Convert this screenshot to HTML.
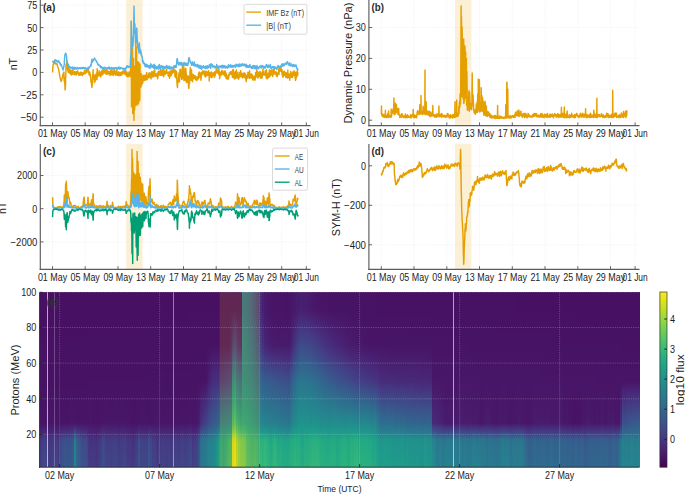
<!DOCTYPE html>
<html><head><meta charset="utf-8"><title>Space weather May 2024</title>
<style>
html,body{margin:0;padding:0;background:#fff;}
body{width:685px;height:494px;position:relative;overflow:hidden;font-family:"Liberation Sans",sans-serif;}
#hm{position:absolute;left:39.6px;top:292.3px;width:600.0px;height:174.9px;overflow:hidden;background:#440c5c;}
#hm i{position:absolute;top:0;height:100%;width:2.60px;display:block;}
</style></head><body>
<div id="hm"><i style="left:0.00px;background:linear-gradient(#471063 0%,#471063 25%,#471164 30%,#471164 51%,#471365 56%,#471365 66%,#481467 71%,#481467 75%,#481d6f 78%,#482878 81%,#453581 84%,#443983 87%,#443b84 93%,#423f85 100%)"></i><i style="left:2.00px;background:linear-gradient(#471063 0%,#471063 25%,#471164 30%,#471164 51%,#471365 56%,#471365 71%,#481467 75%,#481f70 78%,#472c7a 81%,#443b84 84%,#423f85 87%,#414287 93%,#404688 100%)"></i><i style="left:4.00px;background:linear-gradient(#471063 0%,#471063 25%,#471164 30%,#471164 51%,#471365 56%,#471365 66%,#481467 71%,#481467 75%,#482071 78%,#472d7b 81%,#433e85 84%,#424186 87%,#404588 93%,#3f4889 100%)"></i><i style="left:6.00px;background:linear-gradient(#471063 0%,#471063 25%,#471164 30%,#471164 51%,#471365 56%,#481467 61%,#481668 66%,#481668 71%,#481769 75%,#482071 78%,#472a7a 81%,#453882 84%,#443a83 87%,#433e85 93%,#424186 100%)"></i><i style="left:8.00px;background:linear-gradient(#471063 0%,#471063 25%,#471164 30%,#471164 51%,#471365 56%,#471365 61%,#481467 66%,#481467 71%,#481668 75%,#481f70 78%,#482979 81%,#453581 84%,#443983 87%,#443b84 93%,#423f85 100%)"></i><i style="left:10.00px;background:linear-gradient(#471063 0%,#471063 25%,#471164 30%,#471164 51%,#471365 56%,#471365 61%,#481467 66%,#481668 71%,#481668 75%,#481f70 78%,#482878 81%,#463480 84%,#453781 87%,#443a83 93%,#433e85 100%)"></i><i style="left:12.00px;background:linear-gradient(#471063 0%,#471063 25%,#471164 30%,#471164 51%,#471365 56%,#471365 61%,#481467 66%,#481467 71%,#481668 75%,#481f70 78%,#472a7a 81%,#453882 84%,#443b84 87%,#423f85 93%,#414287 100%)"></i><i style="left:14.00px;background:linear-gradient(#471063 0%,#471063 25%,#471164 30%,#471164 51%,#471365 56%,#471365 61%,#481467 66%,#481467 71%,#481668 75%,#481f70 78%,#482979 81%,#453882 84%,#443a83 87%,#433e85 93%,#424186 100%)"></i><i style="left:16.00px;background:linear-gradient(#471063 0%,#471063 25%,#471164 30%,#471164 51%,#471365 56%,#471365 71%,#481467 75%,#481f70 78%,#472a7a 81%,#443a83 84%,#433e85 87%,#424186 93%,#404588 100%)"></i><i style="left:18.00px;background:linear-gradient(#471063 0%,#471063 25%,#471164 30%,#471164 51%,#471365 56%,#471365 75%,#481c6e 78%,#482576 81%,#46307e 84%,#463480 87%,#453781 93%,#443a83 100%)"></i><i style="left:20.00px;background:linear-gradient(#471063 0%,#471063 25%,#471164 30%,#471164 51%,#471365 56%,#471365 71%,#481467 75%,#482173 78%,#46307e 81%,#414487 84%,#3f4889 87%,#3e4a89 93%,#3d4e8a 100%)"></i><i style="left:22.00px;background:linear-gradient(#471063 0%,#471063 25%,#471164 30%,#471164 51%,#471365 56%,#471365 66%,#481467 71%,#481467 75%,#482475 78%,#463480 81%,#3e4a89 84%,#3c4f8a 87%,#3b518b 93%,#3a548c 100%)"></i><i style="left:24.00px;background:linear-gradient(#471063 0%,#471063 25%,#471164 30%,#471164 51%,#471365 56%,#471365 61%,#481467 66%,#481467 71%,#481668 75%,#482576 78%,#453781 81%,#3d4e8a 84%,#3b528b 87%,#39558c 93%,#38598c 100%)"></i><i style="left:26.00px;background:linear-gradient(#471063 0%,#471063 25%,#471164 30%,#471164 51%,#471365 56%,#471365 61%,#481467 66%,#481467 75%,#482576 78%,#453581 81%,#3d4d8a 84%,#3b518b 87%,#3a548c 93%,#38588c 100%)"></i><i style="left:28.00px;background:linear-gradient(#471063 0%,#471063 25%,#471164 30%,#471164 51%,#471365 56%,#471365 61%,#481467 66%,#481467 75%,#482576 78%,#453581 81%,#3e4c8a 84%,#3c508b 87%,#3a538b 93%,#39568c 100%)"></i><i style="left:30.00px;background:linear-gradient(#471063 0%,#471063 25%,#471164 30%,#471164 51%,#471365 56%,#481467 61%,#481668 66%,#481668 71%,#481769 75%,#482878 78%,#443983 81%,#3c4f8a 84%,#3a548c 87%,#39568c 93%,#375a8c 100%)"></i><i style="left:32.00px;background:linear-gradient(#471063 0%,#471063 25%,#471164 30%,#471164 51%,#471365 56%,#481467 61%,#481467 66%,#481668 71%,#481668 75%,#482878 78%,#443a83 81%,#3a538b 84%,#38598c 87%,#375b8d 93%,#355e8d 100%)"></i><i style="left:34.00px;background:linear-gradient(#471063 0%,#471063 25%,#471164 30%,#471164 51%,#471365 56%,#471365 61%,#481467 66%,#481467 71%,#481668 75%,#463480 78%,#3b528b 81%,#29798e 84%,#26818e 87%,#26828e 93%,#25858e 100%)"></i><i style="left:36.00px;background:linear-gradient(#471063 0%,#471063 25%,#471164 30%,#471164 51%,#471365 56%,#471365 61%,#481467 66%,#481467 71%,#481668 75%,#472a7a 78%,#424086 81%,#365d8d 84%,#33638d 87%,#32658e 93%,#31688e 100%)"></i><i style="left:38.00px;background:linear-gradient(#471063 0%,#471063 25%,#471164 30%,#471164 51%,#471365 56%,#471365 61%,#481467 66%,#481467 75%,#482878 78%,#443b84 81%,#3a548c 84%,#375a8c 87%,#365d8d 93%,#34608d 100%)"></i><i style="left:40.00px;background:linear-gradient(#471063 0%,#471063 25%,#471164 30%,#471164 51%,#471365 56%,#471365 61%,#481467 66%,#481467 71%,#481668 75%,#482677 78%,#453781 81%,#3d4e8a 84%,#3b528b 87%,#39558c 93%,#38598c 100%)"></i><i style="left:42.00px;background:linear-gradient(#471063 0%,#471063 25%,#471164 30%,#471164 51%,#471365 56%,#471365 61%,#481467 66%,#481467 71%,#481668 75%,#482475 78%,#46337f 81%,#3f4788 84%,#3e4a89 87%,#3d4e8a 93%,#3b518b 100%)"></i><i style="left:44.00px;background:linear-gradient(#471063 0%,#471063 25%,#471164 30%,#471164 51%,#471365 56%,#471365 61%,#481467 66%,#481467 75%,#482475 78%,#463480 81%,#3e4a89 84%,#3c4f8a 87%,#3b518b 93%,#3a548c 100%)"></i><i style="left:46.00px;background:linear-gradient(#471063 0%,#471063 25%,#471164 30%,#471164 46%,#471365 51%,#471365 61%,#481467 66%,#481467 71%,#481668 75%,#482374 78%,#46307e 81%,#414287 84%,#3f4788 87%,#3e4989 93%,#3d4d8a 100%)"></i><i style="left:48.00px;background:linear-gradient(#471063 0%,#471063 20%,#471164 25%,#471164 46%,#471365 51%,#471365 56%,#481467 61%,#481668 66%,#481668 71%,#481769 75%,#481f70 78%,#482878 81%,#46337f 84%,#453781 87%,#443983 93%,#433d84 100%)"></i><i style="left:50.00px;background:linear-gradient(#471063 0%,#471063 20%,#471164 25%,#471164 46%,#471365 51%,#471365 56%,#481467 61%,#481668 66%,#481769 71%,#481769 75%,#481f70 78%,#482677 81%,#46307e 84%,#46337f 87%,#453781 93%,#443a83 100%)"></i><i style="left:52.00px;background:linear-gradient(#471063 0%,#471063 20%,#471164 25%,#471164 46%,#471365 51%,#471365 61%,#481467 66%,#481467 75%,#481d6f 78%,#482677 81%,#46337f 84%,#453581 87%,#443983 93%,#433d84 100%)"></i><i style="left:54.00px;background:linear-gradient(#471063 0%,#471063 20%,#471164 25%,#471164 46%,#471365 51%,#471365 61%,#481467 66%,#481467 75%,#481d6f 78%,#482576 81%,#46307e 84%,#463480 87%,#453781 93%,#443a83 100%)"></i><i style="left:56.00px;background:linear-gradient(#471063 0%,#471063 20%,#471164 25%,#471164 46%,#471365 51%,#471365 66%,#481467 71%,#481467 75%,#481c6e 78%,#482475 81%,#472e7c 84%,#46327e 87%,#463480 93%,#453882 100%)"></i><i style="left:58.00px;background:linear-gradient(#471063 0%,#471063 20%,#471164 25%,#471164 46%,#471365 51%,#471365 61%,#481467 66%,#481467 75%,#481d6f 78%,#482878 81%,#463480 84%,#453882 87%,#443a83 93%,#433e85 100%)"></i><i style="left:60.00px;background:linear-gradient(#471063 0%,#471063 20%,#471164 25%,#471164 46%,#471365 51%,#471365 61%,#481467 66%,#481467 75%,#482071 78%,#472c7a 81%,#443a83 84%,#433e85 87%,#424186 93%,#404588 100%)"></i><i style="left:62.00px;background:linear-gradient(#471063 0%,#471063 20%,#471164 25%,#471164 46%,#471365 51%,#471365 56%,#481467 61%,#481467 66%,#481668 71%,#481668 75%,#482475 78%,#46327e 81%,#414487 84%,#3f4889 87%,#3e4c8a 93%,#3c4f8a 100%)"></i><i style="left:64.00px;background:linear-gradient(#471063 0%,#471063 20%,#471164 25%,#471164 46%,#471365 51%,#471365 56%,#481467 61%,#481668 66%,#481668 71%,#481769 75%,#482374 78%,#472f7d 81%,#424186 84%,#404588 87%,#3f4889 93%,#3e4c8a 100%)"></i><i style="left:66.00px;background:linear-gradient(#471063 0%,#471063 20%,#471164 25%,#471164 46%,#471365 51%,#471365 56%,#481467 61%,#481668 66%,#481668 71%,#481769 75%,#482173 78%,#472c7a 81%,#443983 84%,#433d84 87%,#423f85 93%,#414287 100%)"></i><i style="left:68.00px;background:linear-gradient(#471063 0%,#471063 20%,#471164 25%,#471164 46%,#471365 51%,#471365 56%,#481467 61%,#481668 66%,#481668 71%,#481769 75%,#482173 78%,#472d7b 81%,#443b84 84%,#423f85 87%,#414287 93%,#404688 100%)"></i><i style="left:70.00px;background:linear-gradient(#471063 0%,#471063 20%,#471164 25%,#471164 46%,#471365 51%,#471365 56%,#481467 61%,#481467 66%,#481668 71%,#481769 75%,#482071 78%,#472a7a 81%,#443983 84%,#433d84 87%,#423f85 93%,#414287 100%)"></i><i style="left:72.00px;background:linear-gradient(#471063 0%,#471063 20%,#471164 25%,#471164 46%,#471365 51%,#471365 56%,#481467 61%,#481467 66%,#481668 71%,#481769 75%,#482173 78%,#472d7b 81%,#443b84 84%,#423f85 87%,#424186 93%,#404588 100%)"></i><i style="left:74.00px;background:linear-gradient(#471063 0%,#471063 20%,#471164 25%,#471164 46%,#471365 51%,#471365 56%,#481467 61%,#481668 66%,#481668 71%,#481769 75%,#482374 78%,#472e7c 81%,#433e85 84%,#414287 87%,#404588 93%,#3f4889 100%)"></i><i style="left:76.00px;background:linear-gradient(#471063 0%,#471063 20%,#471164 25%,#471164 46%,#471365 51%,#471365 56%,#481467 61%,#481668 66%,#481668 71%,#481769 75%,#482173 78%,#472c7a 81%,#443a83 84%,#433e85 87%,#424186 93%,#404588 100%)"></i><i style="left:78.00px;background:linear-gradient(#471063 0%,#471063 20%,#471164 25%,#471164 46%,#471365 51%,#471365 56%,#481467 61%,#481467 66%,#481668 71%,#481769 75%,#482071 78%,#482979 81%,#453581 84%,#443983 87%,#433d84 93%,#424086 100%)"></i><i style="left:80.00px;background:linear-gradient(#471063 0%,#471063 20%,#471164 25%,#471164 46%,#471365 51%,#471365 56%,#481467 61%,#481668 66%,#481668 71%,#481769 75%,#482173 78%,#472c7a 81%,#443983 84%,#433d84 87%,#423f85 93%,#414287 100%)"></i><i style="left:82.00px;background:linear-gradient(#471063 0%,#471063 20%,#471164 25%,#471164 46%,#471365 51%,#471365 56%,#481467 61%,#481668 66%,#481668 71%,#481769 75%,#482173 78%,#472c7a 81%,#443a83 84%,#433e85 87%,#424086 93%,#414487 100%)"></i><i style="left:84.00px;background:linear-gradient(#471063 0%,#471063 20%,#471164 25%,#471164 46%,#471365 51%,#471365 56%,#481467 61%,#481467 66%,#481668 71%,#481769 75%,#482173 78%,#472e7c 81%,#433e85 84%,#424186 87%,#404588 93%,#3f4889 100%)"></i><i style="left:86.00px;background:linear-gradient(#471063 0%,#471063 20%,#471164 25%,#471164 46%,#471365 51%,#471365 56%,#481467 61%,#481467 66%,#481668 71%,#481668 75%,#481f70 78%,#482979 81%,#453581 84%,#443983 87%,#443b84 93%,#423f85 100%)"></i><i style="left:88.00px;background:linear-gradient(#471063 0%,#471063 20%,#471164 25%,#471164 46%,#471365 51%,#471365 61%,#481467 66%,#481467 71%,#481668 75%,#481f70 78%,#482878 81%,#463480 84%,#453882 87%,#443a83 93%,#433e85 100%)"></i><i style="left:90.00px;background:linear-gradient(#471063 0%,#471063 20%,#471164 25%,#471164 46%,#471365 51%,#471365 61%,#481467 66%,#481467 75%,#481d6f 78%,#482677 81%,#46337f 84%,#453781 87%,#443983 93%,#433d84 100%)"></i><i style="left:92.00px;background:linear-gradient(#471063 0%,#471063 20%,#471164 25%,#471164 46%,#471365 51%,#471365 75%,#481b6d 78%,#482374 81%,#472e7c 84%,#46307e 87%,#463480 93%,#453882 100%)"></i><i style="left:94.00px;background:linear-gradient(#471063 0%,#471063 20%,#471164 25%,#471164 46%,#471365 51%,#471365 66%,#481467 71%,#481467 75%,#481d6f 78%,#482878 81%,#463480 84%,#453882 87%,#443b84 93%,#433e85 100%)"></i><i style="left:96.00px;background:linear-gradient(#471063 0%,#471063 20%,#471164 25%,#471164 46%,#471365 51%,#471365 61%,#481467 66%,#481467 75%,#481f70 78%,#472a7a 81%,#443983 84%,#433d84 87%,#424086 93%,#414487 100%)"></i><i style="left:98.00px;background:linear-gradient(#471063 0%,#471063 15%,#471164 20%,#471164 46%,#471365 51%,#471365 61%,#481467 66%,#481467 75%,#482576 78%,#453581 81%,#3d4d8a 84%,#3b518b 87%,#3a548c 93%,#38588c 100%)"></i><i style="left:100.00px;background:linear-gradient(#471063 0%,#471063 15%,#471164 20%,#471164 46%,#471365 51%,#471365 56%,#481467 61%,#481467 66%,#481668 71%,#481668 75%,#482173 78%,#472d7b 81%,#433e85 84%,#424186 87%,#414487 93%,#3f4788 100%)"></i><i style="left:102.00px;background:linear-gradient(#471063 0%,#471063 15%,#471164 20%,#471164 46%,#471365 51%,#471365 56%,#481467 61%,#481467 66%,#481668 71%,#481668 75%,#482173 78%,#472e7c 81%,#433e85 84%,#414287 87%,#404588 93%,#3f4889 100%)"></i><i style="left:104.00px;background:linear-gradient(#471063 0%,#471063 15%,#471164 20%,#471164 46%,#471365 51%,#471365 56%,#481467 61%,#481467 66%,#481668 71%,#481668 75%,#482173 78%,#472e7c 81%,#433e85 84%,#424186 87%,#404588 93%,#3f4889 100%)"></i><i style="left:106.00px;background:linear-gradient(#471063 0%,#471063 15%,#471164 20%,#471164 46%,#471365 51%,#471365 66%,#481467 71%,#481467 75%,#482071 78%,#472d7b 81%,#433d84 84%,#424086 87%,#414487 93%,#3f4788 100%)"></i><i style="left:108.00px;background:linear-gradient(#471063 0%,#471063 15%,#471164 20%,#471164 46%,#471365 51%,#471365 66%,#481467 71%,#481467 75%,#482475 78%,#453581 81%,#3e4c8a 84%,#3b518b 87%,#3a538b 93%,#39568c 100%)"></i><i style="left:110.00px;background:linear-gradient(#471063 0%,#471063 15%,#471164 20%,#471164 41%,#471365 46%,#471365 61%,#481467 66%,#481467 75%,#482374 78%,#46307e 81%,#414487 84%,#3f4889 87%,#3e4a89 93%,#3d4e8a 100%)"></i><i style="left:112.00px;background:linear-gradient(#471063 0%,#471063 15%,#471164 20%,#471164 41%,#471365 46%,#471365 56%,#481467 61%,#481467 66%,#481668 71%,#481668 75%,#482071 78%,#472c7a 81%,#443a83 84%,#433e85 87%,#424086 93%,#414487 100%)"></i><i style="left:114.00px;background:linear-gradient(#471063 0%,#471063 15%,#471164 20%,#471164 41%,#471365 46%,#471365 56%,#481467 61%,#481668 66%,#481769 71%,#481769 75%,#482173 78%,#472d7b 81%,#443b84 84%,#423f85 87%,#414287 93%,#404688 100%)"></i><i style="left:116.00px;background:linear-gradient(#471063 0%,#471063 15%,#471164 20%,#471164 41%,#471365 46%,#471365 51%,#481467 56%,#481467 61%,#481668 66%,#481769 71%,#48186a 75%,#482071 78%,#482878 81%,#46327e 84%,#453581 87%,#453882 93%,#443b84 100%)"></i><i style="left:118.00px;background:linear-gradient(#471063 0%,#471063 15%,#471164 20%,#471164 41%,#471365 46%,#471365 56%,#481467 61%,#481668 66%,#481668 71%,#481769 75%,#482071 78%,#472a7a 81%,#453781 84%,#443a83 87%,#433e85 93%,#424186 100%)"></i><i style="left:120.00px;background:linear-gradient(#471063 0%,#471063 15%,#471164 20%,#471164 41%,#471365 46%,#471365 61%,#481467 66%,#481467 75%,#481f70 78%,#482979 81%,#453781 84%,#443a83 87%,#433d84 93%,#424086 100%)"></i><i style="left:122.00px;background:linear-gradient(#471063 0%,#471063 15%,#471164 20%,#471164 41%,#471365 46%,#471365 56%,#481467 61%,#481467 71%,#481668 75%,#482071 78%,#472c7a 81%,#443b84 84%,#423f85 87%,#424186 93%,#404588 100%)"></i><i style="left:124.00px;background:linear-gradient(#471063 0%,#471063 15%,#471164 20%,#471164 41%,#471365 46%,#471365 56%,#481467 61%,#481467 71%,#481668 75%,#481f70 78%,#472a7a 81%,#453882 84%,#443b84 87%,#433e85 93%,#424186 100%)"></i><i style="left:126.00px;background:linear-gradient(#471063 0%,#471063 15%,#471164 20%,#471164 41%,#471365 46%,#471365 56%,#481467 61%,#481467 66%,#481668 71%,#481668 75%,#482071 78%,#472a7a 81%,#453882 84%,#443b84 87%,#433e85 93%,#424186 100%)"></i><i style="left:128.00px;background:linear-gradient(#471063 0%,#471063 15%,#471164 20%,#471164 41%,#471365 46%,#471365 56%,#481467 61%,#481467 66%,#481668 71%,#481668 75%,#482071 78%,#472c7a 81%,#443983 84%,#433d84 87%,#424086 93%,#414487 100%)"></i><i style="left:130.00px;background:linear-gradient(#471063 0%,#471063 15%,#471164 20%,#471164 41%,#471365 46%,#471365 56%,#481467 61%,#481467 66%,#481668 71%,#481668 75%,#481f70 78%,#482979 81%,#453581 84%,#453882 87%,#443b84 93%,#423f85 100%)"></i><i style="left:132.00px;background:linear-gradient(#471063 0%,#471063 15%,#471164 20%,#471164 41%,#471365 46%,#471365 61%,#481467 66%,#481467 75%,#481f70 78%,#472a7a 81%,#443983 84%,#433d84 87%,#424086 93%,#414487 100%)"></i><i style="left:134.00px;background:linear-gradient(#471063 0%,#471063 15%,#471164 20%,#471164 41%,#471365 46%,#471365 56%,#481467 61%,#481467 71%,#481668 75%,#481f70 78%,#472a7a 81%,#453882 84%,#443b84 87%,#423f85 93%,#414287 100%)"></i><i style="left:136.00px;background:linear-gradient(#471063 0%,#471063 15%,#471164 20%,#471164 41%,#471365 46%,#471365 61%,#481467 66%,#481467 71%,#481668 75%,#482071 78%,#472c7a 81%,#443a83 84%,#433e85 87%,#424186 93%,#404588 100%)"></i><i style="left:138.00px;background:linear-gradient(#471063 0%,#471063 15%,#471164 20%,#471164 41%,#471365 46%,#471365 56%,#481467 61%,#481467 71%,#481668 75%,#481f70 78%,#482979 81%,#453781 84%,#443a83 87%,#433d84 93%,#424086 100%)"></i><i style="left:140.00px;background:linear-gradient(#471063 0%,#471063 15%,#471164 20%,#471164 41%,#471365 46%,#471365 56%,#481467 61%,#481467 66%,#481668 71%,#481668 75%,#482173 78%,#472d7b 81%,#433d84 84%,#424086 87%,#414287 93%,#404688 100%)"></i><i style="left:142.00px;background:linear-gradient(#471063 0%,#471063 15%,#471164 20%,#471164 41%,#471365 46%,#471365 56%,#481467 61%,#481467 66%,#481668 71%,#481668 75%,#482173 78%,#472d7b 81%,#433d84 84%,#424086 87%,#414487 93%,#3f4788 100%)"></i><i style="left:144.00px;background:linear-gradient(#471063 0%,#471063 15%,#471164 20%,#471164 41%,#471365 46%,#471365 56%,#481467 61%,#481467 66%,#481668 71%,#481668 75%,#482071 78%,#472a7a 81%,#443983 84%,#433d84 87%,#424086 93%,#414487 100%)"></i><i style="left:146.00px;background:linear-gradient(#471063 0%,#471063 15%,#471164 20%,#471164 41%,#471365 46%,#471365 56%,#481467 61%,#481467 66%,#481668 71%,#481668 75%,#482071 78%,#472c7a 81%,#443b84 84%,#423f85 87%,#424186 93%,#404588 100%)"></i><i style="left:148.00px;background:linear-gradient(#471063 0%,#471063 15%,#471164 20%,#471164 41%,#471365 46%,#471365 56%,#481467 61%,#481467 66%,#481668 71%,#481769 75%,#482374 78%,#472e7c 81%,#423f85 84%,#414287 87%,#404688 93%,#3e4989 100%)"></i><i style="left:150.00px;background:linear-gradient(#471063 0%,#471063 10%,#471164 15%,#471164 41%,#471365 46%,#471365 56%,#481467 61%,#481668 66%,#481668 71%,#481769 75%,#482475 78%,#46307e 81%,#414287 84%,#3f4788 87%,#3e4989 93%,#3d4d8a 100%)"></i><i style="left:152.00px;background:linear-gradient(#471063 0%,#471063 10%,#471164 15%,#471164 41%,#471365 46%,#471365 56%,#481467 61%,#481467 66%,#481668 71%,#481668 75%,#481f70 78%,#482979 81%,#453581 84%,#443983 87%,#433d84 93%,#424086 100%)"></i><i style="left:154.00px;background:linear-gradient(#471063 0%,#471063 10%,#471164 15%,#471164 36%,#471365 41%,#471365 56%,#481467 61%,#481467 66%,#481668 71%,#481668 75%,#482071 78%,#472c7a 81%,#443a83 84%,#433e85 87%,#424186 93%,#404588 100%)"></i><i style="left:156.00px;background:linear-gradient(#471063 0%,#471063 10%,#471164 15%,#471164 36%,#471365 41%,#471365 56%,#481467 61%,#481668 66%,#481668 71%,#481769 75%,#482173 78%,#472d7b 81%,#443b84 84%,#423f85 87%,#424186 93%,#404588 100%)"></i><i style="left:158.00px;background:linear-gradient(#471063 0%,#471063 10%,#471164 15%,#471164 36%,#471365 41%,#471365 51%,#481668 56%,#481769 61%,#481a6c 66%,#481c6e 71%,#481f70 75%,#472d7b 78%,#443b84 81%,#3c4f8a 84%,#3a538b 87%,#39558c 93%,#38598c 100%)"></i><i style="left:160.00px;background:linear-gradient(#471063 0%,#471063 10%,#471164 15%,#471164 36%,#471365 41%,#471365 51%,#48186a 56%,#481f70 61%,#482576 66%,#472a7a 71%,#472f7d 75%,#424086 78%,#3b528b 81%,#30698e 84%,#2e6d8e 87%,#2d708e 93%,#2c728e 100%)"></i><i style="left:162.00px;background:linear-gradient(#471063 0%,#471063 10%,#471164 15%,#471164 36%,#471365 41%,#471365 51%,#481b6d 56%,#482374 61%,#472a7a 66%,#46327e 71%,#453882 75%,#3e4989 78%,#375a8c 81%,#2d718e 84%,#2b758e 87%,#2a788e 93%,#297b8e 100%)"></i><i style="left:164.00px;background:linear-gradient(#471063 0%,#471063 10%,#471164 15%,#471164 36%,#471365 41%,#471365 51%,#481c6e 56%,#482576 61%,#472f7d 66%,#453882 71%,#423f85 75%,#3d4d8a 78%,#365c8d 81%,#2d708e 84%,#2c738e 87%,#2a768e 93%,#29798e 100%)"></i><i style="left:166.00px;background:linear-gradient(#471063 0%,#471063 10%,#471164 15%,#471164 30%,#471365 36%,#481467 41%,#481668 46%,#481769 51%,#482173 56%,#472c7a 61%,#463480 66%,#433e85 71%,#404588 75%,#3a538b 78%,#33628d 81%,#2a768e 84%,#297a8e 87%,#287d8e 93%,#27808e 100%)"></i><i style="left:168.00px;background:linear-gradient(#471063 0%,#471063 10%,#471164 15%,#471164 30%,#481668 36%,#48186a 41%,#481c6e 46%,#482071 51%,#472a7a 56%,#46337f 61%,#433d84 66%,#404688 71%,#3d4d8a 75%,#375b8d 78%,#306a8e 81%,#287d8e 84%,#26828e 87%,#25838e 93%,#24868e 100%)"></i><i style="left:170.00px;background:linear-gradient(#471063 0%,#471063 10%,#471164 15%,#471164 30%,#48186a 36%,#481d6f 41%,#482374 46%,#482878 51%,#46327e 56%,#443b84 61%,#414487 66%,#3d4d8a 71%,#3a538b 75%,#355f8d 78%,#2f6b8e 81%,#297b8e 84%,#277f8e 87%,#26828e 93%,#25838e 100%)"></i><i style="left:172.00px;background:linear-gradient(#471063 0%,#471063 10%,#471164 15%,#471164 30%,#481a6c 36%,#482071 41%,#482677 46%,#472d7b 51%,#453781 56%,#424086 61%,#3e4989 66%,#3b528b 71%,#38598c 75%,#32648e 78%,#2d708e 81%,#27808e 84%,#25838e 87%,#24868e 93%,#23898e 100%)"></i><i style="left:174.00px;background:linear-gradient(#471063 0%,#471063 10%,#471164 15%,#471164 30%,#481a6c 36%,#482071 41%,#482878 46%,#472e7c 51%,#453882 56%,#414287 61%,#3e4c8a 66%,#3a548c 71%,#365c8d 75%,#31678e 78%,#2c718e 81%,#26828e 84%,#25858e 87%,#24878e 93%,#238a8d 100%)"></i><i style="left:176.00px;background:linear-gradient(#471063 0%,#471063 10%,#471164 15%,#471164 30%,#481a6c 36%,#482173 41%,#482979 46%,#472f7d 51%,#443a83 56%,#404588 61%,#3c4f8a 66%,#38588c 71%,#355f8d 75%,#2f6c8e 78%,#29798e 81%,#228c8d 84%,#21908d 87%,#20928c 93%,#1f948c 100%)"></i><i style="left:178.00px;background:linear-gradient(#471063 0%,#471063 10%,#471164 15%,#471164 30%,#481a6c 36%,#482173 41%,#482979 46%,#46307e 51%,#433d84 56%,#3f4788 61%,#3b528b 66%,#365c8d 71%,#32648e 75%,#2c738e 78%,#25838e 81%,#1f9a8a 84%,#1f9f88 87%,#1fa187 93%,#20a486 100%)"></i><i style="left:180.00px;background:linear-gradient(#471063 0%,#471063 10%,#471164 15%,#471164 30%,#481b6d 36%,#482374 41%,#472c7a 46%,#46337f 51%,#404588 56%,#3a548c 61%,#32648e 66%,#2c728e 71%,#277e8e 75%,#23888e 78%,#1f948c 81%,#21a585 84%,#23a983 87%,#25ac82 93%,#28ae80 100%)"></i><i style="left:182.00px;background:linear-gradient(#471063 0%,#471063 10%,#471164 15%,#471164 30%,#481b6d 36%,#482475 41%,#472d7b 46%,#453581 51%,#404688 56%,#39558c 61%,#32648e 66%,#2c718e 71%,#287d8e 75%,#24868e 78%,#20928c 81%,#1fa188 84%,#20a486 87%,#21a685 93%,#23a983 100%)"></i><i style="left:184.00px;background:linear-gradient(#471063 0%,#471063 10%,#471164 15%,#471164 30%,#481c6e 36%,#482677 41%,#472f7d 46%,#443983 51%,#3e4989 56%,#38598c 61%,#31688e 66%,#2b758e 71%,#27808e 75%,#238a8d 78%,#1f948c 81%,#20a386 84%,#22a785 87%,#23a983 93%,#25ac82 100%)"></i><i style="left:186.00px;background:linear-gradient(#471063 0%,#471063 10%,#471164 15%,#471164 30%,#481d6f 36%,#482878 41%,#46327e 46%,#443b84 51%,#3e4c8a 56%,#375b8d 61%,#306a8e 66%,#2a778e 71%,#26828e 75%,#228d8d 78%,#1f998a 81%,#24aa83 84%,#27ad81 87%,#2ab07f 93%,#2eb37c 100%)"></i><i style="left:188.00px;background:linear-gradient(#471063 0%,#471063 10%,#471164 15%,#471164 30%,#481d6f 36%,#482979 41%,#463480 46%,#433e85 51%,#3c4f8a 56%,#355e8d 61%,#2e6d8e 66%,#297a8e 71%,#25858e 75%,#21918c 78%,#1f9f88 81%,#2cb17e 84%,#31b57b 87%,#35b779 93%,#3aba76 100%)"></i><i style="left:190.00px;background:linear-gradient(#471063 0%,#471063 10%,#481467 15%,#481769 20%,#481a6c 25%,#481d6f 30%,#482677 36%,#472f7d 41%,#453882 46%,#424186 51%,#3b518b 56%,#34608d 61%,#2e6f8e 66%,#287c8e 71%,#24878e 75%,#20938c 78%,#1fa188 81%,#2eb37c 84%,#34b679 87%,#38b977 93%,#3dbc74 100%)"></i><i style="left:192.00px;background:linear-gradient(#471063 0%,#471063 10%,#481a6c 15%,#482173 20%,#482979 25%,#46327e 30%,#3e4989 36%,#34608d 41%,#2b748e 46%,#24878e 51%,#20938c 56%,#1f9f88 61%,#24aa83 66%,#31b57b 71%,#40bd72 75%,#5ec962 78%,#86d549 81%,#c5e021 84%,#d5e21a 87%,#dae319 93%,#e2e418 100%)"></i><i style="left:194.00px;background:linear-gradient(#471063 0%,#471063 10%,#481d6f 15%,#472a7a 20%,#453781 25%,#424186 30%,#38588c 36%,#2f6c8e 41%,#277f8e 46%,#21918c 51%,#1e9d89 56%,#22a884 61%,#2eb37c 66%,#40bd72 71%,#54c568 75%,#75d054 78%,#9dd93b 81%,#dae319 84%,#e7e419 87%,#ece51b 93%,#f4e61e 100%)"></i><i style="left:196.00px;background:linear-gradient(#471063 0%,#471063 10%,#48186a 15%,#482173 20%,#482979 25%,#46307e 30%,#414487 36%,#39568c 41%,#31678e 46%,#2a778e 51%,#25848e 56%,#20928c 61%,#1f9e89 66%,#25ab82 71%,#32b67a 75%,#48c16e 78%,#67cc5c 81%,#9bd93c 84%,#a8db34 87%,#b0dd2f 93%,#b8de29 100%)"></i><i style="left:198.00px;background:linear-gradient(#471063 0%,#471063 10%,#481668 15%,#481b6d 20%,#482071 25%,#482576 30%,#443983 36%,#3d4d8a 41%,#355e8d 46%,#2e6f8e 51%,#287c8e 56%,#23898e 61%,#1f958b 66%,#1fa287 71%,#26ad81 75%,#37b878 78%,#4ec36b 81%,#7ad151 84%,#84d44b 87%,#8bd646 93%,#93d741 100%)"></i><i style="left:200.00px;background:linear-gradient(#471063 0%,#471063 10%,#481668 15%,#481a6c 20%,#481d6f 25%,#482173 30%,#453581 36%,#3f4788 41%,#38598c 46%,#30698e 51%,#2b758e 56%,#26828e 61%,#218f8d 66%,#1e9c89 71%,#21a585 75%,#2cb17e 78%,#40bd72 81%,#69cd5b 84%,#75d054 87%,#7ad151 93%,#81d34d 100%)"></i><i style="left:202.00px;background:linear-gradient(#2a768e 0%,#2a768e 10%,#297a8e 15%,#277e8e 20%,#26828e 25%,#24868e 30%,#23888e 36%,#228b8d 41%,#228d8d 46%,#21908d 51%,#1f948c 56%,#1f9a8a 61%,#1fa088 66%,#21a585 71%,#24aa83 75%,#2fb47c 78%,#42be71 81%,#67cc5c 84%,#70cf57 87%,#75d054 93%,#7cd250 100%)"></i><i style="left:204.00px;background:linear-gradient(#2c718e 0%,#2c718e 10%,#2b758e 15%,#297a8e 20%,#277e8e 25%,#26828e 30%,#25848e 36%,#24868e 41%,#23898e 46%,#228c8d 51%,#20928c 56%,#1f978b 61%,#1e9d89 66%,#20a386 71%,#22a785 75%,#2db27d 78%,#3fbc73 81%,#5ec962 84%,#67cc5c 87%,#6ece58 93%,#75d054 100%)"></i><i style="left:206.00px;background:linear-gradient(#2e6e8e 0%,#2e6e8e 10%,#2c718e 15%,#2b758e 20%,#29798e 25%,#287c8e 30%,#27808e 36%,#26828e 41%,#25858e 46%,#23898e 51%,#218f8d 56%,#1f948c 61%,#1f9a8a 66%,#1fa088 71%,#20a486 75%,#25ac82 78%,#2eb37c 81%,#3fbc73 84%,#44bf70 87%,#48c16e 93%,#4ec36b 100%)"></i><i style="left:208.00px;background:linear-gradient(#306a8e 0%,#306a8e 10%,#2e6d8e 15%,#2d718e 20%,#2c738e 25%,#2a778e 30%,#297b8e 36%,#277f8e 41%,#26828e 46%,#25858e 51%,#228b8d 56%,#21918c 61%,#1f968b 66%,#1e9c89 71%,#1fa188 75%,#22a884 78%,#29af7f 81%,#3aba76 84%,#3fbc73 87%,#42be71 93%,#48c16e 100%)"></i><i style="left:210.00px;background:linear-gradient(#33638d 0%,#33638d 10%,#31678e 15%,#2f6b8e 20%,#2e6f8e 25%,#2c728e 30%,#2a768e 36%,#297a8e 41%,#277e8e 46%,#26828e 51%,#23888e 56%,#218e8d 61%,#20938c 66%,#1f9a8a 71%,#1f9f88 75%,#20a486 78%,#25ac82 81%,#31b57b 84%,#35b779 87%,#38b977 93%,#3dbc74 100%)"></i><i style="left:212.00px;background:linear-gradient(#38598c 0%,#38598c 10%,#365d8d 15%,#33628d 20%,#31678e 25%,#2f6b8e 30%,#2d708e 36%,#2b748e 41%,#29798e 46%,#287d8e 51%,#25838e 56%,#23898e 61%,#21908d 66%,#1f958b 71%,#1f9a8a 75%,#1fa187 78%,#23a983 81%,#2eb37c 84%,#32b67a 87%,#37b878 93%,#3bbb75 100%)"></i><i style="left:214.00px;background:linear-gradient(#3d4e8a 0%,#3d4e8a 10%,#3a538b 15%,#38588c 20%,#365d8d 25%,#34618d 30%,#31678e 36%,#2e6d8e 41%,#2c718e 46%,#2a778e 51%,#277e8e 56%,#25848e 61%,#238a8d 66%,#21918c 71%,#1f968b 75%,#1f9f88 78%,#22a884 81%,#31b57b 84%,#37b878 87%,#3aba76 93%,#3fbc73 100%)"></i><i style="left:216.00px;background:linear-gradient(#414487 0%,#414487 10%,#3f4889 15%,#3d4d8a 20%,#3b528b 25%,#39568c 30%,#355e8d 36%,#32648e 41%,#2f6b8e 46%,#2d718e 51%,#2a778e 56%,#277e8e 61%,#25848e 66%,#228c8d 71%,#21918c 75%,#1f9a8a 78%,#20a386 81%,#2cb17e 84%,#31b57b 87%,#34b679 93%,#38b977 100%)"></i><i style="left:218.00px;background:linear-gradient(#453882 0%,#453882 10%,#433d84 15%,#414287 20%,#3f4788 25%,#3d4d8a 30%,#3a548c 36%,#365c8d 41%,#33638d 46%,#2f6b8e 51%,#2c718e 56%,#2a788e 61%,#277f8e 66%,#25858e 71%,#228b8d 75%,#20938c 78%,#1f9e89 81%,#25ab82 84%,#28ae80 87%,#2ab07f 93%,#2eb37c 100%)"></i><i style="left:220.00px;background:linear-gradient(#472d7b 0%,#472d7b 10%,#46307e 15%,#453581 20%,#443a83 25%,#423f85 30%,#3e4989 36%,#3a538b 41%,#365c8d 46%,#32658e 51%,#2e6d8e 56%,#2b748e 61%,#297b8e 66%,#26828e 71%,#23888e 75%,#20928c 78%,#1f9f88 81%,#28ae80 84%,#2db27d 87%,#31b57b 93%,#35b779 100%)"></i><i style="left:222.00px;background:linear-gradient(#482173 0%,#482173 10%,#482576 15%,#482878 20%,#472c7a 25%,#472f7d 30%,#433d84 36%,#3e4989 41%,#39558c 46%,#34618d 51%,#30698e 56%,#2d718e 61%,#2a778e 66%,#277f8e 71%,#25858e 75%,#21918c 78%,#1e9d89 81%,#27ad81 84%,#2db27d 87%,#2fb47c 93%,#34b679 100%)"></i><i style="left:224.00px;background:linear-gradient(#481b6d 0%,#481b6d 10%,#481d6f 15%,#482071 20%,#482374 25%,#482576 30%,#463480 36%,#414487 41%,#3b518b 46%,#355e8d 51%,#31668e 56%,#2e6e8e 61%,#2b758e 66%,#277e8e 71%,#25838e 75%,#21918c 78%,#1f9e89 81%,#2cb17e 84%,#32b67a 87%,#35b779 93%,#3aba76 100%)"></i><i style="left:226.00px;background:linear-gradient(#48186a 0%,#48186a 10%,#481b6d 15%,#481d6f 20%,#482071 25%,#482374 30%,#46327e 36%,#424186 41%,#3c4f8a 46%,#365d8d 51%,#32658e 56%,#2e6d8e 61%,#2b758e 66%,#287d8e 71%,#25838e 75%,#218f8d 78%,#1e9b8a 81%,#27ad81 84%,#2cb17e 87%,#2eb37c 93%,#32b67a 100%)"></i><i style="left:228.00px;background:linear-gradient(#481769 0%,#481769 10%,#481a6c 15%,#481b6d 20%,#481d6f 25%,#482071 30%,#472f7d 36%,#423f85 41%,#3d4e8a 46%,#365c8d 51%,#32648e 56%,#2f6c8e 61%,#2c738e 66%,#297b8e 71%,#26828e 75%,#228d8d 78%,#1f988b 81%,#24aa83 84%,#27ad81 87%,#29af7f 93%,#2db27d 100%)"></i><i style="left:230.00px;background:linear-gradient(#481668 0%,#481668 10%,#481769 15%,#481a6c 20%,#481b6d 25%,#481d6f 30%,#472d7b 36%,#433d84 41%,#3e4c8a 46%,#375a8c 51%,#33628d 56%,#306a8e 61%,#2c728e 66%,#297a8e 71%,#27808e 75%,#238a8d 78%,#1f958b 81%,#21a585 84%,#23a983 87%,#25ab82 93%,#27ad81 100%)"></i><i style="left:232.00px;background:linear-gradient(#481467 0%,#481467 10%,#481668 15%,#48186a 20%,#481a6c 25%,#481b6d 30%,#472c7a 36%,#443b84 41%,#3e4a89 46%,#38598c 51%,#34618d 56%,#30698e 61%,#2d718e 66%,#2a788e 71%,#277f8e 75%,#238a8d 78%,#1f978b 81%,#24aa83 84%,#27ad81 87%,#2ab07f 93%,#2eb37c 100%)"></i><i style="left:234.00px;background:linear-gradient(#481467 0%,#481467 10%,#481668 15%,#48186a 20%,#481a6c 25%,#481b6d 30%,#472c7a 36%,#443a83 41%,#3e4989 46%,#38588c 51%,#34608d 56%,#30698e 61%,#2d718e 66%,#2a788e 71%,#277f8e 75%,#228c8d 78%,#1f9a8a 81%,#28ae80 84%,#2eb37c 87%,#31b57b 93%,#35b779 100%)"></i><i style="left:236.00px;background:linear-gradient(#481467 0%,#481467 10%,#481668 15%,#481769 20%,#481a6c 25%,#481b6d 30%,#472a7a 36%,#443a83 41%,#3f4889 46%,#39568c 51%,#355f8d 56%,#31678e 61%,#2d708e 66%,#2a778e 71%,#277e8e 75%,#23898e 78%,#1f968b 81%,#22a884 84%,#25ac82 87%,#28ae80 93%,#2cb17e 100%)"></i><i style="left:238.00px;background:linear-gradient(#481467 0%,#481467 10%,#481668 15%,#481769 20%,#48186a 25%,#481b6d 30%,#472a7a 36%,#443983 41%,#3f4788 46%,#3a548c 51%,#365d8d 56%,#32658e 61%,#2e6e8e 66%,#2b758e 71%,#297b8e 75%,#24868e 78%,#20938c 81%,#20a486 84%,#23a983 87%,#25ab82 93%,#27ad81 100%)"></i><i style="left:240.00px;background:linear-gradient(#481467 0%,#481467 10%,#481668 15%,#481769 20%,#48186a 25%,#481a6c 30%,#482979 36%,#453882 41%,#404688 46%,#3a538b 51%,#365c8d 56%,#32648e 61%,#2e6d8e 66%,#2b748e 71%,#297a8e 75%,#24868e 78%,#20938c 81%,#21a685 84%,#24aa83 87%,#26ad81 93%,#29af7f 100%)"></i><i style="left:242.00px;background:linear-gradient(#481467 0%,#481467 10%,#481668 15%,#481769 20%,#48186a 25%,#481a6c 30%,#482979 36%,#453781 41%,#404588 46%,#3b528b 51%,#375b8d 56%,#33638d 61%,#2f6b8e 66%,#2c728e 71%,#2a788e 75%,#25838e 78%,#21918c 81%,#1fa287 84%,#22a785 87%,#23a983 93%,#25ac82 100%)"></i><i style="left:244.00px;background:linear-gradient(#471365 0%,#471365 10%,#481668 15%,#481769 20%,#48186a 25%,#481a6c 30%,#482878 36%,#453781 41%,#414487 46%,#3b518b 51%,#375a8c 56%,#33628d 61%,#306a8e 66%,#2c718e 71%,#2a788e 75%,#25838e 78%,#21918c 81%,#1fa287 84%,#21a685 87%,#23a983 93%,#25ac82 100%)"></i><i style="left:246.00px;background:linear-gradient(#471365 0%,#471365 10%,#481467 15%,#481668 20%,#48186a 25%,#481a6c 30%,#482878 36%,#453581 41%,#414287 46%,#3c4f8a 51%,#38588c 56%,#34608d 61%,#31688e 66%,#2d708e 71%,#2a768e 75%,#26828e 78%,#218f8d 81%,#1fa187 84%,#21a585 87%,#22a884 93%,#25ab82 100%)"></i><i style="left:248.00px;background:linear-gradient(#481467 0%,#481467 10%,#481668 15%,#481769 20%,#481769 25%,#48186a 30%,#482677 36%,#463480 41%,#424186 46%,#3d4e8a 51%,#39568c 56%,#355f8d 61%,#31678e 66%,#2e6f8e 71%,#2b748e 75%,#26818e 78%,#218f8d 81%,#1fa287 84%,#21a685 87%,#23a983 93%,#25ac82 100%)"></i><i style="left:250.00px;background:linear-gradient(#481668 0%,#481668 10%,#48186a 15%,#481a6c 20%,#481c6e 25%,#481f70 30%,#472e7c 36%,#433d84 41%,#3e4c8a 46%,#38598c 51%,#34618d 56%,#30698e 61%,#2d718e 66%,#2a778e 71%,#277e8e 75%,#23898e 78%,#1f968b 81%,#22a884 84%,#25ac82 87%,#27ad81 93%,#2ab07f 100%)"></i><i style="left:252.00px;background:linear-gradient(#48186a 0%,#48186a 10%,#481c6e 15%,#482071 20%,#482576 25%,#482979 30%,#443983 36%,#3f4788 41%,#39558c 46%,#33638d 51%,#306a8e 56%,#2c718e 61%,#29798e 66%,#26818e 71%,#24868e 75%,#21908d 78%,#1f9a8a 81%,#23a983 84%,#25ac82 87%,#28ae80 93%,#2cb17e 100%)"></i><i style="left:254.00px;background:linear-gradient(#481a6c 0%,#481a6c 10%,#482071 15%,#482878 20%,#472e7c 25%,#463480 30%,#414287 36%,#3b518b 41%,#355e8d 46%,#306a8e 51%,#2d718e 56%,#2a778e 61%,#277e8e 66%,#25848e 71%,#238a8d 75%,#20938c 78%,#1f9e89 81%,#26ad81 84%,#29af7f 87%,#2db27d 93%,#31b57b 100%)"></i><i style="left:256.00px;background:linear-gradient(#481c6e 0%,#481c6e 10%,#482475 15%,#472d7b 20%,#463480 25%,#433d84 30%,#3e4a89 36%,#39568c 41%,#33638d 46%,#2e6f8e 51%,#2b758e 56%,#287c8e 61%,#26828e 66%,#23888e 71%,#218e8d 75%,#1f958b 78%,#1f9f88 81%,#24aa83 84%,#26ad81 87%,#29af7f 93%,#2db27d 100%)"></i><i style="left:258.00px;background:linear-gradient(#481d6f 0%,#481d6f 10%,#482878 15%,#46327e 20%,#443b84 25%,#414487 30%,#3b518b 36%,#365d8d 41%,#30698e 46%,#2c738e 51%,#297a8e 56%,#26818e 61%,#24878e 66%,#218e8d 71%,#20928c 75%,#1f9a8a 78%,#1fa187 81%,#25ab82 84%,#27ad81 87%,#2ab07f 93%,#2eb37c 100%)"></i><i style="left:260.00px;background:linear-gradient(#482071 0%,#482071 10%,#472c7a 15%,#453781 20%,#424186 25%,#3e4c8a 30%,#39568c 36%,#33628d 41%,#2f6c8e 46%,#2a768e 51%,#287c8e 56%,#26828e 61%,#24878e 66%,#228d8d 71%,#20928c 75%,#1f978b 78%,#1e9d89 81%,#21a585 84%,#22a785 87%,#24aa83 93%,#26ad81 100%)"></i><i style="left:262.00px;background:linear-gradient(#481f70 0%,#481f70 10%,#472a7a 15%,#453581 20%,#424086 25%,#3e4a89 30%,#39568c 36%,#34618d 41%,#2f6c8e 46%,#2b758e 51%,#287c8e 56%,#26828e 61%,#23888e 66%,#218f8d 71%,#1f948c 75%,#1f998a 78%,#1f9e89 81%,#20a486 84%,#21a685 87%,#23a983 93%,#25ac82 100%)"></i><i style="left:264.00px;background:linear-gradient(#481f70 0%,#481f70 10%,#472a7a 15%,#463480 20%,#423f85 25%,#3e4989 30%,#39558c 36%,#34608d 41%,#2f6b8e 46%,#2b758e 51%,#297b8e 56%,#26828e 61%,#24878e 66%,#218e8d 71%,#20928c 75%,#1f998a 78%,#1fa188 81%,#24aa83 84%,#25ac82 87%,#28ae80 93%,#2cb17e 100%)"></i><i style="left:266.00px;background:linear-gradient(#481d6f 0%,#481d6f 10%,#482979 15%,#463480 20%,#433e85 25%,#3f4889 30%,#3a548c 36%,#34608d 41%,#306a8e 46%,#2b748e 51%,#297b8e 56%,#26818e 61%,#24878e 66%,#228d8d 71%,#20928c 75%,#1f988b 78%,#1f9f88 81%,#22a884 84%,#25ab82 87%,#27ad81 93%,#29af7f 100%)"></i><i style="left:268.00px;background:linear-gradient(#481c6e 0%,#481c6e 10%,#482677 15%,#46327e 20%,#433d84 25%,#3f4788 30%,#3a538b 36%,#355f8d 41%,#306a8e 46%,#2b748e 51%,#297a8e 56%,#26818e 61%,#24868e 66%,#228d8d 71%,#20928c 75%,#1f998a 78%,#1fa188 81%,#25ab82 84%,#27ad81 87%,#29af7f 93%,#2db27d 100%)"></i><i style="left:270.00px;background:linear-gradient(#481a6c 0%,#481a6c 10%,#482576 15%,#46307e 20%,#443b84 25%,#404688 30%,#3b518b 36%,#365d8d 41%,#31688e 46%,#2c728e 51%,#29798e 56%,#277f8e 61%,#25858e 66%,#228b8d 71%,#21908d 75%,#1f978b 78%,#1fa088 81%,#25ac82 84%,#28ae80 87%,#2cb17e 93%,#2fb47c 100%)"></i><i style="left:272.00px;background:linear-gradient(#48186a 0%,#48186a 10%,#482475 15%,#472e7c 20%,#443983 25%,#414287 30%,#3c4f8a 36%,#375b8d 41%,#31668e 46%,#2d718e 51%,#2a778e 56%,#277f8e 61%,#25858e 66%,#228c8d 71%,#20928c 75%,#1f9a8a 78%,#1fa287 81%,#28ae80 84%,#2cb17e 87%,#2eb37c 93%,#32b67a 100%)"></i><i style="left:274.00px;background:linear-gradient(#481769 0%,#481769 10%,#482173 15%,#472c7a 20%,#453781 25%,#424086 30%,#3d4d8a 36%,#38598c 41%,#32648e 46%,#2e6f8e 51%,#2b758e 56%,#287d8e 61%,#25848e 66%,#228c8d 71%,#20928c 75%,#1f9a8a 78%,#1fa287 81%,#27ad81 84%,#2cb17e 87%,#2eb37c 93%,#32b67a 100%)"></i><i style="left:276.00px;background:linear-gradient(#481668 0%,#481668 10%,#482071 15%,#472a7a 20%,#463480 25%,#433e85 30%,#3e4a89 36%,#39568c 41%,#34618d 46%,#2f6c8e 51%,#2c738e 56%,#297b8e 61%,#25838e 66%,#228b8d 71%,#21918c 75%,#1f998a 78%,#1fa287 81%,#28ae80 84%,#2cb17e 87%,#2fb47c 93%,#34b679 100%)"></i><i style="left:278.00px;background:linear-gradient(#481668 0%,#481668 10%,#481f70 15%,#482979 20%,#46327e 25%,#443b84 30%,#3f4788 36%,#3a538b 41%,#355f8d 46%,#306a8e 51%,#2c718e 56%,#297a8e 61%,#26828e 66%,#238a8d 71%,#21918c 75%,#1f988b 78%,#1fa188 81%,#25ac82 84%,#28ae80 87%,#2cb17e 93%,#2fb47c 100%)"></i><i style="left:280.00px;background:linear-gradient(#481467 0%,#481467 10%,#481d6f 15%,#482677 20%,#472f7d 25%,#443983 30%,#404588 36%,#3b518b 41%,#365d8d 46%,#31678e 51%,#2d708e 56%,#2a788e 61%,#27808e 66%,#23888e 71%,#218e8d 75%,#1f958b 78%,#1f9e89 81%,#23a983 84%,#25ac82 87%,#27ad81 93%,#2ab07f 100%)"></i><i style="left:282.00px;background:linear-gradient(#481467 0%,#481467 10%,#481d6f 15%,#482576 20%,#472e7c 25%,#453581 30%,#414287 36%,#3c4f8a 41%,#375a8c 46%,#32658e 51%,#2e6e8e 56%,#2a768e 61%,#277f8e 66%,#24878e 71%,#218e8d 75%,#1f958b 78%,#1e9d89 81%,#22a785 84%,#24aa83 87%,#26ad81 93%,#29af7f 100%)"></i><i style="left:284.00px;background:linear-gradient(#481467 0%,#481467 10%,#481c6e 15%,#482475 20%,#472c7a 25%,#46337f 30%,#424086 36%,#3e4c8a 41%,#38588c 46%,#33638d 51%,#2f6c8e 56%,#2b758e 61%,#277f8e 66%,#23888e 71%,#218f8d 75%,#1f968b 78%,#1f9e89 81%,#22a785 84%,#24aa83 87%,#26ad81 93%,#29af7f 100%)"></i><i style="left:286.00px;background:linear-gradient(#481467 0%,#481467 10%,#481b6d 15%,#482374 20%,#482979 25%,#46307e 30%,#433d84 36%,#3e4989 41%,#39558c 46%,#34608d 51%,#306a8e 56%,#2c738e 61%,#287c8e 66%,#25858e 71%,#228d8d 75%,#20938c 78%,#1e9b8a 81%,#21a585 84%,#22a884 87%,#25ab82 93%,#27ad81 100%)"></i><i style="left:288.00px;background:linear-gradient(#471365 0%,#471365 10%,#481a6c 15%,#482071 20%,#482878 25%,#472e7c 30%,#443a83 36%,#3f4788 41%,#3b528b 46%,#355e8d 51%,#31688e 56%,#2c718e 61%,#297b8e 66%,#25848e 71%,#228c8d 75%,#20938c 78%,#1e9b8a 81%,#21a685 84%,#23a983 87%,#25ab82 93%,#27ad81 100%)"></i><i style="left:290.00px;background:linear-gradient(#471365 0%,#471365 10%,#481a6c 15%,#481f70 20%,#482576 25%,#472c7a 30%,#453882 36%,#404588 41%,#3c508b 46%,#375b8d 51%,#31668e 56%,#2d718e 61%,#297b8e 66%,#25848e 71%,#228d8d 75%,#1f948c 78%,#1e9c89 81%,#22a785 84%,#24aa83 87%,#26ad81 93%,#29af7f 100%)"></i><i style="left:292.00px;background:linear-gradient(#471365 0%,#471365 10%,#48186a 15%,#481f70 20%,#482475 25%,#472a7a 30%,#453781 36%,#414287 41%,#3d4e8a 46%,#38598c 51%,#32658e 56%,#2d708e 61%,#297b8e 66%,#25858e 71%,#218e8d 75%,#1f958b 78%,#1f9e89 81%,#23a983 84%,#25ac82 87%,#28ae80 93%,#2ab07f 100%)"></i><i style="left:294.00px;background:linear-gradient(#471365 0%,#471365 10%,#48186a 15%,#481d6f 20%,#482374 25%,#482878 30%,#463480 36%,#424086 41%,#3d4d8a 46%,#38588c 51%,#32648e 56%,#2d708e 61%,#297b8e 66%,#24868e 71%,#21908d 75%,#1f968b 78%,#1f9e89 81%,#22a884 84%,#25ab82 87%,#26ad81 93%,#29af7f 100%)"></i><i style="left:296.00px;background:linear-gradient(#471365 0%,#471365 10%,#48186a 15%,#481c6e 20%,#482173 25%,#482677 30%,#46337f 36%,#423f85 41%,#3e4a89 46%,#39558c 51%,#33628d 56%,#2e6e8e 61%,#29798e 66%,#25858e 71%,#218e8d 75%,#1f948c 78%,#1e9b8a 81%,#20a386 84%,#21a685 87%,#22a884 93%,#25ab82 100%)"></i><i style="left:298.00px;background:linear-gradient(#471365 0%,#471365 10%,#481769 15%,#481c6e 20%,#482071 25%,#482576 30%,#46327e 36%,#433d84 41%,#3f4889 46%,#3a538b 51%,#34608d 56%,#2e6d8e 61%,#2a788e 66%,#25838e 71%,#228d8d 75%,#20938c 78%,#1e9c89 81%,#21a685 84%,#23a983 87%,#25ab82 93%,#27ad81 100%)"></i><i style="left:300.00px;background:linear-gradient(#471365 0%,#471365 10%,#481769 15%,#481b6d 20%,#481f70 25%,#482374 30%,#472f7d 36%,#443b84 41%,#3f4788 46%,#3b518b 51%,#355f8d 56%,#2f6c8e 61%,#2a778e 66%,#25838e 71%,#228d8d 75%,#1f948c 78%,#1e9d89 81%,#22a884 84%,#25ab82 87%,#26ad81 93%,#29af7f 100%)"></i><i style="left:302.00px;background:linear-gradient(#471365 0%,#471365 10%,#481769 15%,#481a6c 20%,#481d6f 25%,#482173 30%,#472e7c 36%,#443983 41%,#404588 46%,#3c508b 51%,#365d8d 56%,#306a8e 61%,#2a768e 66%,#26828e 71%,#228c8d 75%,#1f948c 78%,#1f9e89 81%,#25ab82 84%,#27ad81 87%,#2ab07f 93%,#2eb37c 100%)"></i><i style="left:304.00px;background:linear-gradient(#471365 0%,#471365 10%,#481668 15%,#481a6c 20%,#481c6e 25%,#482071 30%,#472c7a 36%,#453882 41%,#414287 46%,#3d4e8a 51%,#365c8d 56%,#30698e 61%,#2b758e 66%,#26828e 71%,#228b8d 75%,#20938c 78%,#1f9e89 81%,#25ab82 84%,#27ad81 87%,#2ab07f 93%,#2eb37c 100%)"></i><i style="left:306.00px;background:linear-gradient(#471365 0%,#471365 10%,#481668 15%,#48186a 20%,#481b6d 25%,#481d6f 30%,#472a7a 36%,#453581 41%,#424186 46%,#3e4c8a 51%,#375b8d 56%,#31688e 61%,#2b758e 66%,#26828e 71%,#228c8d 75%,#20938c 78%,#1e9c89 81%,#22a785 84%,#25ab82 87%,#26ad81 93%,#29af7f 100%)"></i><i style="left:308.00px;background:linear-gradient(#471365 0%,#471365 10%,#481668 15%,#481769 20%,#481a6c 25%,#481c6e 30%,#482878 36%,#463480 41%,#423f85 46%,#3e4a89 51%,#375a8c 56%,#31688e 61%,#2b758e 66%,#26828e 71%,#218e8d 75%,#1f948c 78%,#1e9c89 81%,#21a685 84%,#23a983 87%,#25ab82 93%,#27ad81 100%)"></i><i style="left:310.00px;background:linear-gradient(#471365 0%,#471365 10%,#481467 15%,#481769 20%,#481a6c 25%,#481b6d 30%,#482677 36%,#46327e 41%,#433e85 46%,#3f4889 51%,#38588c 56%,#31678e 61%,#2b748e 66%,#26828e 71%,#228d8d 75%,#1f958b 78%,#1f9f88 81%,#25ac82 84%,#29af7f 87%,#2cb17e 93%,#2fb47c 100%)"></i><i style="left:312.00px;background:linear-gradient(#471365 0%,#471365 10%,#481467 15%,#481769 20%,#48186a 25%,#481b6d 30%,#482576 36%,#46307e 41%,#443b84 46%,#404688 51%,#39568c 56%,#32658e 61%,#2c738e 66%,#26818e 71%,#228c8d 75%,#1f948c 78%,#1f9e89 81%,#25ab82 84%,#28ae80 87%,#2ab07f 93%,#2eb37c 100%)"></i><i style="left:314.00px;background:linear-gradient(#471365 0%,#471365 10%,#481467 15%,#481668 20%,#48186a 25%,#481a6c 30%,#482576 36%,#472f7d 41%,#443a83 46%,#414487 51%,#3a548c 56%,#32648e 61%,#2c728e 66%,#26818e 71%,#228c8d 75%,#1f958b 78%,#1fa088 81%,#27ad81 84%,#2ab07f 87%,#2eb37c 93%,#32b67a 100%)"></i><i style="left:316.00px;background:linear-gradient(#471365 0%,#471365 10%,#481467 15%,#481668 20%,#481769 25%,#481a6c 30%,#482475 36%,#472e7c 41%,#453882 46%,#414287 51%,#3b528b 56%,#33628d 61%,#2d708e 66%,#277e8e 71%,#23888e 75%,#20938c 78%,#1f9f88 81%,#28ae80 84%,#2db27d 87%,#31b57b 93%,#35b779 100%)"></i><i style="left:318.00px;background:linear-gradient(#471365 0%,#471365 10%,#481467 15%,#481668 20%,#481769 25%,#48186a 30%,#482374 36%,#472d7b 41%,#453781 46%,#424086 51%,#3b518b 56%,#34608d 61%,#2e6f8e 66%,#287d8e 71%,#23888e 75%,#21918c 78%,#1e9b8a 81%,#22a884 84%,#25ab82 87%,#27ad81 93%,#2ab07f 100%)"></i><i style="left:320.00px;background:linear-gradient(#471365 0%,#471365 10%,#481467 15%,#481668 20%,#481769 25%,#48186a 30%,#482173 36%,#472c7a 41%,#453581 46%,#433e85 51%,#3c4f8a 56%,#355f8d 61%,#2e6e8e 66%,#297b8e 71%,#24868e 75%,#21908d 78%,#1f9a8a 81%,#22a785 84%,#25ab82 87%,#27ad81 93%,#2ab07f 100%)"></i><i style="left:322.00px;background:linear-gradient(#471365 0%,#471365 15%,#481467 20%,#481668 25%,#481769 30%,#482173 36%,#472a7a 41%,#463480 46%,#433d84 51%,#3c4f8a 56%,#34608d 61%,#2e6f8e 66%,#277e8e 71%,#23898e 75%,#20928c 78%,#1e9b8a 81%,#22a884 84%,#25ab82 87%,#26ad81 93%,#29af7f 100%)"></i><i style="left:324.00px;background:linear-gradient(#471365 0%,#471365 15%,#481467 20%,#481668 25%,#481668 30%,#482071 36%,#482979 41%,#46337f 46%,#443b84 51%,#3d4e8a 56%,#355f8d 61%,#2e6f8e 66%,#277e8e 71%,#23898e 75%,#20928c 78%,#1e9b8a 81%,#22a884 84%,#25ab82 87%,#27ad81 93%,#29af7f 100%)"></i><i style="left:326.00px;background:linear-gradient(#471365 0%,#471365 15%,#481467 20%,#481467 25%,#481668 30%,#481f70 36%,#482979 41%,#46327e 46%,#443a83 51%,#3d4d8a 56%,#355e8d 61%,#2e6e8e 66%,#287d8e 71%,#23888e 75%,#20928c 78%,#1e9b8a 81%,#22a785 84%,#25ab82 87%,#26ad81 93%,#29af7f 100%)"></i><i style="left:328.00px;background:linear-gradient(#471365 0%,#471365 20%,#481467 25%,#481467 30%,#481f70 36%,#482878 41%,#46307e 46%,#443983 51%,#3e4c8a 56%,#365d8d 61%,#2e6d8e 66%,#287c8e 71%,#24878e 75%,#21908d 78%,#1f998a 81%,#21a685 84%,#23a983 87%,#25ac82 93%,#28ae80 100%)"></i><i style="left:330.00px;background:linear-gradient(#471365 0%,#471365 20%,#481467 25%,#481467 30%,#481d6f 36%,#482677 41%,#472f7d 46%,#453882 51%,#3e4989 56%,#375b8d 61%,#306a8e 66%,#2a788e 71%,#25838e 75%,#228d8d 78%,#1f978b 81%,#21a585 84%,#23a983 87%,#25ab82 93%,#27ad81 100%)"></i><i style="left:332.00px;background:linear-gradient(#471365 0%,#471365 20%,#481467 25%,#481467 30%,#481d6f 36%,#482677 41%,#472e7c 46%,#453781 51%,#3e4989 56%,#375a8c 61%,#306a8e 66%,#29798e 71%,#25848e 75%,#228c8d 78%,#1f958b 81%,#1fa188 84%,#20a386 87%,#21a685 93%,#23a983 100%)"></i><i style="left:334.00px;background:linear-gradient(#471365 0%,#471365 20%,#481467 25%,#481467 30%,#481d6f 36%,#482576 41%,#472e7c 46%,#453581 51%,#3f4889 56%,#375b8d 61%,#2f6b8e 66%,#297a8e 71%,#24868e 75%,#218e8d 78%,#1f968b 81%,#1fa187 84%,#20a486 87%,#22a785 93%,#24aa83 100%)"></i><i style="left:336.00px;background:linear-gradient(#471164 0%,#471164 10%,#471365 15%,#471365 20%,#481467 25%,#481467 30%,#481c6e 36%,#482576 41%,#472d7b 46%,#463480 51%,#404688 56%,#39568c 61%,#31668e 66%,#2c738e 71%,#277f8e 75%,#24878e 78%,#21918c 81%,#1e9d89 84%,#1fa088 87%,#1fa287 93%,#21a585 100%)"></i><i style="left:338.00px;background:linear-gradient(#471164 0%,#471164 10%,#471365 15%,#471365 20%,#481467 25%,#481467 30%,#481c6e 36%,#482374 41%,#482979 46%,#46307e 51%,#424086 56%,#3c4f8a 61%,#365d8d 66%,#2f6b8e 71%,#2b748e 75%,#277e8e 78%,#23898e 81%,#1f978b 84%,#1e9b8a 87%,#1e9d89 93%,#1fa088 100%)"></i><i style="left:340.00px;background:linear-gradient(#471164 0%,#471164 10%,#471365 15%,#471365 20%,#481467 25%,#481467 30%,#481b6d 36%,#482071 41%,#482677 46%,#472d7b 51%,#443b84 56%,#3e4a89 61%,#38598c 66%,#32658e 71%,#2d708e 75%,#29798e 78%,#25838e 81%,#20928c 84%,#1f968b 87%,#1f998a 93%,#1e9c89 100%)"></i><i style="left:342.00px;background:linear-gradient(#471164 0%,#471164 10%,#471365 15%,#471365 20%,#481467 25%,#481467 30%,#481b6d 36%,#482071 41%,#482677 46%,#472c7a 51%,#443b84 56%,#3e4989 61%,#39568c 66%,#33638d 71%,#2e6d8e 75%,#2a788e 78%,#25838e 81%,#1f958b 84%,#1f998a 87%,#1e9b8a 93%,#1f9e89 100%)"></i><i style="left:344.00px;background:linear-gradient(#471164 0%,#471164 10%,#471365 15%,#471365 20%,#481467 25%,#481467 30%,#481b6d 36%,#482071 41%,#482677 46%,#472c7a 51%,#443b84 56%,#3e4989 61%,#39568c 66%,#32648e 71%,#2e6e8e 75%,#29798e 78%,#25858e 81%,#1f968b 84%,#1f9a8a 87%,#1e9d89 93%,#1fa088 100%)"></i><i style="left:346.00px;background:linear-gradient(#471164 0%,#471164 10%,#471365 15%,#471365 20%,#481467 25%,#481467 30%,#481b6d 36%,#482071 41%,#482677 46%,#472c7a 51%,#443b84 56%,#3e4989 61%,#38588c 66%,#32658e 71%,#2e6f8e 75%,#29798e 78%,#25858e 81%,#1f958b 84%,#1f998a 87%,#1e9c89 93%,#1f9f88 100%)"></i><i style="left:348.00px;background:linear-gradient(#471164 0%,#471164 10%,#471365 15%,#471365 20%,#481467 25%,#481467 30%,#481a6c 36%,#482071 41%,#482576 46%,#472c7a 51%,#443a83 56%,#3e4989 61%,#38588c 66%,#32648e 71%,#2e6e8e 75%,#29798e 78%,#25848e 81%,#1f958b 84%,#1f998a 87%,#1e9c89 93%,#1f9f88 100%)"></i><i style="left:350.00px;background:linear-gradient(#471164 0%,#471164 10%,#471365 15%,#471365 20%,#481467 25%,#481467 30%,#481a6c 36%,#482071 41%,#482576 46%,#472c7a 51%,#443a83 56%,#3e4989 61%,#39568c 66%,#33638d 71%,#2e6d8e 75%,#2a788e 78%,#25838e 81%,#1f948c 84%,#1f988b 87%,#1e9b8a 93%,#1f9e89 100%)"></i><i style="left:352.00px;background:linear-gradient(#471164 0%,#471164 10%,#471365 15%,#471365 20%,#481467 25%,#481467 30%,#481a6c 36%,#482071 41%,#482576 46%,#472c7a 51%,#443a83 56%,#3e4989 61%,#39568c 66%,#32648e 71%,#2e6e8e 75%,#2a778e 78%,#26828e 81%,#20928c 84%,#1f968b 87%,#1f988b 93%,#1e9b8a 100%)"></i><i style="left:354.00px;background:linear-gradient(#471164 0%,#471164 10%,#471365 15%,#471365 20%,#481467 25%,#481467 30%,#481a6c 36%,#482071 41%,#482576 46%,#472a7a 51%,#443983 56%,#3f4788 61%,#3a548c 66%,#34618d 71%,#2f6b8e 75%,#2b758e 78%,#26828e 81%,#20928c 84%,#1f968b 87%,#1f988b 93%,#1e9b8a 100%)"></i><i style="left:356.00px;background:linear-gradient(#471164 0%,#471164 10%,#471365 15%,#471365 20%,#481467 25%,#481467 30%,#481a6c 36%,#482071 41%,#482576 46%,#472a7a 51%,#443983 56%,#3f4788 61%,#3a548c 66%,#34618d 71%,#306a8e 75%,#2b758e 78%,#26818e 81%,#21918c 84%,#1f948c 87%,#1f978b 93%,#1f9a8a 100%)"></i><i style="left:358.00px;background:linear-gradient(#471164 0%,#471164 10%,#471365 15%,#471365 20%,#481467 25%,#481467 30%,#481a6c 36%,#481f70 41%,#482576 46%,#472a7a 51%,#443983 56%,#3f4788 61%,#3a548c 66%,#33628d 71%,#2f6b8e 75%,#2a768e 78%,#26828e 81%,#20928c 84%,#1f968b 87%,#1f998a 93%,#1e9c89 100%)"></i><i style="left:360.00px;background:linear-gradient(#471164 0%,#471164 10%,#471365 15%,#471365 20%,#481467 25%,#481467 30%,#481a6c 36%,#481f70 41%,#482576 46%,#472a7a 51%,#443983 56%,#404688 61%,#3a538b 66%,#34608d 71%,#30698e 75%,#2b748e 78%,#26818e 81%,#20928c 84%,#1f968b 87%,#1f988b 93%,#1e9b8a 100%)"></i><i style="left:362.00px;background:linear-gradient(#471164 0%,#471164 10%,#471365 15%,#471365 20%,#481467 25%,#481467 30%,#481a6c 36%,#481f70 41%,#482475 46%,#472a7a 51%,#443983 56%,#3f4788 61%,#3a538b 66%,#34608d 71%,#306a8e 75%,#2b758e 78%,#26828e 81%,#20938c 84%,#1f978b 87%,#1f9a8a 93%,#1e9d89 100%)"></i><i style="left:364.00px;background:linear-gradient(#471164 0%,#471164 10%,#471365 15%,#471365 20%,#481467 25%,#481467 30%,#481a6c 36%,#481f70 41%,#482475 46%,#482979 51%,#453882 56%,#404688 61%,#3a538b 66%,#355f8d 71%,#30698e 75%,#2c738e 78%,#277f8e 81%,#218f8d 84%,#20928c 87%,#1f958b 93%,#1f988b 100%)"></i><i style="left:366.00px;background:linear-gradient(#471164 0%,#471164 10%,#471365 15%,#471365 25%,#481467 30%,#481a6c 36%,#481f70 41%,#482475 46%,#482979 51%,#453781 56%,#404588 61%,#3b518b 66%,#365d8d 71%,#31668e 75%,#2c728e 78%,#27808e 81%,#20928c 84%,#1f968b 87%,#1f998a 93%,#1e9c89 100%)"></i><i style="left:368.00px;background:linear-gradient(#471164 0%,#471164 10%,#471365 15%,#471365 25%,#481467 30%,#481a6c 36%,#481f70 41%,#482475 46%,#482979 51%,#453781 56%,#414487 61%,#3c508b 66%,#365d8d 71%,#31668e 75%,#2c718e 78%,#277e8e 81%,#21908d 84%,#20938c 87%,#1f968b 93%,#1f998a 100%)"></i><i style="left:370.00px;background:linear-gradient(#471164 0%,#471164 10%,#471365 15%,#471365 25%,#481467 30%,#481a6c 36%,#481f70 41%,#482475 46%,#482979 51%,#453781 56%,#414487 61%,#3c508b 66%,#365c8d 71%,#32648e 75%,#2d708e 78%,#287d8e 81%,#218f8d 84%,#20928c 87%,#1f948c 93%,#1f978b 100%)"></i><i style="left:372.00px;background:linear-gradient(#471164 0%,#471164 10%,#471365 15%,#471365 25%,#481467 30%,#481a6c 36%,#481f70 41%,#482475 46%,#482979 51%,#453781 56%,#414487 61%,#3c508b 66%,#365c8d 71%,#32658e 75%,#2d718e 78%,#287d8e 81%,#218f8d 84%,#20938c 87%,#1f958b 93%,#1f988b 100%)"></i><i style="left:374.00px;background:linear-gradient(#471164 0%,#471164 10%,#471365 15%,#471365 25%,#481467 30%,#481a6c 36%,#481f70 41%,#482475 46%,#482979 51%,#453581 56%,#414287 61%,#3c4f8a 66%,#375b8d 71%,#33638d 75%,#2d708e 78%,#287c8e 81%,#218e8d 84%,#20928c 87%,#1f948c 93%,#1f978b 100%)"></i><i style="left:376.00px;background:linear-gradient(#471164 0%,#471164 10%,#471365 15%,#471365 25%,#481467 30%,#481a6c 36%,#481f70 41%,#482475 46%,#482878 51%,#453781 56%,#414487 61%,#3c508b 66%,#365c8d 71%,#32658e 75%,#2d718e 78%,#277e8e 81%,#21908d 84%,#1f948c 87%,#1f968b 93%,#1f998a 100%)"></i><i style="left:378.00px;background:linear-gradient(#471164 0%,#471164 10%,#471365 15%,#471365 25%,#481467 30%,#481a6c 36%,#481f70 41%,#482374 46%,#482878 51%,#453581 56%,#414287 61%,#3c4f8a 66%,#375b8d 71%,#32648e 75%,#2d708e 78%,#287d8e 81%,#218f8d 84%,#20928c 87%,#1f948c 93%,#1f978b 100%)"></i><i style="left:380.00px;background:linear-gradient(#471164 0%,#471164 10%,#471365 15%,#471365 25%,#481467 30%,#481a6c 36%,#481d6f 41%,#482374 46%,#482878 51%,#453581 56%,#414287 61%,#3c4f8a 66%,#375b8d 71%,#32648e 75%,#2d708e 78%,#297b8e 81%,#228c8d 84%,#21908d 87%,#20928c 93%,#1f958b 100%)"></i><i style="left:382.00px;background:linear-gradient(#471164 0%,#471164 10%,#471365 15%,#471365 25%,#481467 30%,#481a6c 36%,#481d6f 41%,#482374 46%,#482878 51%,#453581 56%,#414287 61%,#3c4f8a 66%,#375a8c 71%,#33638d 75%,#2e6f8e 78%,#297b8e 81%,#228c8d 84%,#21908d 87%,#20928c 93%,#1f948c 100%)"></i><i style="left:384.00px;background:linear-gradient(#471164 0%,#471164 10%,#471365 15%,#471365 25%,#481467 30%,#481a6c 36%,#481d6f 41%,#482374 46%,#482878 51%,#453581 56%,#424186 61%,#3d4e8a 66%,#375a8c 71%,#33638d 75%,#2d708e 78%,#287d8e 81%,#21918c 84%,#1f958b 87%,#1f978b 93%,#1f9a8a 100%)"></i><i style="left:386.00px;background:linear-gradient(#471164 0%,#471164 10%,#471365 15%,#471365 25%,#481467 30%,#48186a 36%,#481d6f 41%,#482374 46%,#482878 51%,#453581 56%,#414287 61%,#3c4f8a 66%,#375b8d 71%,#32648e 75%,#2d718e 78%,#287d8e 81%,#21908d 84%,#20938c 87%,#1f968b 93%,#1f998a 100%)"></i><i style="left:388.00px;background:linear-gradient(#471164 0%,#471164 10%,#471365 15%,#471365 25%,#481467 30%,#48186a 36%,#481d6f 41%,#482374 46%,#482677 51%,#453581 56%,#414287 61%,#3c4f8a 66%,#375b8d 71%,#32648e 75%,#2e6f8e 78%,#297b8e 81%,#228c8d 84%,#21908d 87%,#20928c 93%,#1f958b 100%)"></i><i style="left:390.00px;background:linear-gradient(#471164 0%,#471164 10%,#471365 15%,#471365 25%,#481467 30%,#48186a 36%,#481d6f 41%,#482374 46%,#482677 51%,#463480 56%,#424186 61%,#3d4e8a 66%,#375a8c 71%,#33638d 75%,#2e6f8e 78%,#297b8e 81%,#228d8d 84%,#21918c 87%,#20938c 93%,#1f968b 100%)"></i><i style="left:392.00px;background:linear-gradient(#471164 0%,#471164 10%,#471365 15%,#471365 25%,#481467 30%,#481467 36%,#481668 41%,#481668 46%,#481769 51%,#481b6d 56%,#481f70 61%,#482374 66%,#482677 71%,#472a7a 75%,#404588 78%,#355f8d 81%,#26818e 84%,#24878e 87%,#238a8d 93%,#228d8d 100%)"></i><i style="left:394.00px;background:linear-gradient(#471164 0%,#471164 15%,#471365 20%,#471365 25%,#481467 30%,#481467 36%,#481668 41%,#481668 46%,#481769 51%,#481b6d 56%,#481f70 61%,#482374 66%,#482677 71%,#472a7a 75%,#414487 78%,#365d8d 81%,#277e8e 84%,#25838e 87%,#24868e 93%,#23898e 100%)"></i><i style="left:396.00px;background:linear-gradient(#471164 0%,#471164 15%,#471365 20%,#471365 25%,#481467 30%,#481467 36%,#481668 41%,#481668 46%,#481769 51%,#481b6d 56%,#481f70 61%,#482173 66%,#482576 71%,#482979 75%,#423f85 78%,#39558c 81%,#2c728e 84%,#2a788e 87%,#297a8e 93%,#287d8e 100%)"></i><i style="left:398.00px;background:linear-gradient(#471164 0%,#471164 15%,#471365 20%,#471365 25%,#481467 30%,#481467 36%,#481668 41%,#481668 46%,#481769 51%,#481a6c 56%,#481d6f 61%,#482071 66%,#482374 71%,#482576 75%,#433e85 78%,#39558c 81%,#2b758e 84%,#297b8e 87%,#287d8e 93%,#27808e 100%)"></i><i style="left:400.00px;background:linear-gradient(#471164 0%,#471164 15%,#471365 20%,#471365 25%,#481467 30%,#481467 36%,#481668 41%,#481668 46%,#481769 51%,#481a6c 56%,#481c6e 61%,#481f70 66%,#482173 71%,#482374 75%,#433d84 78%,#39558c 81%,#2a768e 84%,#287c8e 87%,#277f8e 93%,#26828e 100%)"></i><i style="left:402.00px;background:linear-gradient(#471164 0%,#471164 15%,#471365 20%,#471365 25%,#481467 30%,#481467 36%,#481668 41%,#481668 46%,#481769 51%,#48186a 56%,#481a6c 61%,#481c6e 66%,#481d6f 71%,#481f70 75%,#453882 78%,#3b518b 81%,#2d718e 84%,#2a778e 87%,#29798e 93%,#287c8e 100%)"></i><i style="left:404.00px;background:linear-gradient(#471164 0%,#471164 15%,#471365 20%,#471365 25%,#481467 30%,#481467 36%,#481668 41%,#481668 46%,#481769 51%,#48186a 56%,#48186a 61%,#481a6c 66%,#481b6d 71%,#481b6d 75%,#453781 78%,#3b518b 81%,#2c738e 84%,#29798e 87%,#287c8e 93%,#277f8e 100%)"></i><i style="left:406.00px;background:linear-gradient(#471164 0%,#471164 15%,#471365 20%,#471365 25%,#481467 30%,#481467 36%,#481668 41%,#481668 46%,#481769 51%,#481769 56%,#48186a 61%,#481a6c 66%,#481a6c 71%,#481b6d 75%,#453781 78%,#3b528b 81%,#2b758e 84%,#287c8e 87%,#277f8e 93%,#26828e 100%)"></i><i style="left:408.00px;background:linear-gradient(#471164 0%,#471164 15%,#471365 20%,#471365 25%,#481467 30%,#481467 36%,#481668 41%,#481668 46%,#481769 51%,#481769 56%,#48186a 61%,#481a6c 66%,#481b6d 71%,#481b6d 75%,#453781 78%,#3b528b 81%,#2b758e 84%,#287c8e 87%,#277e8e 93%,#26818e 100%)"></i><i style="left:410.00px;background:linear-gradient(#471164 0%,#471164 15%,#471365 20%,#471365 25%,#481467 30%,#481467 36%,#481668 41%,#481668 46%,#481769 51%,#48186a 56%,#48186a 61%,#481a6c 66%,#481b6d 71%,#481c6e 75%,#453781 78%,#3b528b 81%,#2b748e 84%,#297b8e 87%,#277e8e 93%,#26818e 100%)"></i><i style="left:412.00px;background:linear-gradient(#471164 0%,#471164 15%,#471365 20%,#471365 25%,#481467 30%,#481467 36%,#481668 41%,#481668 46%,#481769 51%,#481769 56%,#48186a 61%,#481a6c 66%,#481a6c 71%,#481b6d 75%,#453781 78%,#3b528b 81%,#2b758e 84%,#287c8e 87%,#277f8e 93%,#26828e 100%)"></i><i style="left:414.00px;background:linear-gradient(#471164 0%,#471164 15%,#471365 20%,#471365 25%,#481467 30%,#481467 36%,#481668 41%,#481668 46%,#481769 51%,#48186a 56%,#48186a 61%,#481a6c 66%,#481b6d 71%,#481c6e 75%,#453781 78%,#3b528b 81%,#2b748e 84%,#297b8e 87%,#287d8e 93%,#27808e 100%)"></i><i style="left:416.00px;background:linear-gradient(#471164 0%,#471164 15%,#471365 20%,#471365 25%,#481467 30%,#481467 36%,#481668 41%,#481668 46%,#481769 51%,#48186a 56%,#481a6c 61%,#481b6d 66%,#481c6e 71%,#481d6f 75%,#453882 78%,#3b528b 81%,#2c738e 84%,#297a8e 87%,#287d8e 93%,#27808e 100%)"></i><i style="left:418.00px;background:linear-gradient(#471164 0%,#471164 15%,#471365 20%,#471365 25%,#481467 30%,#481467 36%,#481668 41%,#481668 46%,#481769 51%,#48186a 56%,#481a6c 61%,#481b6d 66%,#481c6e 71%,#481d6f 75%,#453781 78%,#3b518b 81%,#2c728e 84%,#2a788e 87%,#297b8e 93%,#277e8e 100%)"></i><i style="left:420.00px;background:linear-gradient(#471164 0%,#471164 15%,#471365 20%,#471365 25%,#481467 30%,#481467 36%,#481668 41%,#481668 46%,#481769 51%,#48186a 56%,#481a6c 61%,#481b6d 66%,#481d6f 71%,#481f70 75%,#453882 78%,#3b528b 81%,#2c738e 84%,#297a8e 87%,#287c8e 93%,#277f8e 100%)"></i><i style="left:422.00px;background:linear-gradient(#471164 0%,#471164 15%,#471365 20%,#471365 25%,#481467 30%,#481467 36%,#481668 41%,#481668 46%,#481769 51%,#48186a 56%,#481a6c 61%,#481b6d 66%,#481c6e 71%,#481d6f 75%,#453781 78%,#3c508b 81%,#2d708e 84%,#2a768e 87%,#2a788e 93%,#297b8e 100%)"></i><i style="left:424.00px;background:linear-gradient(#471164 0%,#471164 15%,#471365 20%,#471365 25%,#481467 30%,#481467 36%,#481668 41%,#481668 46%,#481769 51%,#48186a 56%,#48186a 61%,#481a6c 66%,#481b6d 71%,#481c6e 75%,#453781 78%,#3b518b 81%,#2c738e 84%,#29798e 87%,#287c8e 93%,#277f8e 100%)"></i><i style="left:426.00px;background:linear-gradient(#471164 0%,#471164 15%,#471365 20%,#471365 25%,#481467 30%,#481467 36%,#481668 41%,#481668 46%,#481769 51%,#48186a 56%,#48186a 61%,#481a6c 66%,#481b6d 71%,#481c6e 75%,#453581 78%,#3c508b 81%,#2d718e 84%,#2a778e 87%,#29798e 93%,#287c8e 100%)"></i><i style="left:428.00px;background:linear-gradient(#471164 0%,#471164 15%,#471365 20%,#471365 30%,#481467 36%,#481668 41%,#481668 46%,#481769 51%,#481769 56%,#48186a 61%,#481a6c 66%,#481b6d 71%,#481c6e 75%,#463480 78%,#3d4e8a 81%,#2e6f8e 84%,#2b748e 87%,#2a778e 93%,#297a8e 100%)"></i><i style="left:430.00px;background:linear-gradient(#471164 0%,#471164 15%,#471365 20%,#471365 30%,#481467 36%,#481668 41%,#481668 46%,#481769 51%,#48186a 56%,#48186a 61%,#481a6c 66%,#481b6d 71%,#481c6e 75%,#453781 78%,#3c508b 81%,#2c718e 84%,#2a778e 87%,#297a8e 93%,#287d8e 100%)"></i><i style="left:432.00px;background:linear-gradient(#471164 0%,#471164 15%,#471365 20%,#471365 30%,#481467 36%,#481668 41%,#481668 46%,#481769 51%,#481769 56%,#48186a 61%,#48186a 71%,#481a6c 75%,#453581 78%,#3b528b 81%,#2b758e 84%,#287c8e 87%,#277f8e 93%,#26828e 100%)"></i><i style="left:434.00px;background:linear-gradient(#471164 0%,#471164 15%,#471365 20%,#471365 30%,#481467 36%,#481467 41%,#481668 46%,#481769 51%,#481769 56%,#48186a 61%,#481a6c 66%,#481b6d 71%,#481c6e 75%,#453781 78%,#3b528b 81%,#2a768e 84%,#287c8e 87%,#277f8e 93%,#26828e 100%)"></i><i style="left:436.00px;background:linear-gradient(#471164 0%,#471164 15%,#471365 20%,#471365 30%,#481467 36%,#481467 41%,#481668 46%,#481769 51%,#481769 56%,#48186a 61%,#48186a 66%,#481a6c 71%,#481a6c 75%,#463480 78%,#3c4f8a 81%,#2c718e 84%,#2a788e 87%,#297b8e 93%,#277e8e 100%)"></i><i style="left:438.00px;background:linear-gradient(#471164 0%,#471164 15%,#471365 20%,#471365 30%,#481467 36%,#481467 41%,#481668 46%,#481769 51%,#481769 61%,#48186a 66%,#48186a 75%,#463480 78%,#3c508b 81%,#2c738e 84%,#297a8e 87%,#287c8e 93%,#277f8e 100%)"></i><i style="left:440.00px;background:linear-gradient(#471164 0%,#471164 15%,#471365 20%,#471365 30%,#481467 36%,#481467 41%,#481668 46%,#481668 75%,#46327e 78%,#3d4e8a 81%,#2d718e 84%,#2a778e 87%,#297a8e 93%,#287d8e 100%)"></i><i style="left:442.00px;background:linear-gradient(#471164 0%,#471164 15%,#471365 20%,#471365 30%,#481467 36%,#481467 41%,#481668 46%,#481668 51%,#481769 56%,#481769 71%,#48186a 75%,#46337f 78%,#3d4e8a 81%,#2d718e 84%,#2a778e 87%,#29798e 93%,#287c8e 100%)"></i><i style="left:444.00px;background:linear-gradient(#471164 0%,#471164 15%,#471365 20%,#471365 30%,#481467 36%,#481467 41%,#481668 46%,#481668 51%,#481769 56%,#48186a 61%,#48186a 66%,#481a6c 71%,#481a6c 75%,#463480 78%,#3c4f8a 81%,#2c718e 84%,#2a778e 87%,#297a8e 93%,#287d8e 100%)"></i><i style="left:446.00px;background:linear-gradient(#471164 0%,#471164 15%,#471365 20%,#471365 30%,#481467 36%,#481467 41%,#481668 46%,#481668 51%,#481769 56%,#48186a 61%,#481a6c 66%,#481b6d 71%,#481c6e 75%,#463480 78%,#3e4c8a 81%,#2f6b8e 84%,#2c718e 87%,#2c738e 93%,#2a768e 100%)"></i><i style="left:448.00px;background:linear-gradient(#471164 0%,#471164 15%,#471365 20%,#471365 30%,#481467 36%,#481467 41%,#481668 46%,#481668 51%,#481769 56%,#48186a 61%,#481a6c 66%,#481b6d 71%,#481c6e 75%,#453581 78%,#3c4f8a 81%,#2e6f8e 84%,#2b758e 87%,#2a778e 93%,#297a8e 100%)"></i><i style="left:450.00px;background:linear-gradient(#471164 0%,#471164 15%,#471365 20%,#471365 30%,#481467 36%,#481467 41%,#481668 46%,#481668 51%,#481769 56%,#481769 61%,#48186a 66%,#48186a 71%,#481a6c 75%,#46337f 78%,#3d4d8a 81%,#2e6e8e 84%,#2c738e 87%,#2a768e 93%,#29798e 100%)"></i><i style="left:452.00px;background:linear-gradient(#471164 0%,#471164 15%,#471365 20%,#471365 30%,#481467 36%,#481467 41%,#481668 46%,#481668 51%,#481769 56%,#481769 75%,#46327e 78%,#3e4c8a 81%,#2e6e8e 84%,#2c738e 87%,#2a768e 93%,#29798e 100%)"></i><i style="left:454.00px;background:linear-gradient(#471164 0%,#471164 20%,#471365 25%,#471365 30%,#481467 36%,#481467 41%,#481668 46%,#481668 56%,#481769 61%,#481769 75%,#46307e 78%,#3e4a89 81%,#2f6c8e 84%,#2c718e 87%,#2b748e 93%,#2a778e 100%)"></i><i style="left:456.00px;background:linear-gradient(#471164 0%,#471164 20%,#471365 25%,#471365 30%,#481467 36%,#481467 41%,#481668 46%,#481668 75%,#472f7d 78%,#3e4989 81%,#2f6b8e 84%,#2d718e 87%,#2c738e 93%,#2a768e 100%)"></i><i style="left:458.00px;background:linear-gradient(#471164 0%,#471164 20%,#471365 25%,#471365 30%,#481467 36%,#481467 41%,#481668 46%,#481668 51%,#481769 56%,#481769 66%,#48186a 71%,#48186a 75%,#46327e 78%,#3e4a89 81%,#2f6c8e 84%,#2c718e 87%,#2b748e 93%,#2a778e 100%)"></i><i style="left:460.00px;background:linear-gradient(#471164 0%,#471164 20%,#471365 25%,#471365 30%,#481467 36%,#481467 41%,#481668 46%,#481668 51%,#481769 56%,#481769 61%,#48186a 66%,#48186a 75%,#46337f 78%,#3d4e8a 81%,#2d718e 84%,#2a778e 87%,#29798e 93%,#287c8e 100%)"></i><i style="left:462.00px;background:linear-gradient(#471164 0%,#471164 20%,#471365 25%,#471365 30%,#481467 36%,#481467 41%,#481668 46%,#481668 51%,#481769 56%,#481769 66%,#48186a 71%,#48186a 75%,#463480 78%,#3b518b 81%,#2b758e 84%,#287c8e 87%,#277e8e 93%,#26818e 100%)"></i><i style="left:464.00px;background:linear-gradient(#471164 0%,#471164 20%,#471365 25%,#471365 30%,#481467 36%,#481467 41%,#481668 46%,#481668 51%,#481769 56%,#481769 61%,#48186a 66%,#48186a 71%,#481a6c 75%,#463480 78%,#3c508b 81%,#2c728e 84%,#29798e 87%,#287c8e 93%,#277f8e 100%)"></i><i style="left:466.00px;background:linear-gradient(#471164 0%,#471164 20%,#471365 25%,#471365 30%,#481467 36%,#481467 41%,#481668 46%,#481668 51%,#481769 56%,#481769 75%,#463480 78%,#3c508b 81%,#2b748e 84%,#297b8e 87%,#277e8e 93%,#26818e 100%)"></i><i style="left:468.00px;background:linear-gradient(#471164 0%,#471164 20%,#471365 25%,#471365 30%,#481467 36%,#481467 41%,#481668 46%,#481668 75%,#46327e 78%,#3d4e8a 81%,#2c718e 84%,#2a788e 87%,#297b8e 93%,#277e8e 100%)"></i><i style="left:470.00px;background:linear-gradient(#471164 0%,#471164 20%,#471365 25%,#471365 30%,#481467 36%,#481467 41%,#481668 46%,#481668 75%,#472f7d 78%,#3e4a89 81%,#2f6c8e 84%,#2c728e 87%,#2b748e 93%,#2a778e 100%)"></i><i style="left:472.00px;background:linear-gradient(#471164 0%,#471164 20%,#471365 25%,#471365 30%,#481467 36%,#481467 41%,#481668 46%,#481668 61%,#481769 66%,#481769 75%,#46327e 78%,#3d4d8a 81%,#2e6f8e 84%,#2b758e 87%,#2a788e 93%,#297b8e 100%)"></i><i style="left:474.00px;background:linear-gradient(#471164 0%,#471164 20%,#471365 25%,#471365 30%,#481467 36%,#481467 41%,#481668 46%,#481668 56%,#481769 61%,#481769 71%,#48186a 75%,#46337f 78%,#3d4e8a 81%,#2c718e 84%,#2a778e 87%,#297a8e 93%,#287d8e 100%)"></i><i style="left:476.00px;background:linear-gradient(#471063 0%,#471063 10%,#471164 15%,#471164 20%,#471365 25%,#471365 30%,#481467 36%,#481467 41%,#481668 46%,#481668 51%,#481769 56%,#481769 61%,#48186a 66%,#48186a 75%,#46337f 78%,#3d4e8a 81%,#2d708e 84%,#2a768e 87%,#2a788e 93%,#297b8e 100%)"></i><i style="left:478.00px;background:linear-gradient(#471063 0%,#471063 10%,#471164 15%,#471164 20%,#471365 25%,#471365 30%,#481467 36%,#481467 41%,#481668 46%,#481668 51%,#481769 56%,#48186a 61%,#48186a 66%,#481a6c 71%,#481b6d 75%,#453581 78%,#3c4f8a 81%,#2c718e 84%,#2a778e 87%,#297a8e 93%,#287d8e 100%)"></i><i style="left:480.00px;background:linear-gradient(#471063 0%,#471063 10%,#471164 15%,#471164 20%,#471365 25%,#471365 30%,#481467 36%,#481467 41%,#481668 46%,#481668 56%,#481769 61%,#481769 71%,#48186a 75%,#46337f 78%,#3c4f8a 81%,#2c728e 84%,#29798e 87%,#297b8e 93%,#277e8e 100%)"></i><i style="left:482.00px;background:linear-gradient(#471063 0%,#471063 10%,#471164 15%,#471164 20%,#471365 25%,#471365 30%,#481467 36%,#481467 41%,#481668 46%,#481668 56%,#481769 61%,#481769 75%,#46327e 78%,#3d4d8a 81%,#2d708e 84%,#2b758e 87%,#2a788e 93%,#297b8e 100%)"></i><i style="left:484.00px;background:linear-gradient(#471063 0%,#471063 10%,#471164 15%,#471164 20%,#471365 25%,#471365 30%,#481467 36%,#481467 41%,#481668 46%,#481668 56%,#481769 61%,#481769 75%,#472f7d 78%,#3f4889 81%,#31678e 84%,#2e6d8e 87%,#2d708e 93%,#2c728e 100%)"></i><i style="left:486.00px;background:linear-gradient(#471063 0%,#471063 10%,#471164 15%,#471164 20%,#471365 25%,#471365 30%,#481467 36%,#481467 41%,#481668 46%,#481668 75%,#472c7a 78%,#424186 81%,#355f8d 84%,#32648e 87%,#31678e 93%,#306a8e 100%)"></i><i style="left:488.00px;background:linear-gradient(#471063 0%,#471063 10%,#471164 15%,#471164 20%,#471365 25%,#471365 30%,#481467 36%,#481467 41%,#481668 46%,#481668 75%,#482979 78%,#423f85 81%,#375b8d 84%,#34608d 87%,#33628d 93%,#32658e 100%)"></i><i style="left:490.00px;background:linear-gradient(#471063 0%,#471063 10%,#471164 15%,#471164 20%,#471365 25%,#471365 30%,#481467 36%,#481467 41%,#481668 46%,#481668 56%,#481769 61%,#481769 75%,#472c7a 78%,#424086 81%,#375b8d 84%,#34608d 87%,#33628d 93%,#32658e 100%)"></i><i style="left:492.00px;background:linear-gradient(#471063 0%,#471063 10%,#471164 15%,#471164 20%,#471365 25%,#471365 30%,#481467 36%,#481467 41%,#481668 46%,#481668 51%,#481769 56%,#481769 61%,#48186a 66%,#481a6c 71%,#481a6c 75%,#472e7c 78%,#414287 81%,#355e8d 84%,#32648e 87%,#31668e 93%,#30698e 100%)"></i><i style="left:494.00px;background:linear-gradient(#471063 0%,#471063 10%,#471164 15%,#471164 20%,#471365 25%,#471365 30%,#481467 36%,#481467 41%,#481668 46%,#481668 51%,#481769 56%,#48186a 61%,#481a6c 66%,#481b6d 71%,#481b6d 75%,#46307e 78%,#404688 81%,#33628d 84%,#31688e 87%,#306a8e 93%,#2e6d8e 100%)"></i><i style="left:496.00px;background:linear-gradient(#471063 0%,#471063 10%,#471164 15%,#471164 20%,#471365 25%,#471365 30%,#481467 36%,#481467 41%,#481668 46%,#481668 51%,#481769 56%,#48186a 61%,#48186a 66%,#481a6c 71%,#481b6d 75%,#472e7c 78%,#414287 81%,#355e8d 84%,#33638d 87%,#31668e 93%,#30698e 100%)"></i><i style="left:498.00px;background:linear-gradient(#471063 0%,#471063 10%,#471164 15%,#471164 20%,#471365 25%,#471365 30%,#481467 36%,#481467 41%,#481668 46%,#481668 51%,#481769 56%,#481769 61%,#48186a 66%,#481a6c 71%,#481a6c 75%,#472e7c 78%,#414487 81%,#355f8d 84%,#32648e 87%,#31678e 93%,#306a8e 100%)"></i><i style="left:500.00px;background:linear-gradient(#471063 0%,#471063 10%,#471164 15%,#471164 20%,#471365 25%,#471365 30%,#481467 36%,#481467 46%,#481668 51%,#481769 56%,#48186a 61%,#481a6c 66%,#481b6d 71%,#481c6e 75%,#472f7d 78%,#404588 81%,#34608d 84%,#32658e 87%,#31688e 93%,#2f6b8e 100%)"></i><i style="left:502.00px;background:linear-gradient(#471063 0%,#471063 10%,#471164 15%,#471164 20%,#471365 25%,#471365 36%,#481467 41%,#481467 46%,#481668 51%,#481769 56%,#481769 61%,#48186a 66%,#481a6c 71%,#481b6d 75%,#472f7d 78%,#414487 81%,#34608d 84%,#32658e 87%,#31688e 93%,#2f6b8e 100%)"></i><i style="left:504.00px;background:linear-gradient(#471063 0%,#471063 10%,#471164 15%,#471164 20%,#471365 25%,#471365 36%,#481467 41%,#481467 46%,#481668 51%,#481769 56%,#48186a 61%,#48186a 66%,#481a6c 71%,#481b6d 75%,#472f7d 78%,#404588 81%,#34618d 84%,#31668e 87%,#30698e 93%,#2f6c8e 100%)"></i><i style="left:506.00px;background:linear-gradient(#471063 0%,#471063 10%,#471164 15%,#471164 20%,#471365 25%,#471365 36%,#481467 41%,#481467 46%,#481668 51%,#481769 56%,#48186a 61%,#481a6c 66%,#481b6d 71%,#481c6e 75%,#472f7d 78%,#414487 81%,#365d8d 84%,#33628d 87%,#32658e 93%,#31688e 100%)"></i><i style="left:508.00px;background:linear-gradient(#471063 0%,#471063 10%,#471164 15%,#471164 20%,#471365 25%,#471365 36%,#481467 41%,#481467 46%,#481668 51%,#481769 56%,#48186a 61%,#481a6c 66%,#481a6c 71%,#481b6d 75%,#472f7d 78%,#414487 81%,#355f8d 84%,#32648e 87%,#31668e 93%,#30698e 100%)"></i><i style="left:510.00px;background:linear-gradient(#471063 0%,#471063 10%,#471164 15%,#471164 20%,#471365 25%,#471365 36%,#481467 41%,#481467 46%,#481668 51%,#481769 56%,#481769 61%,#48186a 66%,#48186a 71%,#481a6c 75%,#472f7d 78%,#404688 81%,#33638d 84%,#31688e 87%,#2f6b8e 93%,#2e6e8e 100%)"></i><i style="left:512.00px;background:linear-gradient(#471063 0%,#471063 10%,#471164 15%,#471164 20%,#471365 25%,#471365 36%,#481467 41%,#481467 46%,#481668 51%,#481668 56%,#481769 61%,#48186a 66%,#48186a 71%,#481a6c 75%,#472e7c 78%,#404588 81%,#34618d 84%,#31668e 87%,#30698e 93%,#2f6c8e 100%)"></i><i style="left:514.00px;background:linear-gradient(#471063 0%,#471063 10%,#471164 15%,#471164 20%,#471365 25%,#471365 36%,#481467 41%,#481467 46%,#481668 51%,#481769 56%,#481769 61%,#48186a 66%,#481a6c 71%,#481a6c 75%,#472e7c 78%,#424186 81%,#365c8d 84%,#34618d 87%,#32648e 93%,#31678e 100%)"></i><i style="left:516.00px;background:linear-gradient(#471063 0%,#471063 10%,#471164 15%,#471164 25%,#471365 30%,#471365 36%,#481467 41%,#481467 46%,#481668 51%,#481769 56%,#48186a 61%,#48186a 66%,#481a6c 71%,#481b6d 75%,#472e7c 78%,#414287 81%,#355e8d 84%,#33638d 87%,#32658e 93%,#31688e 100%)"></i><i style="left:518.00px;background:linear-gradient(#471063 0%,#471063 10%,#471164 15%,#471164 25%,#471365 30%,#471365 36%,#481467 41%,#481467 46%,#481668 51%,#481769 56%,#481769 61%,#48186a 66%,#481a6c 71%,#481b6d 75%,#472f7d 78%,#404588 81%,#34608d 84%,#32658e 87%,#31688e 93%,#2f6b8e 100%)"></i><i style="left:520.00px;background:linear-gradient(#471063 0%,#471063 10%,#471164 15%,#471164 25%,#471365 30%,#471365 36%,#481467 41%,#481467 46%,#481668 51%,#481769 56%,#48186a 61%,#481a6c 66%,#481a6c 71%,#481b6d 75%,#472f7d 78%,#414487 81%,#355f8d 84%,#32648e 87%,#31668e 93%,#30698e 100%)"></i><i style="left:522.00px;background:linear-gradient(#471063 0%,#471063 10%,#471164 15%,#471164 25%,#471365 30%,#471365 36%,#481467 41%,#481467 46%,#481668 51%,#481668 56%,#481769 61%,#481769 71%,#48186a 75%,#472c7a 78%,#424086 81%,#375b8d 84%,#34608d 87%,#33638d 93%,#31668e 100%)"></i><i style="left:524.00px;background:linear-gradient(#471063 0%,#471063 10%,#471164 15%,#471164 25%,#471365 30%,#471365 36%,#481467 41%,#481467 46%,#481668 51%,#481668 71%,#481769 75%,#472c7a 78%,#414287 81%,#355f8d 84%,#32658e 87%,#31678e 93%,#306a8e 100%)"></i><i style="left:526.00px;background:linear-gradient(#471063 0%,#471063 10%,#471164 15%,#471164 25%,#471365 30%,#471365 36%,#481467 41%,#481467 46%,#481668 51%,#481668 61%,#481769 66%,#481769 75%,#472a7a 78%,#423f85 81%,#375a8c 84%,#355f8d 87%,#34618d 93%,#32648e 100%)"></i><i style="left:528.00px;background:linear-gradient(#471063 0%,#471063 10%,#471164 15%,#471164 25%,#471365 30%,#471365 36%,#481467 41%,#481467 46%,#481668 51%,#481668 75%,#472a7a 78%,#424086 81%,#365c8d 84%,#34618d 87%,#32648e 93%,#31678e 100%)"></i><i style="left:530.00px;background:linear-gradient(#471063 0%,#471063 10%,#471164 15%,#471164 25%,#471365 30%,#471365 36%,#481467 41%,#481467 46%,#481668 51%,#481668 56%,#481467 61%,#481467 75%,#482979 78%,#423f85 81%,#375b8d 84%,#34608d 87%,#33638d 93%,#31668e 100%)"></i><i style="left:532.00px;background:linear-gradient(#471063 0%,#471063 10%,#471164 15%,#471164 25%,#471365 30%,#471365 36%,#481467 41%,#481467 46%,#481668 51%,#481467 56%,#481467 66%,#471365 71%,#471365 75%,#482677 78%,#443b84 81%,#38588c 84%,#365d8d 87%,#355f8d 93%,#33628d 100%)"></i><i style="left:534.00px;background:linear-gradient(#471063 0%,#471063 10%,#471164 15%,#471164 25%,#471365 30%,#471365 36%,#481467 41%,#481467 46%,#481668 51%,#481467 56%,#481467 61%,#471365 66%,#471365 75%,#482878 78%,#423f85 81%,#365d8d 84%,#33628d 87%,#32658e 93%,#31688e 100%)"></i><i style="left:536.00px;background:linear-gradient(#471063 0%,#471063 15%,#471164 20%,#471164 25%,#471365 30%,#471365 36%,#481467 41%,#481467 46%,#481668 51%,#481467 56%,#481467 66%,#471365 71%,#471365 75%,#482979 78%,#423f85 81%,#365c8d 84%,#33628d 87%,#32648e 93%,#31678e 100%)"></i><i style="left:538.00px;background:linear-gradient(#471063 0%,#471063 15%,#471164 20%,#471164 25%,#471365 30%,#471365 36%,#481467 41%,#481467 46%,#481668 51%,#481467 56%,#481467 61%,#471365 66%,#471365 75%,#482677 78%,#443b84 81%,#38588c 84%,#365d8d 87%,#34608d 93%,#33638d 100%)"></i><i style="left:540.00px;background:linear-gradient(#471063 0%,#471063 15%,#471164 20%,#471164 25%,#471365 30%,#471365 36%,#481467 41%,#481467 46%,#481668 51%,#481467 56%,#481467 75%,#482979 78%,#423f85 81%,#375b8d 84%,#34608d 87%,#33638d 93%,#31668e 100%)"></i><i style="left:542.00px;background:linear-gradient(#471063 0%,#471063 15%,#471164 20%,#471164 25%,#471365 30%,#471365 36%,#481467 41%,#481467 46%,#481668 51%,#481668 56%,#481769 61%,#481769 71%,#48186a 75%,#472c7a 78%,#423f85 81%,#375a8c 84%,#355f8d 87%,#34618d 93%,#32648e 100%)"></i><i style="left:544.00px;background:linear-gradient(#471063 0%,#471063 15%,#471164 20%,#471164 25%,#471365 30%,#471365 36%,#481467 41%,#481467 46%,#481668 51%,#481668 61%,#481769 66%,#481769 71%,#48186a 75%,#482979 78%,#443b84 81%,#3a548c 84%,#375a8c 87%,#365c8d 93%,#355f8d 100%)"></i><i style="left:546.00px;background:linear-gradient(#471063 0%,#471063 15%,#471164 20%,#471164 25%,#471365 30%,#471365 36%,#481467 41%,#481467 46%,#481668 51%,#481668 56%,#481769 61%,#48186a 66%,#481a6c 71%,#481a6c 75%,#472c7a 78%,#433e85 81%,#39558c 84%,#375b8d 87%,#365d8d 93%,#34608d 100%)"></i><i style="left:548.00px;background:linear-gradient(#471063 0%,#471063 15%,#471164 20%,#471164 25%,#471365 30%,#471365 36%,#481467 41%,#481467 46%,#481668 51%,#481668 56%,#481769 61%,#48186a 66%,#481a6c 71%,#481b6d 75%,#472d7b 78%,#424086 81%,#38598c 84%,#355e8d 87%,#34618d 93%,#32648e 100%)"></i><i style="left:550.00px;background:linear-gradient(#471063 0%,#471063 15%,#471164 20%,#471164 25%,#471365 30%,#471365 36%,#481467 41%,#481467 46%,#481668 51%,#481668 56%,#481769 61%,#481769 71%,#48186a 75%,#472c7a 78%,#424086 81%,#365c8d 84%,#34618d 87%,#33638d 93%,#31668e 100%)"></i><i style="left:552.00px;background:linear-gradient(#471063 0%,#471063 15%,#471164 20%,#471164 25%,#471365 30%,#471365 36%,#481467 41%,#481467 46%,#481668 51%,#481668 61%,#481769 66%,#481769 71%,#48186a 75%,#472c7a 78%,#424086 81%,#375b8d 84%,#34608d 87%,#33638d 93%,#31668e 100%)"></i><i style="left:554.00px;background:linear-gradient(#471063 0%,#471063 15%,#471164 20%,#471164 25%,#471365 30%,#471365 36%,#481467 41%,#481467 46%,#481668 51%,#481668 75%,#472a7a 78%,#423f85 81%,#375b8d 84%,#34608d 87%,#33628d 93%,#32658e 100%)"></i><i style="left:556.00px;background:linear-gradient(#471063 0%,#471063 15%,#471164 20%,#471164 25%,#471365 30%,#471365 36%,#481467 41%,#481467 46%,#481668 51%,#481668 61%,#481769 66%,#481769 71%,#48186a 75%,#472c7a 78%,#424086 81%,#365c8d 84%,#34618d 87%,#33638d 93%,#31668e 100%)"></i><i style="left:558.00px;background:linear-gradient(#471063 0%,#471063 15%,#471164 20%,#471164 25%,#471365 30%,#471365 36%,#481467 41%,#481467 51%,#481668 56%,#481668 75%,#472a7a 78%,#423f85 81%,#375a8c 84%,#355f8d 87%,#33628d 93%,#32658e 100%)"></i><i style="left:560.00px;background:linear-gradient(#471063 0%,#471063 15%,#471164 20%,#471164 25%,#471365 30%,#471365 36%,#481467 41%,#481467 51%,#481668 56%,#481769 61%,#481769 66%,#48186a 71%,#48186a 75%,#472d7b 78%,#424186 81%,#365d8d 84%,#33638d 87%,#32658e 93%,#31688e 100%)"></i><i style="left:562.00px;background:linear-gradient(#471063 0%,#471063 15%,#471164 20%,#471164 25%,#471365 30%,#471365 36%,#481467 41%,#481467 51%,#481668 56%,#481769 61%,#48186a 66%,#481a6c 71%,#481a6c 75%,#472d7b 78%,#424186 81%,#365c8d 84%,#34618d 87%,#32648e 93%,#31668e 100%)"></i><i style="left:564.00px;background:linear-gradient(#471063 0%,#471063 15%,#471164 20%,#471164 25%,#471365 30%,#471365 36%,#481467 41%,#481467 51%,#481668 56%,#481668 75%,#472a7a 78%,#423f85 81%,#375b8d 84%,#34618d 87%,#33638d 93%,#31668e 100%)"></i><i style="left:566.00px;background:linear-gradient(#471063 0%,#471063 15%,#471164 20%,#471164 25%,#471365 30%,#471365 36%,#481467 41%,#481467 51%,#481668 56%,#481668 61%,#481769 66%,#481769 71%,#48186a 75%,#472c7a 78%,#424086 81%,#365c8d 84%,#34618d 87%,#32648e 93%,#31678e 100%)"></i><i style="left:568.00px;background:linear-gradient(#471063 0%,#471063 15%,#471164 20%,#471164 25%,#471365 30%,#471365 41%,#481467 46%,#481467 51%,#481668 56%,#481769 61%,#48186a 66%,#481a6c 71%,#481b6d 75%,#472d7b 78%,#423f85 81%,#38588c 84%,#365d8d 87%,#355f8d 93%,#33628d 100%)"></i><i style="left:570.00px;background:linear-gradient(#471063 0%,#471063 15%,#471164 20%,#471164 25%,#471365 30%,#471365 41%,#481467 46%,#481467 51%,#481668 56%,#481769 61%,#481769 66%,#48186a 71%,#481a6c 75%,#472c7a 78%,#433e85 81%,#39568c 84%,#365c8d 87%,#355e8d 93%,#34618d 100%)"></i><i style="left:572.00px;background:linear-gradient(#471063 0%,#471063 15%,#471164 20%,#471164 25%,#471365 30%,#471365 41%,#481467 46%,#481467 51%,#481668 56%,#481769 61%,#48186a 66%,#481a6c 71%,#481b6d 75%,#472e7c 78%,#414287 81%,#365d8d 84%,#33628d 87%,#32648e 93%,#31678e 100%)"></i><i style="left:574.00px;background:linear-gradient(#471063 0%,#471063 15%,#471164 20%,#471164 25%,#471365 30%,#471365 41%,#481467 46%,#481467 51%,#481668 56%,#481668 66%,#481769 71%,#481769 75%,#472c7a 78%,#424086 81%,#365c8d 84%,#34618d 87%,#33638d 93%,#31668e 100%)"></i><i style="left:576.00px;background:linear-gradient(#471063 0%,#471063 15%,#471164 20%,#471164 25%,#471365 30%,#471365 41%,#481467 46%,#481467 51%,#481668 56%,#481668 61%,#481769 66%,#481769 71%,#48186a 75%,#472c7a 78%,#423f85 81%,#375a8c 84%,#355f8d 87%,#34618d 93%,#32648e 100%)"></i><i style="left:578.00px;background:linear-gradient(#471063 0%,#471063 15%,#471164 20%,#471164 25%,#471365 30%,#471365 41%,#481467 46%,#481467 66%,#481668 71%,#481668 75%,#472c7a 78%,#414487 81%,#33628d 84%,#31688e 87%,#2f6b8e 93%,#2e6e8e 100%)"></i><i style="left:580.00px;background:linear-gradient(#471063 0%,#471063 15%,#471164 20%,#471164 25%,#471365 30%,#471365 41%,#481467 46%,#481467 51%,#481a6c 56%,#481f70 61%,#482475 66%,#482979 71%,#472d7b 75%,#424186 78%,#39558c 81%,#2c718e 84%,#2a768e 87%,#29798e 93%,#287c8e 100%)"></i><i style="left:582.00px;background:linear-gradient(#471063 0%,#471063 15%,#471164 20%,#471164 30%,#471365 36%,#471365 41%,#481467 46%,#481467 51%,#482374 56%,#472f7d 61%,#433d84 66%,#3f4889 71%,#3b518b 75%,#355e8d 78%,#2f6b8e 81%,#287c8e 84%,#27808e 87%,#26828e 93%,#25858e 100%)"></i><i style="left:584.00px;background:linear-gradient(#471063 0%,#471063 15%,#471164 20%,#471164 30%,#471365 36%,#471365 41%,#481467 46%,#481467 51%,#482173 56%,#472e7c 61%,#443a83 66%,#404688 71%,#3c4f8a 75%,#365c8d 78%,#30698e 81%,#297a8e 84%,#277e8e 87%,#26818e 93%,#25838e 100%)"></i><i style="left:586.00px;background:linear-gradient(#471063 0%,#471063 15%,#471164 20%,#471164 30%,#471365 36%,#471365 41%,#481467 46%,#481467 51%,#482374 56%,#472f7d 61%,#433d84 66%,#3f4889 71%,#3b518b 75%,#355e8d 78%,#2f6b8e 81%,#287c8e 84%,#27808e 87%,#26828e 93%,#25858e 100%)"></i><i style="left:588.00px;background:linear-gradient(#471063 0%,#471063 15%,#471164 20%,#471164 30%,#471365 36%,#471365 41%,#481467 46%,#481467 51%,#482475 56%,#46327e 61%,#423f85 66%,#3d4d8a 71%,#39568c 75%,#34608d 78%,#2f6b8e 81%,#2a788e 84%,#287c8e 87%,#277e8e 93%,#26818e 100%)"></i><i style="left:590.00px;background:linear-gradient(#471063 0%,#471063 15%,#471164 20%,#471164 30%,#471365 36%,#471365 41%,#481467 46%,#481467 51%,#482475 56%,#46327e 61%,#423f85 66%,#3d4d8a 71%,#39568c 75%,#33628d 78%,#2e6e8e 81%,#277f8e 84%,#26828e 87%,#25848e 93%,#24878e 100%)"></i><i style="left:592.00px;background:linear-gradient(#471063 0%,#471063 15%,#471164 20%,#471164 30%,#471365 36%,#471365 41%,#481467 46%,#481467 51%,#482475 56%,#46337f 61%,#424086 66%,#3d4e8a 71%,#38588c 75%,#33638d 78%,#2e6e8e 81%,#287d8e 84%,#27808e 87%,#26828e 93%,#25858e 100%)"></i><i style="left:594.00px;background:linear-gradient(#471063 0%,#471063 15%,#471164 20%,#471164 30%,#471365 36%,#471365 41%,#481467 46%,#481467 51%,#482475 56%,#46337f 61%,#424186 66%,#3c4f8a 71%,#38598c 75%,#33628d 78%,#2f6c8e 81%,#29798e 84%,#287c8e 87%,#277f8e 93%,#26828e 100%)"></i><i style="left:596.00px;background:linear-gradient(#471063 0%,#471063 15%,#471164 20%,#471164 30%,#471365 36%,#471365 41%,#481467 46%,#481467 51%,#482475 56%,#46337f 61%,#424186 66%,#3c4f8a 71%,#38598c 75%,#33638d 78%,#2e6d8e 81%,#297b8e 84%,#277f8e 87%,#26818e 93%,#25838e 100%)"></i><i style="left:598.00px;background:linear-gradient(#471063 0%,#471063 15%,#471164 20%,#471164 30%,#471365 36%,#471365 41%,#481467 46%,#481467 51%,#482475 56%,#46337f 61%,#414287 66%,#3c508b 71%,#375b8d 75%,#32648e 78%,#2e6e8e 81%,#287c8e 84%,#277f8e 87%,#26828e 93%,#25848e 100%)"></i></div>
<svg width="685" height="494" viewBox="0 0 685 494" font-family="Liberation Sans, sans-serif" style="position:absolute;left:0;top:0">
<defs><linearGradient id="vir" x1="0" y1="0" x2="0" y2="1"><stop offset="0.00" stop-color="#fde725"/><stop offset="0.05" stop-color="#dfe318"/><stop offset="0.10" stop-color="#bddf26"/><stop offset="0.15" stop-color="#9bd93c"/><stop offset="0.20" stop-color="#7ad151"/><stop offset="0.25" stop-color="#5ec962"/><stop offset="0.30" stop-color="#44bf70"/><stop offset="0.35" stop-color="#2fb47c"/><stop offset="0.40" stop-color="#22a884"/><stop offset="0.45" stop-color="#1e9c89"/><stop offset="0.50" stop-color="#21918c"/><stop offset="0.55" stop-color="#25848e"/><stop offset="0.60" stop-color="#2a788e"/><stop offset="0.65" stop-color="#2f6c8e"/><stop offset="0.70" stop-color="#355f8d"/><stop offset="0.75" stop-color="#3b528b"/><stop offset="0.80" stop-color="#414487"/><stop offset="0.85" stop-color="#463480"/><stop offset="0.90" stop-color="#482475"/><stop offset="0.95" stop-color="#471365"/><stop offset="1.00" stop-color="#440154"/></linearGradient><clipPath id="clipa"><rect x="40.3" y="0.0" width="270.3" height="125.6"/></clipPath><clipPath id="clipb"><rect x="368.9" y="0.0" width="270.6" height="125.6"/></clipPath><clipPath id="clipc"><rect x="40.3" y="143.9" width="270.3" height="125.5"/></clipPath><clipPath id="clipd"><rect x="368.9" y="143.9" width="270.6" height="125.5"/></clipPath></defs>
<rect x="126.2" y="0.0" width="16.4" height="125.6" fill="#E69F00" fill-opacity="0.16"/>
<line x1="52.5" y1="0.0" x2="52.5" y2="125.6" stroke="#d4d4d4" stroke-width="0.7" stroke-dasharray="0.8 1.3" stroke-opacity="0.5"/>
<line x1="85.2" y1="0.0" x2="85.2" y2="125.6" stroke="#d4d4d4" stroke-width="0.7" stroke-dasharray="0.8 1.3" stroke-opacity="0.5"/>
<line x1="118.0" y1="0.0" x2="118.0" y2="125.6" stroke="#d4d4d4" stroke-width="0.7" stroke-dasharray="0.8 1.3" stroke-opacity="0.5"/>
<line x1="150.7" y1="0.0" x2="150.7" y2="125.6" stroke="#d4d4d4" stroke-width="0.7" stroke-dasharray="0.8 1.3" stroke-opacity="0.5"/>
<line x1="183.5" y1="0.0" x2="183.5" y2="125.6" stroke="#d4d4d4" stroke-width="0.7" stroke-dasharray="0.8 1.3" stroke-opacity="0.5"/>
<line x1="216.2" y1="0.0" x2="216.2" y2="125.6" stroke="#d4d4d4" stroke-width="0.7" stroke-dasharray="0.8 1.3" stroke-opacity="0.5"/>
<line x1="249.0" y1="0.0" x2="249.0" y2="125.6" stroke="#d4d4d4" stroke-width="0.7" stroke-dasharray="0.8 1.3" stroke-opacity="0.5"/>
<line x1="281.7" y1="0.0" x2="281.7" y2="125.6" stroke="#d4d4d4" stroke-width="0.7" stroke-dasharray="0.8 1.3" stroke-opacity="0.5"/>
<line x1="306.3" y1="0.0" x2="306.3" y2="125.6" stroke="#d4d4d4" stroke-width="0.7" stroke-dasharray="0.8 1.3" stroke-opacity="0.5"/>
<line x1="40.3" y1="5.2" x2="310.6" y2="5.2" stroke="#d4d4d4" stroke-width="0.7" stroke-dasharray="0.8 1.3" stroke-opacity="0.5"/>
<line x1="40.3" y1="27.6" x2="310.6" y2="27.6" stroke="#d4d4d4" stroke-width="0.7" stroke-dasharray="0.8 1.3" stroke-opacity="0.5"/>
<line x1="40.3" y1="50.0" x2="310.6" y2="50.0" stroke="#d4d4d4" stroke-width="0.7" stroke-dasharray="0.8 1.3" stroke-opacity="0.5"/>
<line x1="40.3" y1="72.4" x2="310.6" y2="72.4" stroke="#d4d4d4" stroke-width="0.7" stroke-dasharray="0.8 1.3" stroke-opacity="0.5"/>
<line x1="40.3" y1="94.8" x2="310.6" y2="94.8" stroke="#d4d4d4" stroke-width="0.7" stroke-dasharray="0.8 1.3" stroke-opacity="0.5"/>
<line x1="40.3" y1="117.2" x2="310.6" y2="117.2" stroke="#d4d4d4" stroke-width="0.7" stroke-dasharray="0.8 1.3" stroke-opacity="0.5"/>
<g clip-path="url(#clipa)">
<path d="M52.5 72.4L52.7 70.3L52.8 68.1L53.0 66.4L53.2 64.5L53.4 64.3L53.5 63.8L53.7 63.4L53.9 63.3L54.0 63.3L54.2 62.8L54.4 63.4L54.5 62.7L54.7 63.4L54.9 63.7L55.1 62.5L55.2 63.1L55.4 63.6L55.6 63.4L55.7 63.7L55.9 63.7L56.1 63.9L56.3 63.9L56.4 63.7L56.6 63.8L56.8 63.5L56.9 64.1L57.1 63.8L57.3 65.0L57.4 65.3L57.6 66.2L57.8 66.7L58.0 66.8L58.1 67.9L58.3 68.0L58.5 68.9L58.6 69.6L58.8 70.3L59.0 71.4L59.2 72.4L59.3 73.1L59.5 74.2L59.7 75.6L59.8 76.6L60.0 77.1L60.2 78.5L60.3 78.8L60.5 79.0L60.7 80.2L60.9 80.7L61.0 81.1L61.2 81.4L61.4 80.9L61.5 80.3L61.7 79.7L61.9 79.1L62.1 78.3L62.2 78.2L62.4 77.2L62.6 76.9L62.7 75.1L62.9 75.0L63.1 73.7L63.2 73.4L63.4 73.0L63.6 75.8L63.8 74.6L63.9 72.1L64.1 80.9L64.3 76.8L64.4 78.3L64.6 83.0L64.8 83.4L64.9 84.9L65.1 90.0L65.3 87.7L65.5 86.1L65.6 80.0L65.8 75.0L66.0 67.6L66.1 64.1L66.3 64.1L66.5 68.5L66.7 60.5L66.8 65.0L67.0 66.1L67.2 68.8L67.3 68.2L67.5 66.5L67.7 66.8L67.8 71.0L68.0 65.4L68.2 65.1L68.4 72.2L68.5 66.7L68.7 67.9L68.9 69.2L69.0 67.3L69.2 72.8L69.4 70.7L69.6 69.7L69.7 73.2L69.9 72.8L70.1 71.0L70.2 72.6L70.4 69.9L70.6 74.1L70.7 70.3L70.9 74.2L71.1 70.7L71.3 72.3L71.4 75.0L71.6 71.2L71.8 73.7L71.9 72.2L72.1 70.4L72.3 74.4L72.5 73.6L72.6 70.1L72.8 72.5L73.0 70.0L73.1 72.5L73.3 73.5L73.5 73.0L73.6 72.1L73.8 72.5L74.0 74.4L74.2 73.5L74.3 74.4L74.5 74.4L74.7 71.5L74.8 74.2L75.0 74.6L75.2 74.2L75.4 72.3L75.5 72.1L75.7 72.9L75.9 73.5L76.0 72.6L76.2 75.1L76.4 73.7L76.5 71.7L76.7 73.7L76.9 72.5L77.1 72.1L77.2 73.3L77.4 73.3L77.6 70.8L77.7 72.6L77.9 73.1L78.1 72.0L78.3 72.8L78.4 74.2L78.6 72.8L78.8 73.5L78.9 75.4L79.1 73.4L79.3 74.3L79.4 73.6L79.6 75.1L79.8 73.6L80.0 73.5L80.1 72.7L80.3 74.7L80.5 72.3L80.6 75.1L80.8 73.9L81.0 72.3L81.2 74.7L81.3 73.8L81.5 72.4L81.7 74.1L81.8 73.7L82.0 73.2L82.2 72.7L82.3 75.6L82.5 73.8L82.7 74.7L82.9 74.4L83.0 74.1L83.2 74.2L83.4 73.0L83.5 74.3L83.7 72.8L83.9 72.9L84.1 74.1L84.2 72.3L84.4 70.6L84.6 72.3L84.7 73.2L84.9 72.9L85.1 73.6L85.2 71.6L85.4 71.4L85.6 73.2L85.8 71.8L85.9 70.3L86.1 72.1L86.3 71.1L86.4 72.3L86.6 72.2L86.8 71.8L86.9 69.5L87.1 72.1L87.3 70.7L87.5 70.5L87.6 70.7L87.8 70.7L88.0 71.1L88.1 69.4L88.3 72.0L88.5 70.1L88.7 72.3L88.8 72.3L89.0 74.6L89.2 72.5L89.3 73.0L89.5 73.0L89.7 75.4L89.8 72.1L90.0 74.4L90.2 74.4L90.4 76.3L90.5 77.1L90.7 76.8L90.9 81.9L91.0 81.6L91.2 79.9L91.4 82.4L91.6 84.9L91.7 85.5L91.9 87.5L92.1 85.4L92.2 82.2L92.4 84.4L92.6 74.4L92.7 75.0L92.9 75.0L93.1 69.8L93.3 79.1L93.4 79.1L93.6 78.1L93.8 76.8L93.9 77.7L94.1 79.2L94.3 76.7L94.5 82.5L94.6 74.9L94.8 82.1L95.0 79.0L95.1 81.1L95.3 80.3L95.5 79.6L95.6 77.7L95.8 75.2L96.0 74.5L96.2 73.6L96.3 77.6L96.5 75.9L96.7 76.7L96.8 72.8L97.0 79.8L97.2 68.6L97.4 76.0L97.5 76.2L97.7 73.0L97.9 72.8L98.0 74.0L98.2 73.1L98.4 76.0L98.5 72.7L98.7 74.2L98.9 75.2L99.1 70.6L99.2 74.1L99.4 72.9L99.6 74.4L99.7 74.3L99.9 72.8L100.1 75.9L100.3 72.2L100.4 73.9L100.6 73.6L100.8 76.9L100.9 72.5L101.1 72.1L101.3 74.0L101.4 71.5L101.6 75.5L101.8 70.6L102.0 74.5L102.1 70.9L102.3 74.8L102.5 69.9L102.6 72.1L102.8 70.1L103.0 72.9L103.2 72.0L103.3 69.1L103.5 73.7L103.7 71.6L103.8 71.2L104.0 72.5L104.2 69.6L104.3 70.1L104.5 72.6L104.7 73.0L104.9 69.8L105.0 70.5L105.2 71.2L105.4 70.8L105.5 73.2L105.7 71.9L105.9 74.0L106.1 73.7L106.2 70.6L106.4 74.3L106.6 70.1L106.7 74.2L106.9 73.7L107.1 72.1L107.2 70.9L107.4 72.1L107.6 74.1L107.8 71.8L107.9 71.0L108.1 73.7L108.3 73.9L108.4 71.3L108.6 72.1L108.8 73.5L108.9 72.4L109.1 73.7L109.3 72.0L109.5 73.2L109.6 72.1L109.8 72.4L110.0 75.6L110.1 71.8L110.3 71.2L110.5 71.7L110.7 70.6L110.8 72.1L111.0 72.3L111.2 70.2L111.3 74.1L111.5 74.8L111.7 69.8L111.8 72.8L112.0 72.0L112.2 74.2L112.4 73.9L112.5 73.7L112.7 72.8L112.9 72.0L113.0 75.6L113.2 70.9L113.4 74.6L113.6 73.5L113.7 71.5L113.9 72.8L114.1 73.5L114.2 69.6L114.4 73.4L114.6 71.6L114.7 72.2L114.9 71.4L115.1 74.8L115.3 71.8L115.4 74.3L115.6 71.3L115.8 75.2L115.9 74.0L116.1 71.7L116.3 73.9L116.5 72.5L116.6 70.1L116.8 73.2L117.0 74.5L117.1 72.3L117.3 75.3L117.5 72.1L117.6 72.8L117.8 75.3L118.0 74.2L118.2 72.8L118.3 72.7L118.5 74.1L118.7 71.7L118.8 75.6L119.0 72.8L119.2 73.7L119.4 73.9L119.5 73.8L119.7 75.5L119.9 72.7L120.0 74.2L120.2 73.9L120.4 75.5L120.5 75.3L120.7 73.3L120.9 75.2L121.1 73.5L121.2 72.2L121.4 72.3L121.6 72.1L121.7 74.9L121.9 74.8L122.1 71.9L122.3 74.2L122.4 72.2L122.6 73.6L122.8 71.1L122.9 72.2L123.1 72.3L123.3 73.1L123.4 72.0L123.6 72.3L123.8 71.7L124.0 71.1L124.1 73.2L124.3 71.2L124.5 74.0L124.6 71.4L124.8 73.8L125.0 73.1L125.2 70.2L125.3 74.3L125.5 74.8L125.7 74.2L125.8 73.9L126.0 71.1L126.2 74.6L126.3 72.9L126.5 76.1L126.7 74.2L126.9 74.3L127.0 72.3L127.2 76.3L127.4 73.7L127.5 74.8L127.7 76.5L127.9 74.4L128.0 75.2L128.2 76.8L128.4 72.9L128.6 73.8L128.7 74.7L128.9 75.8L129.1 71.9L129.2 74.3L129.4 72.4L129.6 72.3L129.8 75.1L129.9 72.8L130.1 76.4L130.3 74.0L130.4 74.2L130.6 71.7L130.8 65.5L130.9 72.1L131.1 68.9L131.3 21.8L131.5 106.8L131.6 42.6L131.8 58.3L132.0 105.5L132.1 62.4L132.3 71.5L132.5 38.2L132.7 113.6L132.8 58.7L133.0 73.3L133.2 82.8L133.3 113.0L133.5 58.4L133.7 92.0L133.8 69.1L134.0 120.3L134.2 66.1L134.4 77.5L134.5 72.5L134.7 109.8L134.9 66.3L135.0 76.9L135.2 89.7L135.4 71.4L135.6 105.5L135.7 39.3L135.9 48.4L136.1 105.4L136.2 61.5L136.4 96.1L136.6 47.2L136.7 87.8L136.9 78.3L137.1 88.9L137.3 77.5L137.4 104.1L137.6 61.7L137.8 104.8L137.9 64.0L138.1 88.5L138.3 62.1L138.5 91.0L138.6 62.5L138.8 103.1L139.0 63.3L139.1 91.7L139.3 73.6L139.5 82.7L139.6 68.2L139.8 100.3L140.0 64.1L140.2 83.2L140.3 84.8L140.5 81.2L140.7 74.4L140.8 75.9L141.0 87.0L141.2 82.8L141.4 73.8L141.5 76.2L141.7 84.8L141.9 82.9L142.0 80.4L142.2 79.4L142.4 82.7L142.5 76.6L142.7 83.1L142.9 81.2L143.1 75.3L143.2 80.8L143.4 77.2L143.6 77.0L143.7 76.4L143.9 80.0L144.1 78.4L144.3 80.5L144.4 75.4L144.6 78.6L144.8 80.4L144.9 77.4L145.1 76.7L145.3 77.2L145.4 75.1L145.6 76.4L145.8 79.4L146.0 77.5L146.1 79.8L146.3 76.7L146.5 77.4L146.6 72.5L146.8 78.3L147.0 79.7L147.2 77.8L147.3 76.7L147.5 78.9L147.7 77.2L147.8 76.3L148.0 75.5L148.2 76.6L148.3 77.0L148.5 73.5L148.7 76.4L148.9 76.4L149.0 77.7L149.2 75.4L149.4 72.7L149.5 76.9L149.7 74.1L149.9 73.1L150.0 75.2L150.2 75.1L150.4 77.4L150.6 73.4L150.7 75.5L150.9 76.8L151.1 78.9L151.2 77.0L151.4 73.8L151.6 72.1L151.8 73.7L151.9 71.5L152.1 75.4L152.3 74.5L152.4 75.0L152.6 73.9L152.8 77.1L152.9 72.0L153.1 72.0L153.3 76.5L153.5 75.9L153.6 72.7L153.8 74.8L154.0 76.5L154.1 70.4L154.3 73.3L154.5 73.6L154.7 69.8L154.8 75.2L155.0 75.2L155.2 73.7L155.3 75.8L155.5 75.8L155.7 74.2L155.8 76.5L156.0 76.2L156.2 74.0L156.4 76.1L156.5 74.9L156.7 75.1L156.9 75.2L157.0 73.5L157.2 75.7L157.4 73.4L157.6 78.8L157.7 75.8L157.9 77.7L158.1 74.3L158.2 72.8L158.4 71.3L158.6 75.0L158.7 72.5L158.9 74.0L159.1 74.4L159.3 74.6L159.4 71.3L159.6 75.1L159.8 71.3L159.9 72.5L160.1 72.7L160.3 73.2L160.5 73.1L160.6 69.0L160.8 75.2L161.0 69.1L161.1 71.9L161.3 72.2L161.5 74.4L161.6 71.1L161.8 70.8L162.0 75.6L162.2 74.4L162.3 72.0L162.5 73.3L162.7 70.0L162.8 75.2L163.0 71.6L163.2 75.5L163.4 69.0L163.5 75.3L163.7 76.7L163.9 73.0L164.0 74.3L164.2 70.4L164.4 74.8L164.5 73.6L164.7 73.0L164.9 71.7L165.1 74.2L165.2 72.0L165.4 73.7L165.6 74.0L165.7 71.9L165.9 71.2L166.1 72.8L166.3 69.1L166.4 73.5L166.6 68.9L166.8 70.9L166.9 72.2L167.1 72.9L167.3 72.4L167.4 72.6L167.6 73.2L167.8 73.5L168.0 72.6L168.1 75.4L168.3 73.3L168.5 76.3L168.6 71.9L168.8 73.7L169.0 74.6L169.2 72.1L169.3 74.0L169.5 78.2L169.7 72.7L169.8 76.8L170.0 72.1L170.2 71.1L170.3 75.6L170.5 74.3L170.7 75.8L170.9 74.6L171.0 72.9L171.2 71.4L171.4 75.3L171.5 70.0L171.7 74.0L171.9 71.1L172.0 70.8L172.2 71.1L172.4 73.3L172.6 72.1L172.7 72.4L172.9 70.9L173.1 69.1L173.2 72.6L173.4 68.8L173.6 70.8L173.8 70.5L173.9 71.0L174.1 69.2L174.3 71.0L174.4 70.3L174.6 72.0L174.8 69.8L174.9 76.5L175.1 70.3L175.3 74.6L175.5 73.8L175.6 76.8L175.8 77.5L176.0 74.0L176.1 75.0L176.3 71.3L176.5 78.5L176.7 72.2L176.8 79.9L177.0 82.5L177.2 85.4L177.3 86.3L177.5 87.6L177.7 83.2L177.8 81.7L178.0 80.1L178.2 82.1L178.4 77.8L178.5 80.6L178.7 77.0L178.9 73.1L179.0 79.3L179.2 80.6L179.4 81.8L179.6 78.0L179.7 77.8L179.9 69.6L180.1 76.8L180.2 71.3L180.4 74.6L180.6 71.9L180.7 69.2L180.9 76.3L181.1 74.0L181.3 76.3L181.4 71.9L181.6 79.4L181.8 75.5L181.9 76.8L182.1 76.9L182.3 70.9L182.5 65.7L182.6 78.7L182.8 70.1L183.0 73.5L183.1 76.4L183.3 73.1L183.5 72.3L183.6 74.5L183.8 66.4L184.0 80.7L184.2 69.0L184.3 74.0L184.5 76.8L184.7 74.7L184.8 72.4L185.0 74.3L185.2 71.5L185.4 72.9L185.5 80.4L185.7 68.2L185.9 69.7L186.0 72.9L186.2 72.8L186.4 82.5L186.5 76.9L186.7 81.8L186.9 80.6L187.1 75.6L187.2 81.4L187.4 75.9L187.6 82.2L187.7 76.9L187.9 78.5L188.1 82.0L188.3 83.5L188.4 76.1L188.6 88.0L188.8 88.3L188.9 88.3L189.1 83.1L189.3 80.9L189.4 83.9L189.6 82.4L189.8 78.6L190.0 70.8L190.1 76.5L190.3 67.4L190.5 69.4L190.6 74.7L190.8 72.3L191.0 73.0L191.2 70.4L191.3 80.4L191.5 69.8L191.7 76.8L191.8 77.6L192.0 76.9L192.2 78.5L192.3 80.1L192.5 81.7L192.7 79.4L192.9 74.5L193.0 74.2L193.2 77.7L193.4 75.8L193.5 78.8L193.7 75.0L193.9 75.5L194.0 78.3L194.2 77.9L194.4 75.6L194.6 77.4L194.7 78.6L194.9 75.8L195.1 78.1L195.2 75.8L195.4 78.4L195.6 79.3L195.8 79.2L195.9 79.8L196.1 80.1L196.3 79.3L196.4 78.2L196.6 78.8L196.8 76.7L196.9 80.6L197.1 77.8L197.3 79.0L197.5 77.1L197.6 78.7L197.8 78.9L198.0 77.0L198.1 77.4L198.3 79.0L198.5 73.3L198.7 75.3L198.8 76.9L199.0 74.2L199.2 77.7L199.3 72.0L199.5 74.9L199.7 75.5L199.8 74.8L200.0 75.5L200.2 73.0L200.4 73.9L200.5 75.2L200.7 76.4L200.9 80.3L201.0 73.6L201.2 78.3L201.4 73.0L201.6 72.3L201.7 74.7L201.9 75.0L202.1 73.2L202.2 73.0L202.4 73.8L202.6 73.8L202.7 73.5L202.9 70.5L203.1 73.8L203.3 71.3L203.4 73.7L203.6 73.0L203.8 73.7L203.9 72.7L204.1 72.5L204.3 73.8L204.5 76.0L204.6 75.9L204.8 71.2L205.0 76.3L205.1 75.4L205.3 72.3L205.5 74.3L205.6 74.9L205.8 77.0L206.0 71.1L206.2 74.4L206.3 71.9L206.5 73.9L206.7 75.4L206.8 74.9L207.0 72.2L207.2 72.2L207.4 74.2L207.5 75.1L207.7 75.5L207.9 72.8L208.0 75.4L208.2 71.3L208.4 72.1L208.5 70.6L208.7 73.1L208.9 74.5L209.1 75.1L209.2 80.9L209.4 74.5L209.6 74.9L209.7 72.7L209.9 74.0L210.1 73.2L210.3 74.4L210.4 73.9L210.6 73.0L210.8 77.0L210.9 75.7L211.1 77.2L211.3 71.9L211.4 74.7L211.6 74.4L211.8 77.8L212.0 75.4L212.1 77.1L212.3 75.5L212.5 75.3L212.6 74.1L212.8 75.8L213.0 72.6L213.2 74.7L213.3 74.9L213.5 74.5L213.7 75.4L213.8 73.3L214.0 75.6L214.2 73.9L214.3 75.7L214.5 77.3L214.7 71.9L214.9 76.3L215.0 71.5L215.2 72.2L215.4 75.1L215.5 71.7L215.7 72.1L215.9 72.3L216.0 73.0L216.2 68.5L216.4 70.3L216.6 70.1L216.7 72.7L216.9 70.7L217.1 72.7L217.2 70.6L217.4 70.3L217.6 71.3L217.8 71.7L217.9 72.9L218.1 70.0L218.3 72.0L218.4 72.7L218.6 74.1L218.8 71.1L218.9 68.6L219.1 74.8L219.3 72.1L219.5 73.3L219.6 78.8L219.8 73.8L220.0 76.7L220.1 71.9L220.3 75.2L220.5 75.2L220.7 73.6L220.8 73.2L221.0 74.7L221.2 73.1L221.3 75.1L221.5 72.8L221.7 72.0L221.8 70.3L222.0 73.0L222.2 73.7L222.4 71.4L222.5 72.4L222.7 70.9L222.9 72.8L223.0 74.4L223.2 73.1L223.4 73.8L223.6 72.3L223.7 72.4L223.9 73.1L224.1 74.7L224.2 72.3L224.4 75.9L224.6 71.3L224.7 72.6L224.9 75.3L225.1 70.8L225.3 72.9L225.4 74.2L225.6 72.5L225.8 72.5L225.9 78.1L226.1 73.2L226.3 75.5L226.5 74.7L226.6 74.6L226.8 78.6L227.0 78.0L227.1 79.1L227.3 79.0L227.5 77.1L227.6 79.0L227.8 78.0L228.0 76.1L228.2 77.3L228.3 76.0L228.5 78.9L228.7 76.5L228.8 75.6L229.0 74.2L229.2 75.4L229.4 73.0L229.5 75.0L229.7 74.3L229.9 73.9L230.0 72.6L230.2 73.9L230.4 71.8L230.5 73.9L230.7 73.3L230.9 73.7L231.1 73.3L231.2 72.7L231.4 73.7L231.6 74.5L231.7 71.7L231.9 72.6L232.1 71.0L232.3 74.3L232.4 77.4L232.6 70.0L232.8 74.4L232.9 76.1L233.1 73.5L233.3 74.7L233.4 69.4L233.6 74.3L233.8 77.8L234.0 73.8L234.1 77.8L234.3 72.4L234.5 78.9L234.6 78.9L234.8 73.6L235.0 74.6L235.2 75.0L235.3 77.6L235.5 71.7L235.7 71.3L235.8 78.4L236.0 71.5L236.2 77.3L236.3 70.0L236.5 76.4L236.7 76.8L236.9 74.6L237.0 76.1L237.2 77.5L237.4 74.5L237.5 77.3L237.7 78.1L237.9 72.3L238.0 78.1L238.2 77.4L238.4 75.8L238.6 79.2L238.7 78.4L238.9 77.4L239.1 77.1L239.2 75.7L239.4 74.5L239.6 76.4L239.8 72.5L239.9 73.9L240.1 76.7L240.3 72.2L240.4 74.7L240.6 70.6L240.8 73.0L240.9 73.8L241.1 76.4L241.3 73.8L241.5 75.8L241.6 73.1L241.8 75.7L242.0 77.2L242.1 74.1L242.3 75.8L242.5 77.9L242.7 73.7L242.8 77.0L243.0 76.0L243.2 75.3L243.3 77.1L243.5 76.3L243.7 76.3L243.8 73.1L244.0 74.6L244.2 76.8L244.4 72.9L244.5 77.4L244.7 76.0L244.9 76.1L245.0 77.0L245.2 73.4L245.4 77.4L245.6 79.2L245.7 75.8L245.9 80.2L246.1 80.0L246.2 81.7L246.4 75.6L246.6 77.4L246.7 77.4L246.9 77.5L247.1 75.0L247.3 78.0L247.4 75.3L247.6 78.2L247.8 75.1L247.9 72.3L248.1 74.0L248.3 76.5L248.5 72.6L248.6 75.0L248.8 76.4L249.0 74.0L249.1 76.7L249.3 78.2L249.5 77.0L249.6 70.8L249.8 78.3L250.0 73.7L250.2 74.3L250.3 73.9L250.5 76.6L250.7 74.6L250.8 74.9L251.0 74.8L251.2 78.1L251.4 77.8L251.5 73.9L251.7 75.2L251.9 76.4L252.0 77.6L252.2 75.1L252.4 76.4L252.5 74.9L252.7 79.9L252.9 77.0L253.1 77.1L253.2 79.6L253.4 76.9L253.6 77.5L253.7 78.1L253.9 76.8L254.1 80.1L254.3 76.7L254.4 76.5L254.6 77.7L254.8 76.1L254.9 80.0L255.1 80.0L255.3 76.9L255.4 76.6L255.6 72.8L255.8 76.4L256.0 77.4L256.1 73.2L256.3 76.2L256.5 75.6L256.6 69.5L256.8 74.5L257.0 71.9L257.1 73.6L257.3 71.1L257.5 74.7L257.7 72.5L257.8 78.1L258.0 78.0L258.2 73.1L258.3 73.5L258.5 74.2L258.7 74.4L258.9 74.5L259.0 76.5L259.2 71.9L259.4 74.6L259.5 73.8L259.7 73.0L259.9 71.8L260.0 74.0L260.2 73.8L260.4 78.1L260.6 74.9L260.7 71.9L260.9 76.9L261.1 75.8L261.2 73.9L261.4 73.3L261.6 74.0L261.8 78.2L261.9 73.7L262.1 77.6L262.3 75.5L262.4 72.8L262.6 74.0L262.8 71.0L262.9 69.2L263.1 71.7L263.3 71.7L263.5 75.0L263.6 73.7L263.8 75.1L264.0 73.5L264.1 75.1L264.3 74.7L264.5 73.4L264.7 74.6L264.8 75.0L265.0 74.4L265.2 70.8L265.3 72.3L265.5 71.9L265.7 72.9L265.8 75.6L266.0 73.8L266.2 78.0L266.4 69.7L266.5 73.8L266.7 76.0L266.9 76.0L267.0 73.4L267.2 78.9L267.4 75.6L267.6 73.4L267.7 75.5L267.9 75.6L268.1 73.3L268.2 78.0L268.4 74.5L268.6 76.2L268.7 76.7L268.9 74.1L269.1 77.3L269.3 69.9L269.4 76.1L269.6 69.9L269.8 76.4L269.9 71.9L270.1 75.8L270.3 74.5L270.5 71.5L270.6 71.2L270.8 75.2L271.0 70.5L271.1 75.0L271.3 71.9L271.5 71.5L271.6 71.0L271.8 74.8L272.0 69.4L272.2 70.8L272.3 72.8L272.5 74.5L272.7 76.4L272.8 74.6L273.0 72.1L273.2 73.7L273.4 74.2L273.5 72.0L273.7 69.0L273.9 72.7L274.0 72.4L274.2 69.3L274.4 71.7L274.5 72.3L274.7 73.5L274.9 74.0L275.1 74.1L275.2 73.1L275.4 73.5L275.6 72.4L275.7 71.8L275.9 72.5L276.1 71.9L276.3 75.1L276.4 75.9L276.6 73.1L276.8 74.3L276.9 73.3L277.1 74.5L277.3 76.6L277.4 75.7L277.6 73.0L277.8 72.8L278.0 73.9L278.1 72.4L278.3 73.3L278.5 73.1L278.6 71.0L278.8 68.5L279.0 74.6L279.1 69.5L279.3 69.1L279.5 68.0L279.7 71.4L279.8 68.6L280.0 70.8L280.2 69.5L280.3 70.5L280.5 69.3L280.7 70.5L280.9 70.1L281.0 67.9L281.2 71.4L281.4 71.4L281.5 69.2L281.7 70.1L281.9 69.7L282.0 74.5L282.2 70.5L282.4 72.9L282.6 71.2L282.7 76.9L282.9 74.5L283.1 76.0L283.2 76.9L283.4 73.9L283.6 72.0L283.8 75.7L283.9 74.6L284.1 71.9L284.3 72.5L284.4 71.2L284.6 74.5L284.8 73.2L284.9 72.5L285.1 75.4L285.3 74.5L285.5 72.6L285.6 72.5L285.8 76.9L286.0 77.4L286.1 75.7L286.3 75.0L286.5 73.1L286.7 73.2L286.8 75.1L287.0 75.5L287.2 74.3L287.3 78.1L287.5 76.0L287.7 77.2L287.8 70.1L288.0 76.4L288.2 76.5L288.4 77.3L288.5 75.9L288.7 77.7L288.9 75.2L289.0 75.9L289.2 74.0L289.4 76.9L289.6 77.5L289.7 80.2L289.9 78.1L290.1 75.8L290.2 75.3L290.4 73.4L290.6 76.2L290.7 71.4L290.9 72.9L291.1 72.9L291.3 77.3L291.4 75.4L291.6 73.7L291.8 74.3L291.9 76.2L292.1 75.2L292.3 77.5L292.5 76.7L292.6 76.0L292.8 72.1L293.0 73.9L293.1 73.7L293.3 74.2L293.5 72.8L293.6 73.0L293.8 75.5L294.0 70.7L294.2 75.5L294.3 75.0L294.5 71.7L294.7 73.8L294.8 75.5L295.0 74.7L295.2 78.7L295.4 78.0L295.5 80.4L295.7 72.2L295.9 79.4L296.0 73.8L296.2 77.8L296.4 77.4L296.5 75.6L296.7 74.5L296.9 73.5L297.1 70.9L297.2 73.8L297.4 72.0L297.6 75.7L297.7 72.4L297.9 74.5L298.1 74.6" fill="none" stroke="#E69F00" stroke-width="1.45" stroke-linejoin="round" stroke-linecap="butt"/>
<path d="M52.5 62.5L52.7 62.1L52.8 61.6L53.0 61.8L53.2 61.5L53.4 61.9L53.5 62.4L53.7 62.5L53.9 61.2L54.0 61.9L54.2 61.3L54.4 60.6L54.5 61.0L54.7 60.3L54.9 59.9L55.1 60.1L55.2 59.6L55.4 60.0L55.6 60.7L55.7 60.6L55.9 60.9L56.1 61.3L56.3 61.6L56.4 60.2L56.6 60.7L56.8 60.8L56.9 61.2L57.1 61.1L57.3 61.2L57.4 61.4L57.6 61.8L57.8 62.2L58.0 62.1L58.1 61.7L58.3 60.8L58.5 60.8L58.6 60.6L58.8 61.0L59.0 61.5L59.2 62.3L59.3 62.2L59.5 63.1L59.7 63.2L59.8 62.6L60.0 63.1L60.2 63.2L60.3 64.1L60.5 65.1L60.7 65.5L60.9 65.1L61.0 64.7L61.2 64.5L61.4 64.9L61.5 65.4L61.7 66.0L61.9 66.4L62.1 67.1L62.2 67.2L62.4 68.0L62.6 68.3L62.7 69.1L62.9 69.2L63.1 70.0L63.2 68.9L63.4 68.6L63.6 67.8L63.8 67.1L63.9 66.4L64.1 64.9L64.3 64.3L64.4 60.7L64.6 58.4L64.8 56.0L64.9 54.6L65.1 54.4L65.3 53.7L65.5 53.4L65.6 53.2L65.8 53.4L66.0 53.8L66.1 54.2L66.3 54.8L66.5 55.8L66.7 58.3L66.8 59.5L67.0 60.9L67.2 62.3L67.3 63.7L67.5 63.2L67.7 63.9L67.8 64.1L68.0 64.5L68.2 64.2L68.4 65.4L68.5 65.8L68.7 66.4L68.9 66.4L69.0 66.4L69.2 66.6L69.4 67.0L69.6 66.3L69.7 66.8L69.9 67.7L70.1 67.9L70.2 68.0L70.4 67.9L70.6 68.0L70.7 68.2L70.9 67.3L71.1 67.5L71.3 67.8L71.4 67.9L71.6 68.0L71.8 67.4L71.9 67.5L72.1 67.3L72.3 69.0L72.5 68.4L72.6 67.8L72.8 67.1L73.0 67.7L73.1 68.7L73.3 68.2L73.5 68.5L73.6 69.2L73.8 69.1L74.0 68.2L74.2 67.8L74.3 67.7L74.5 68.5L74.7 67.3L74.8 68.3L75.0 68.3L75.2 69.0L75.4 68.1L75.5 68.0L75.7 67.8L75.9 68.0L76.0 68.2L76.2 68.2L76.4 69.0L76.5 68.2L76.7 67.9L76.9 68.2L77.1 68.3L77.2 68.1L77.4 67.5L77.6 67.7L77.7 68.0L77.9 68.3L78.1 68.9L78.3 68.9L78.4 68.5L78.6 68.5L78.8 68.3L78.9 68.0L79.1 67.9L79.3 67.9L79.4 67.8L79.6 67.9L79.8 68.1L80.0 67.9L80.1 68.8L80.3 68.0L80.5 68.7L80.6 68.1L80.8 68.1L81.0 67.7L81.2 67.9L81.3 68.5L81.5 67.8L81.7 67.9L81.8 68.0L82.0 68.0L82.2 67.7L82.3 67.5L82.5 67.7L82.7 68.6L82.9 68.6L83.0 68.3L83.2 67.4L83.4 67.6L83.5 67.9L83.7 67.5L83.9 67.9L84.1 68.0L84.2 68.0L84.4 68.7L84.6 68.0L84.7 67.9L84.9 68.1L85.1 68.6L85.2 68.3L85.4 67.6L85.6 68.1L85.8 68.6L85.9 68.2L86.1 68.8L86.3 69.5L86.4 69.0L86.6 68.8L86.8 68.6L86.9 68.6L87.1 68.2L87.3 68.2L87.5 68.4L87.6 68.4L87.8 68.0L88.0 67.6L88.1 67.4L88.3 67.4L88.5 69.2L88.7 68.9L88.8 68.4L89.0 67.7L89.2 68.2L89.3 66.9L89.5 66.6L89.7 66.9L89.8 66.5L90.0 66.5L90.2 66.5L90.4 65.9L90.5 65.9L90.7 66.3L90.9 64.1L91.0 64.3L91.2 65.4L91.4 63.6L91.6 61.5L91.7 61.0L91.9 59.3L92.1 61.1L92.2 62.4L92.4 61.5L92.6 61.5L92.7 61.8L92.9 61.1L93.1 59.7L93.3 60.4L93.4 59.7L93.6 59.5L93.8 59.4L93.9 59.3L94.1 59.1L94.3 58.3L94.5 58.1L94.6 59.1L94.8 58.5L95.0 59.7L95.1 59.6L95.3 59.9L95.5 59.7L95.6 60.1L95.8 60.2L96.0 60.9L96.2 60.9L96.3 61.3L96.5 60.9L96.7 62.1L96.8 61.9L97.0 62.3L97.2 62.7L97.4 63.3L97.5 63.3L97.7 64.3L97.9 64.8L98.0 64.2L98.2 65.1L98.4 64.2L98.5 64.7L98.7 64.8L98.9 65.0L99.1 65.1L99.2 65.5L99.4 65.9L99.6 66.1L99.7 65.7L99.9 65.6L100.1 65.5L100.3 66.1L100.4 66.7L100.6 67.8L100.8 67.4L100.9 67.0L101.1 67.5L101.3 67.1L101.4 66.7L101.6 67.1L101.8 66.8L102.0 67.1L102.1 68.2L102.3 68.2L102.5 68.2L102.6 67.7L102.8 68.2L103.0 68.2L103.2 68.5L103.3 68.2L103.5 68.0L103.7 67.5L103.8 67.4L104.0 67.6L104.2 67.7L104.3 67.8L104.5 67.9L104.7 67.3L104.9 68.9L105.0 68.7L105.2 68.3L105.4 67.7L105.5 68.5L105.7 68.3L105.9 67.9L106.1 68.3L106.2 69.2L106.4 68.9L106.6 69.2L106.7 68.4L106.9 68.8L107.1 67.7L107.2 67.9L107.4 68.5L107.6 68.6L107.8 69.0L107.9 68.5L108.1 67.6L108.3 68.1L108.4 67.7L108.6 68.5L108.8 68.2L108.9 67.1L109.1 68.4L109.3 67.7L109.5 67.4L109.6 68.8L109.8 69.3L110.0 69.3L110.1 68.3L110.3 68.5L110.5 68.5L110.7 68.0L110.8 68.1L111.0 68.1L111.2 68.3L111.3 67.8L111.5 68.4L111.7 67.5L111.8 68.1L112.0 68.6L112.2 68.1L112.4 68.0L112.5 69.1L112.7 68.6L112.9 69.1L113.0 69.1L113.2 68.3L113.4 68.7L113.6 68.3L113.7 68.5L113.9 67.4L114.1 67.9L114.2 68.7L114.4 69.1L114.6 69.1L114.7 68.7L114.9 68.5L115.1 67.9L115.3 68.0L115.4 68.1L115.6 68.0L115.8 68.2L115.9 68.1L116.1 67.8L116.3 67.6L116.5 68.3L116.6 69.2L116.8 69.2L117.0 68.6L117.1 69.7L117.3 69.3L117.5 68.5L117.6 68.7L117.8 69.1L118.0 67.8L118.2 67.3L118.3 67.9L118.5 67.4L118.7 67.2L118.8 68.3L119.0 66.9L119.2 68.1L119.4 68.3L119.5 68.9L119.7 68.6L119.9 69.1L120.0 68.7L120.2 67.9L120.4 68.0L120.5 68.3L120.7 67.5L120.9 68.4L121.1 67.8L121.2 68.2L121.4 68.2L121.6 68.2L121.7 68.2L121.9 68.3L122.1 68.7L122.3 68.8L122.4 68.3L122.6 68.4L122.8 69.0L122.9 69.0L123.1 69.0L123.3 68.7L123.4 68.4L123.6 68.3L123.8 68.7L124.0 68.5L124.1 69.1L124.3 70.3L124.5 69.3L124.6 69.6L124.8 69.4L125.0 69.3L125.2 68.3L125.3 68.7L125.5 68.1L125.7 68.1L125.8 68.5L126.0 68.8L126.2 67.8L126.3 67.3L126.5 66.8L126.7 66.0L126.9 66.3L127.0 66.5L127.2 66.7L127.4 66.6L127.5 66.8L127.7 67.1L127.9 65.7L128.0 67.2L128.2 66.7L128.4 66.4L128.6 66.4L128.7 67.0L128.9 66.9L129.1 67.0L129.2 67.3L129.4 67.0L129.6 67.0L129.8 67.1L129.9 66.5L130.1 67.1L130.3 66.6L130.4 62.8L130.6 57.8L130.8 55.5L130.9 54.1L131.1 55.6L131.3 20.9L131.5 42.9L131.6 41.7L131.8 48.6L132.0 44.0L132.1 46.5L132.3 44.9L132.5 37.3L132.7 37.1L132.8 46.4L133.0 43.5L133.2 41.5L133.3 37.6L133.5 28.4L133.7 24.5L133.8 20.2L134.0 6.1L134.2 17.1L134.4 32.9L134.5 29.3L134.7 30.4L134.9 23.7L135.0 28.9L135.2 36.2L135.4 39.0L135.6 44.0L135.7 38.4L135.9 42.1L136.1 40.6L136.2 36.2L136.4 32.1L136.6 28.1L136.7 31.4L136.9 28.9L137.1 36.7L137.3 40.0L137.4 41.0L137.6 46.2L137.8 44.6L137.9 47.4L138.1 47.6L138.3 48.7L138.5 47.1L138.6 51.1L138.8 46.0L139.0 53.1L139.1 45.1L139.3 42.9L139.5 44.6L139.6 49.9L139.8 48.4L140.0 51.5L140.2 52.1L140.3 51.2L140.5 53.5L140.7 50.3L140.8 52.5L141.0 51.4L141.2 54.9L141.4 55.4L141.5 54.2L141.7 55.7L141.9 56.9L142.0 56.3L142.2 57.7L142.4 57.6L142.5 61.6L142.7 60.6L142.9 60.3L143.1 62.2L143.2 63.2L143.4 61.8L143.6 63.0L143.7 63.5L143.9 62.7L144.1 63.3L144.3 63.1L144.4 64.4L144.6 64.1L144.8 63.4L144.9 64.0L145.1 66.6L145.3 65.3L145.4 65.3L145.6 66.2L145.8 64.6L146.0 66.7L146.1 64.5L146.3 65.8L146.5 64.5L146.6 65.4L146.8 66.9L147.0 65.9L147.2 66.0L147.3 65.5L147.5 64.9L147.7 66.3L147.8 65.8L148.0 65.3L148.2 66.0L148.3 67.0L148.5 67.5L148.7 66.1L148.9 65.5L149.0 66.6L149.2 67.7L149.4 65.8L149.5 67.5L149.7 66.7L149.9 67.3L150.0 68.4L150.2 67.3L150.4 67.0L150.6 65.4L150.7 63.8L150.9 65.3L151.1 64.9L151.2 64.7L151.4 66.0L151.6 67.0L151.8 65.3L151.9 66.2L152.1 66.4L152.3 66.7L152.4 66.7L152.6 67.2L152.8 66.2L152.9 65.2L153.1 66.2L153.3 67.7L153.5 67.1L153.6 68.2L153.8 68.0L154.0 66.2L154.1 64.3L154.3 65.1L154.5 66.9L154.7 66.1L154.8 68.4L155.0 68.2L155.2 66.1L155.3 65.7L155.5 67.5L155.7 68.6L155.8 66.9L156.0 66.9L156.2 67.4L156.4 66.7L156.5 67.3L156.7 68.8L156.9 67.1L157.0 67.6L157.2 68.1L157.4 68.7L157.6 66.7L157.7 68.0L157.9 66.9L158.1 67.1L158.2 66.1L158.4 66.9L158.6 67.5L158.7 69.0L158.9 69.0L159.1 67.3L159.3 64.4L159.4 66.9L159.6 67.9L159.8 67.2L159.9 66.7L160.1 67.5L160.3 67.2L160.5 68.6L160.6 68.1L160.8 66.8L161.0 65.5L161.1 66.5L161.3 67.1L161.5 66.7L161.6 66.0L161.8 66.1L162.0 67.3L162.2 67.0L162.3 66.2L162.5 67.4L162.7 68.5L162.8 67.4L163.0 67.0L163.2 66.3L163.4 66.7L163.5 67.6L163.7 67.9L163.9 68.5L164.0 68.8L164.2 68.6L164.4 68.4L164.5 66.9L164.7 68.3L164.9 67.9L165.1 68.2L165.2 66.5L165.4 66.7L165.6 67.4L165.7 66.7L165.9 67.0L166.1 67.7L166.3 66.2L166.4 66.2L166.6 65.4L166.8 65.4L166.9 65.8L167.1 66.6L167.3 68.0L167.4 67.2L167.6 67.3L167.8 66.8L168.0 67.2L168.1 68.0L168.3 68.7L168.5 67.5L168.6 66.4L168.8 67.2L169.0 67.0L169.2 66.0L169.3 67.5L169.5 67.2L169.7 68.7L169.8 67.1L170.0 67.1L170.2 67.7L170.3 69.1L170.5 68.5L170.7 67.1L170.9 67.6L171.0 67.9L171.2 67.2L171.4 68.5L171.5 68.0L171.7 67.2L171.9 68.1L172.0 68.5L172.2 67.8L172.4 67.8L172.6 67.9L172.7 67.5L172.9 67.3L173.1 68.3L173.2 68.5L173.4 67.6L173.6 66.6L173.8 65.9L173.9 67.5L174.1 66.5L174.3 66.4L174.4 67.0L174.6 66.8L174.8 66.5L174.9 65.4L175.1 67.4L175.3 66.9L175.5 67.4L175.6 67.6L175.8 66.6L176.0 66.3L176.1 67.5L176.3 66.0L176.5 63.9L176.7 63.5L176.8 60.5L177.0 59.0L177.2 58.6L177.3 59.8L177.5 59.2L177.7 62.0L177.8 63.4L178.0 61.9L178.2 63.2L178.4 63.8L178.5 64.9L178.7 63.3L178.9 63.2L179.0 63.0L179.2 63.2L179.4 63.5L179.6 64.3L179.7 64.6L179.9 63.8L180.1 63.6L180.2 62.3L180.4 63.6L180.6 64.1L180.7 64.8L180.9 63.1L181.1 64.5L181.3 63.5L181.4 62.4L181.6 63.2L181.8 62.9L181.9 65.2L182.1 64.9L182.3 65.8L182.5 64.7L182.6 64.3L182.8 64.7L183.0 63.5L183.1 63.4L183.3 64.1L183.5 64.5L183.6 65.5L183.8 64.8L184.0 62.5L184.2 63.8L184.3 63.5L184.5 64.1L184.7 63.3L184.8 63.1L185.0 63.7L185.2 65.2L185.4 64.9L185.5 63.3L185.7 63.7L185.9 63.1L186.0 63.8L186.2 65.3L186.4 63.5L186.5 63.6L186.7 64.1L186.9 64.1L187.1 63.6L187.2 64.1L187.4 63.5L187.6 63.7L187.7 65.6L187.9 64.7L188.1 64.0L188.3 62.7L188.4 61.7L188.6 58.9L188.8 58.6L188.9 57.9L189.1 57.5L189.3 58.9L189.4 59.7L189.6 59.1L189.8 60.1L190.0 61.4L190.1 61.8L190.3 61.8L190.5 62.3L190.6 62.0L190.8 63.2L191.0 63.4L191.2 63.5L191.3 63.5L191.5 65.2L191.7 64.6L191.8 65.3L192.0 63.4L192.2 62.4L192.3 61.8L192.5 62.3L192.7 63.7L192.9 63.3L193.0 64.1L193.2 63.9L193.4 65.1L193.5 65.5L193.7 64.9L193.9 63.6L194.0 64.5L194.2 63.0L194.4 61.9L194.6 64.7L194.7 65.1L194.9 66.1L195.1 65.9L195.2 66.2L195.4 65.9L195.6 65.0L195.8 64.5L195.9 64.9L196.1 65.3L196.3 65.5L196.4 65.5L196.6 65.2L196.8 65.6L196.9 65.1L197.1 66.8L197.3 65.7L197.5 64.4L197.6 65.1L197.8 66.6L198.0 65.4L198.1 66.1L198.3 66.5L198.5 67.7L198.7 66.5L198.8 66.1L199.0 65.2L199.2 65.3L199.3 65.8L199.5 67.8L199.7 68.1L199.8 67.2L200.0 66.4L200.2 67.4L200.4 67.6L200.5 66.8L200.7 68.4L200.9 65.4L201.0 68.2L201.2 67.2L201.4 67.6L201.6 69.2L201.7 68.1L201.9 68.7L202.1 67.3L202.2 67.3L202.4 67.0L202.6 66.6L202.7 67.4L202.9 66.6L203.1 66.0L203.3 66.3L203.4 65.8L203.6 67.1L203.8 66.6L203.9 66.8L204.1 67.9L204.3 67.7L204.5 68.0L204.6 68.1L204.8 67.7L205.0 66.6L205.1 67.2L205.3 67.1L205.5 68.4L205.6 67.7L205.8 66.5L206.0 66.1L206.2 66.2L206.3 67.1L206.5 67.9L206.7 67.5L206.8 68.4L207.0 68.7L207.2 67.0L207.4 67.7L207.5 65.8L207.7 67.5L207.9 66.8L208.0 67.8L208.2 67.1L208.4 67.8L208.5 67.2L208.7 67.1L208.9 67.2L209.1 66.5L209.2 64.9L209.4 66.4L209.6 65.8L209.7 66.1L209.9 66.3L210.1 64.6L210.3 67.3L210.4 67.4L210.6 68.4L210.8 67.6L210.9 67.2L211.1 63.6L211.3 64.6L211.4 64.0L211.6 64.0L211.8 65.5L212.0 65.4L212.1 64.4L212.3 65.1L212.5 65.5L212.6 65.4L212.8 67.1L213.0 67.3L213.2 66.5L213.3 65.9L213.5 66.8L213.7 66.8L213.8 66.7L214.0 66.6L214.2 65.9L214.3 66.0L214.5 66.0L214.7 67.3L214.9 67.7L215.0 66.8L215.2 67.9L215.4 66.9L215.5 67.2L215.7 67.5L215.9 66.4L216.0 67.0L216.2 67.4L216.4 67.5L216.6 66.9L216.7 64.5L216.9 67.2L217.1 66.9L217.2 66.9L217.4 66.0L217.6 66.6L217.8 68.6L217.9 66.5L218.1 67.4L218.3 67.1L218.4 68.0L218.6 68.2L218.8 67.8L218.9 66.6L219.1 65.9L219.3 66.8L219.5 66.4L219.6 66.7L219.8 66.7L220.0 66.6L220.1 66.2L220.3 67.0L220.5 67.0L220.7 66.7L220.8 66.7L221.0 67.4L221.2 65.7L221.3 66.7L221.5 66.2L221.7 66.4L221.8 65.6L222.0 68.0L222.2 65.8L222.4 66.5L222.5 67.7L222.7 67.2L222.9 65.3L223.0 65.7L223.2 67.4L223.4 67.6L223.6 66.2L223.7 67.8L223.9 67.5L224.1 67.5L224.2 65.6L224.4 66.6L224.6 65.7L224.7 66.9L224.9 67.6L225.1 66.5L225.3 66.2L225.4 68.0L225.6 66.9L225.8 66.4L225.9 67.1L226.1 66.8L226.3 66.6L226.5 67.1L226.6 67.4L226.8 66.9L227.0 67.4L227.1 66.5L227.3 66.5L227.5 68.2L227.6 66.5L227.8 67.1L228.0 67.7L228.2 66.5L228.3 65.0L228.5 64.8L228.7 66.8L228.8 65.7L229.0 65.9L229.2 66.3L229.4 66.9L229.5 66.7L229.7 65.5L229.9 65.5L230.0 66.3L230.2 66.9L230.4 67.0L230.5 66.2L230.7 64.8L230.9 66.4L231.1 66.4L231.2 66.7L231.4 67.1L231.6 66.4L231.7 65.9L231.9 67.2L232.1 67.5L232.3 65.9L232.4 65.8L232.6 65.6L232.8 66.3L232.9 66.5L233.1 65.9L233.3 66.4L233.4 67.1L233.6 66.6L233.8 65.6L234.0 66.6L234.1 65.5L234.3 65.2L234.5 66.2L234.6 66.1L234.8 66.0L235.0 65.5L235.2 65.2L235.3 66.5L235.5 67.2L235.7 65.7L235.8 65.7L236.0 65.4L236.2 65.3L236.3 64.3L236.5 66.0L236.7 65.0L236.9 66.0L237.0 65.2L237.2 64.4L237.4 66.1L237.5 65.5L237.7 65.7L237.9 65.9L238.0 65.6L238.2 66.4L238.4 66.7L238.6 65.5L238.7 64.8L238.9 65.5L239.1 66.6L239.2 64.1L239.4 63.9L239.6 64.3L239.8 65.6L239.9 65.8L240.1 65.3L240.3 66.0L240.4 64.3L240.6 64.6L240.8 64.5L240.9 65.6L241.1 66.0L241.3 66.1L241.5 65.3L241.6 65.3L241.8 65.3L242.0 64.9L242.1 64.7L242.3 63.6L242.5 64.4L242.7 65.4L242.8 65.2L243.0 64.0L243.2 65.0L243.3 65.0L243.5 65.4L243.7 65.0L243.8 64.9L244.0 65.8L244.2 65.7L244.4 64.9L244.5 64.3L244.7 64.2L244.9 64.2L245.0 65.2L245.2 65.7L245.4 65.0L245.6 66.3L245.7 66.1L245.9 65.5L246.1 65.7L246.2 64.2L246.4 67.4L246.6 66.3L246.7 66.7L246.9 66.7L247.1 66.6L247.3 67.0L247.4 65.5L247.6 66.3L247.8 66.2L247.9 67.3L248.1 67.2L248.3 67.1L248.5 67.0L248.6 67.3L248.8 66.8L249.0 65.6L249.1 66.2L249.3 66.6L249.5 67.0L249.6 64.9L249.8 64.6L250.0 65.3L250.2 65.5L250.3 66.7L250.5 66.9L250.7 66.8L250.8 66.8L251.0 67.5L251.2 67.3L251.4 67.1L251.5 66.8L251.7 68.6L251.9 67.8L252.0 66.5L252.2 67.3L252.4 67.1L252.5 68.3L252.7 65.8L252.9 68.1L253.1 68.2L253.2 66.0L253.4 66.0L253.6 67.2L253.7 67.3L253.9 67.5L254.1 65.6L254.3 66.2L254.4 67.8L254.6 67.6L254.8 68.5L254.9 65.6L255.1 65.6L255.3 66.8L255.4 68.4L255.6 68.7L255.8 68.3L256.0 67.4L256.1 67.3L256.3 67.9L256.5 68.6L256.6 67.6L256.8 67.1L257.0 65.5L257.1 66.9L257.3 66.2L257.5 67.9L257.7 68.3L257.8 67.3L258.0 67.4L258.2 68.7L258.3 68.6L258.5 68.2L258.7 68.2L258.9 67.4L259.0 67.5L259.2 67.5L259.4 66.4L259.5 66.7L259.7 66.9L259.9 67.1L260.0 67.2L260.2 66.8L260.4 67.3L260.6 66.5L260.7 65.7L260.9 65.5L261.1 66.7L261.2 68.0L261.4 67.8L261.6 67.3L261.8 66.5L261.9 66.8L262.1 67.1L262.3 65.8L262.4 66.8L262.6 66.0L262.8 65.7L262.9 67.1L263.1 66.7L263.3 67.0L263.5 67.5L263.6 68.4L263.8 68.6L264.0 67.2L264.1 67.1L264.3 66.5L264.5 67.2L264.7 67.0L264.8 66.8L265.0 67.6L265.2 68.1L265.3 66.8L265.5 66.4L265.7 67.0L265.8 66.7L266.0 66.0L266.2 64.8L266.4 66.3L266.5 65.9L266.7 64.6L266.9 65.5L267.0 64.9L267.2 66.6L267.4 66.0L267.6 66.3L267.7 67.8L267.9 66.6L268.1 65.9L268.2 65.4L268.4 65.2L268.6 66.0L268.7 66.9L268.9 67.2L269.1 67.0L269.3 66.6L269.4 67.1L269.6 67.0L269.8 66.3L269.9 66.4L270.1 65.0L270.3 64.5L270.5 66.6L270.6 67.2L270.8 68.1L271.0 68.5L271.1 67.4L271.3 68.0L271.5 68.4L271.6 68.0L271.8 67.1L272.0 67.4L272.2 67.6L272.3 66.8L272.5 66.8L272.7 66.8L272.8 66.4L273.0 67.7L273.2 67.4L273.4 67.9L273.5 67.0L273.7 66.7L273.9 67.8L274.0 66.7L274.2 67.9L274.4 66.8L274.5 67.0L274.7 67.8L274.9 68.4L275.1 68.1L275.2 67.8L275.4 68.1L275.6 67.3L275.7 68.3L275.9 67.8L276.1 67.6L276.3 68.8L276.4 67.8L276.6 68.5L276.8 69.7L276.9 68.9L277.1 68.2L277.3 67.1L277.4 67.5L277.6 66.3L277.8 65.7L278.0 65.7L278.1 65.5L278.3 66.1L278.5 67.0L278.6 66.6L278.8 66.2L279.0 66.5L279.1 67.0L279.3 68.2L279.5 67.1L279.7 66.9L279.8 67.7L280.0 67.4L280.2 66.7L280.3 66.8L280.5 66.2L280.7 65.8L280.9 67.2L281.0 67.0L281.2 66.2L281.4 65.5L281.5 64.8L281.7 66.7L281.9 66.3L282.0 65.5L282.2 64.6L282.4 63.8L282.6 65.2L282.7 65.5L282.9 66.0L283.1 64.9L283.2 65.8L283.4 64.5L283.6 63.9L283.8 63.9L283.9 65.7L284.1 65.5L284.3 64.3L284.4 65.3L284.6 64.9L284.8 64.5L284.9 63.6L285.1 63.6L285.3 63.5L285.5 64.0L285.6 63.8L285.8 63.8L286.0 63.2L286.1 63.5L286.3 62.7L286.5 64.2L286.7 62.9L286.8 63.2L287.0 62.4L287.2 62.7L287.3 62.2L287.5 61.6L287.7 62.8L287.8 63.0L288.0 63.4L288.2 63.3L288.4 64.6L288.5 64.3L288.7 64.2L288.9 64.6L289.0 64.5L289.2 65.4L289.4 63.8L289.6 63.7L289.7 62.7L289.9 64.2L290.1 65.2L290.2 64.7L290.4 65.9L290.6 65.2L290.7 65.6L290.9 65.5L291.1 65.2L291.3 65.2L291.4 63.9L291.6 64.2L291.8 65.6L291.9 64.8L292.1 66.0L292.3 65.6L292.5 66.3L292.6 66.4L292.8 64.9L293.0 65.5L293.1 65.8L293.3 65.9L293.5 65.8L293.6 64.6L293.8 65.7L294.0 66.4L294.2 65.4L294.3 66.5L294.5 66.1L294.7 64.9L294.8 65.1L295.0 65.5L295.2 65.9L295.4 66.2L295.5 65.3L295.7 65.7L295.9 65.0L296.0 64.9L296.2 66.1L296.4 67.0L296.5 66.5L296.7 68.2L296.9 68.2L297.1 68.3L297.2 69.0L297.4 69.5L297.6 69.0L297.7 70.4L297.9 70.4L298.1 70.2" fill="none" stroke="#56B4E9" stroke-width="1.45" stroke-linejoin="round" stroke-linecap="butt"/>
</g>
<line x1="40.3" y1="0.0" x2="40.3" y2="126.2" stroke="#5c5c5c" stroke-width="1.15"/>
<line x1="39.7" y1="125.6" x2="310.6" y2="125.6" stroke="#5c5c5c" stroke-width="1.15"/>
<line x1="52.5" y1="125.6" x2="52.5" y2="122.4" stroke="#555" stroke-width="0.9"/>
<text x="52.5" y="137.0" font-size="10.0" text-anchor="middle" fill="#1c1c1c" textLength="29.2" lengthAdjust="spacingAndGlyphs" >01 May</text>
<line x1="85.2" y1="125.6" x2="85.2" y2="122.4" stroke="#555" stroke-width="0.9"/>
<text x="85.2" y="137.0" font-size="10.0" text-anchor="middle" fill="#1c1c1c" textLength="29.2" lengthAdjust="spacingAndGlyphs" >05 May</text>
<line x1="118.0" y1="125.6" x2="118.0" y2="122.4" stroke="#555" stroke-width="0.9"/>
<text x="118.0" y="137.0" font-size="10.0" text-anchor="middle" fill="#1c1c1c" textLength="29.2" lengthAdjust="spacingAndGlyphs" >09 May</text>
<line x1="150.7" y1="125.6" x2="150.7" y2="122.4" stroke="#555" stroke-width="0.9"/>
<text x="150.7" y="137.0" font-size="10.0" text-anchor="middle" fill="#1c1c1c" textLength="29.2" lengthAdjust="spacingAndGlyphs" >13 May</text>
<line x1="183.5" y1="125.6" x2="183.5" y2="122.4" stroke="#555" stroke-width="0.9"/>
<text x="183.5" y="137.0" font-size="10.0" text-anchor="middle" fill="#1c1c1c" textLength="29.2" lengthAdjust="spacingAndGlyphs" >17 May</text>
<line x1="216.2" y1="125.6" x2="216.2" y2="122.4" stroke="#555" stroke-width="0.9"/>
<text x="216.2" y="137.0" font-size="10.0" text-anchor="middle" fill="#1c1c1c" textLength="29.2" lengthAdjust="spacingAndGlyphs" >21 May</text>
<line x1="249.0" y1="125.6" x2="249.0" y2="122.4" stroke="#555" stroke-width="0.9"/>
<text x="249.0" y="137.0" font-size="10.0" text-anchor="middle" fill="#1c1c1c" textLength="29.2" lengthAdjust="spacingAndGlyphs" >25 May</text>
<line x1="281.7" y1="125.6" x2="281.7" y2="122.4" stroke="#555" stroke-width="0.9"/>
<text x="281.7" y="137.0" font-size="10.0" text-anchor="middle" fill="#1c1c1c" textLength="29.2" lengthAdjust="spacingAndGlyphs" >29 May</text>
<line x1="306.3" y1="125.6" x2="306.3" y2="122.4" stroke="#555" stroke-width="0.9"/>
<text x="306.3" y="137.0" font-size="10.0" text-anchor="middle" fill="#1c1c1c" textLength="25.1" lengthAdjust="spacingAndGlyphs" >01 Jun</text>
<line x1="40.3" y1="5.2" x2="43.5" y2="5.2" stroke="#555" stroke-width="0.9"/>
<text x="37.3" y="9.1" font-size="10.0" text-anchor="end" fill="#1c1c1c" textLength="10.1" lengthAdjust="spacingAndGlyphs" >75</text>
<line x1="40.3" y1="27.6" x2="43.5" y2="27.6" stroke="#555" stroke-width="0.9"/>
<text x="37.3" y="31.5" font-size="10.0" text-anchor="end" fill="#1c1c1c" textLength="10.1" lengthAdjust="spacingAndGlyphs" >50</text>
<line x1="40.3" y1="50.0" x2="43.5" y2="50.0" stroke="#555" stroke-width="0.9"/>
<text x="37.3" y="53.9" font-size="10.0" text-anchor="end" fill="#1c1c1c" textLength="10.1" lengthAdjust="spacingAndGlyphs" >25</text>
<line x1="40.3" y1="72.4" x2="43.5" y2="72.4" stroke="#555" stroke-width="0.9"/>
<text x="37.3" y="76.3" font-size="10.0" text-anchor="end" fill="#1c1c1c" textLength="5.0" lengthAdjust="spacingAndGlyphs" >0</text>
<line x1="40.3" y1="94.8" x2="43.5" y2="94.8" stroke="#555" stroke-width="0.9"/>
<text x="37.3" y="98.7" font-size="10.0" text-anchor="end" fill="#1c1c1c" textLength="16.7" lengthAdjust="spacingAndGlyphs" >−25</text>
<line x1="40.3" y1="117.2" x2="43.5" y2="117.2" stroke="#555" stroke-width="0.9"/>
<text x="37.3" y="121.1" font-size="10.0" text-anchor="end" fill="#1c1c1c" textLength="16.7" lengthAdjust="spacingAndGlyphs" >−50</text>
<text x="17.1" y="64.2" font-size="10.3" text-anchor="middle" fill="#1c1c1c" textLength="12.2" lengthAdjust="spacingAndGlyphs" transform="rotate(-90 17.1 64.2)" >nT</text>
<text x="42.9" y="10.9" font-size="10.0" text-anchor="start" fill="#2b2b2b" textLength="12.4" lengthAdjust="spacingAndGlyphs" font-weight="bold" >(a)</text>
<rect x="244.0" y="4.4" width="62.9" height="29.8" rx="1.6" fill="#fff" fill-opacity="0.85" stroke="#d0d0d0" stroke-width="0.8"/>
<line x1="246.3" y1="12.1" x2="261.1" y2="12.1" stroke="#E69F00" stroke-width="1.35"/>
<text x="266.3" y="15.6" font-size="9.4" text-anchor="start" fill="#3c3c3c" textLength="37.8" lengthAdjust="spacingAndGlyphs" >IMF Bz (nT)</text>
<line x1="246.3" y1="25.2" x2="261.1" y2="25.2" stroke="#56B4E9" stroke-width="1.35"/>
<text x="266.3" y="28.7" font-size="9.4" text-anchor="start" fill="#3c3c3c" textLength="24.6" lengthAdjust="spacingAndGlyphs" >|B| (nT)</text>
<rect x="455.0" y="0.0" width="16.4" height="125.6" fill="#E69F00" fill-opacity="0.16"/>
<line x1="381.3" y1="0.0" x2="381.3" y2="125.6" stroke="#d4d4d4" stroke-width="0.7" stroke-dasharray="0.8 1.3" stroke-opacity="0.5"/>
<line x1="414.0" y1="0.0" x2="414.0" y2="125.6" stroke="#d4d4d4" stroke-width="0.7" stroke-dasharray="0.8 1.3" stroke-opacity="0.5"/>
<line x1="446.8" y1="0.0" x2="446.8" y2="125.6" stroke="#d4d4d4" stroke-width="0.7" stroke-dasharray="0.8 1.3" stroke-opacity="0.5"/>
<line x1="479.5" y1="0.0" x2="479.5" y2="125.6" stroke="#d4d4d4" stroke-width="0.7" stroke-dasharray="0.8 1.3" stroke-opacity="0.5"/>
<line x1="512.3" y1="0.0" x2="512.3" y2="125.6" stroke="#d4d4d4" stroke-width="0.7" stroke-dasharray="0.8 1.3" stroke-opacity="0.5"/>
<line x1="545.0" y1="0.0" x2="545.0" y2="125.6" stroke="#d4d4d4" stroke-width="0.7" stroke-dasharray="0.8 1.3" stroke-opacity="0.5"/>
<line x1="577.8" y1="0.0" x2="577.8" y2="125.6" stroke="#d4d4d4" stroke-width="0.7" stroke-dasharray="0.8 1.3" stroke-opacity="0.5"/>
<line x1="610.5" y1="0.0" x2="610.5" y2="125.6" stroke="#d4d4d4" stroke-width="0.7" stroke-dasharray="0.8 1.3" stroke-opacity="0.5"/>
<line x1="635.1" y1="0.0" x2="635.1" y2="125.6" stroke="#d4d4d4" stroke-width="0.7" stroke-dasharray="0.8 1.3" stroke-opacity="0.5"/>
<line x1="368.9" y1="27.5" x2="639.5" y2="27.5" stroke="#d4d4d4" stroke-width="0.7" stroke-dasharray="0.8 1.3" stroke-opacity="0.5"/>
<line x1="368.9" y1="58.4" x2="639.5" y2="58.4" stroke="#d4d4d4" stroke-width="0.7" stroke-dasharray="0.8 1.3" stroke-opacity="0.5"/>
<line x1="368.9" y1="89.3" x2="639.5" y2="89.3" stroke="#d4d4d4" stroke-width="0.7" stroke-dasharray="0.8 1.3" stroke-opacity="0.5"/>
<line x1="368.9" y1="120.2" x2="639.5" y2="120.2" stroke="#d4d4d4" stroke-width="0.7" stroke-dasharray="0.8 1.3" stroke-opacity="0.5"/>
<g clip-path="url(#clipb)">
<path d="M381.3 114.0L381.5 106.0L381.6 113.2L381.8 114.8L382.0 115.1L382.2 115.5L382.3 116.0L382.5 116.5L382.7 114.1L382.8 114.9L383.0 115.6L383.2 114.4L383.3 116.4L383.5 115.5L383.7 116.0L383.9 117.1L384.0 115.6L384.2 117.4L384.4 115.9L384.5 117.0L384.7 116.0L384.9 114.3L385.1 115.0L385.2 116.5L385.4 110.3L385.6 116.5L385.7 117.3L385.9 117.4L386.1 116.4L386.2 115.5L386.4 117.5L386.6 116.6L386.8 115.6L386.9 115.8L387.1 117.0L387.3 115.0L387.4 117.0L387.6 115.5L387.8 113.5L388.0 117.4L388.1 116.1L388.3 115.6L388.5 115.6L388.6 110.9L388.8 116.4L389.0 117.3L389.1 116.1L389.3 115.3L389.5 116.4L389.7 116.9L389.8 116.6L390.0 116.0L390.2 115.8L390.3 115.9L390.5 115.7L390.7 117.1L390.9 117.4L391.0 115.9L391.2 109.1L391.4 116.5L391.5 116.1L391.7 114.6L391.9 112.6L392.0 112.4L392.2 110.6L392.4 112.8L392.6 112.1L392.7 111.7L392.9 113.1L393.1 109.4L393.2 109.6L393.4 108.3L393.6 111.5L393.7 108.5L393.9 98.0L394.1 110.8L394.3 114.6L394.4 114.4L394.6 110.4L394.8 112.1L394.9 111.1L395.1 114.4L395.3 103.2L395.5 103.2L395.6 110.8L395.8 110.1L396.0 110.1L396.1 106.8L396.3 109.7L396.5 104.8L396.6 112.5L396.8 108.1L397.0 109.0L397.2 111.7L397.3 109.8L397.5 110.6L397.7 109.5L397.8 114.3L398.0 108.5L398.2 111.5L398.4 112.9L398.5 112.4L398.7 108.5L398.9 113.4L399.0 113.6L399.2 115.1L399.4 115.8L399.5 115.5L399.7 117.0L399.9 117.5L400.1 115.3L400.2 116.2L400.4 115.0L400.6 115.9L400.7 116.1L400.9 115.5L401.1 115.3L401.3 117.2L401.4 115.2L401.6 117.0L401.8 116.3L401.9 113.6L402.1 115.5L402.3 113.9L402.4 116.2L402.6 115.6L402.8 116.1L403.0 115.8L403.1 117.0L403.3 117.3L403.5 116.3L403.6 117.6L403.8 117.4L404.0 116.0L404.2 116.8L404.3 117.2L404.5 117.5L404.7 116.5L404.8 116.7L405.0 116.3L405.2 116.5L405.3 113.9L405.5 116.3L405.7 117.8L405.9 116.7L406.0 116.4L406.2 116.2L406.4 117.6L406.5 115.5L406.7 116.2L406.9 116.3L407.1 117.6L407.2 116.2L407.4 116.4L407.6 114.7L407.7 116.4L407.9 117.4L408.1 116.5L408.2 117.2L408.4 116.1L408.6 117.3L408.8 116.7L408.9 116.6L409.1 116.4L409.3 116.8L409.4 117.2L409.6 116.6L409.8 116.9L410.0 116.3L410.1 116.6L410.3 117.8L410.5 116.9L410.6 114.8L410.8 115.6L411.0 115.5L411.1 115.6L411.3 116.6L411.5 117.5L411.7 115.8L411.8 114.9L412.0 115.3L412.2 115.6L412.3 115.7L412.5 116.2L412.7 116.0L412.9 116.2L413.0 116.0L413.2 109.4L413.4 117.1L413.5 115.9L413.7 116.6L413.9 117.8L414.0 116.8L414.2 117.8L414.4 114.7L414.6 115.1L414.7 115.2L414.9 116.7L415.1 117.4L415.2 116.8L415.4 116.4L415.6 117.0L415.7 116.4L415.9 115.6L416.1 115.5L416.3 117.1L416.4 117.8L416.6 116.7L416.8 116.7L416.9 115.4L417.1 112.7L417.3 111.6L417.5 113.7L417.6 112.4L417.8 110.5L418.0 113.3L418.1 113.2L418.3 111.8L418.5 113.0L418.6 113.9L418.8 114.4L419.0 113.1L419.2 113.9L419.3 111.4L419.5 113.0L419.7 109.4L419.8 104.8L420.0 114.2L420.2 110.8L420.4 113.1L420.5 109.6L420.7 110.9L420.9 112.4L421.0 95.5L421.2 113.4L421.4 112.2L421.5 111.8L421.7 112.8L421.9 111.9L422.1 114.3L422.2 112.0L422.4 114.6L422.6 112.0L422.7 111.5L422.9 110.8L423.1 106.3L423.3 107.4L423.4 111.6L423.6 112.1L423.8 113.9L423.9 109.8L424.1 113.0L424.3 110.5L424.4 113.9L424.6 112.4L424.8 113.3L425.0 70.1L425.1 112.8L425.3 114.2L425.5 112.2L425.6 114.6L425.8 114.7L426.0 101.7L426.2 101.7L426.3 112.0L426.5 113.2L426.7 114.3L426.8 112.6L427.0 111.3L427.2 113.4L427.3 113.3L427.5 111.4L427.7 111.1L427.9 112.9L428.0 114.5L428.2 115.2L428.4 115.0L428.5 113.0L428.7 112.7L428.9 113.2L429.1 111.3L429.2 114.2L429.4 115.0L429.6 115.3L429.7 111.6L429.9 116.7L430.1 115.2L430.2 114.6L430.4 115.1L430.6 112.0L430.8 112.6L430.9 113.6L431.1 116.0L431.3 114.9L431.4 115.7L431.6 115.4L431.8 115.1L432.0 115.9L432.1 114.7L432.3 112.7L432.5 113.2L432.6 114.6L432.8 105.4L433.0 114.6L433.1 113.7L433.3 115.3L433.5 116.0L433.7 114.8L433.8 116.2L434.0 114.7L434.2 116.5L434.3 116.7L434.5 115.8L434.7 117.0L434.9 116.0L435.0 115.0L435.2 116.8L435.4 114.7L435.5 116.0L435.7 115.0L435.9 115.2L436.0 116.0L436.2 116.3L436.4 117.3L436.6 116.8L436.7 116.7L436.9 113.7L437.1 113.7L437.2 116.7L437.4 115.0L437.6 115.2L437.7 116.0L437.9 115.2L438.1 114.5L438.3 116.1L438.4 116.1L438.6 115.6L438.8 116.7L438.9 106.0L439.1 115.8L439.3 116.5L439.5 116.8L439.6 115.7L439.8 114.6L440.0 115.1L440.1 116.5L440.3 115.1L440.5 115.4L440.6 115.0L440.8 114.1L441.0 116.4L441.2 116.1L441.3 116.5L441.5 116.9L441.7 113.5L441.8 114.1L442.0 117.2L442.2 115.8L442.4 116.5L442.5 114.7L442.7 115.5L442.9 116.0L443.0 115.8L443.2 115.5L443.4 115.8L443.5 116.2L443.7 116.2L443.9 115.5L444.1 116.9L444.2 116.3L444.4 116.2L444.6 116.5L444.7 115.3L444.9 117.1L445.1 116.7L445.3 117.0L445.4 115.8L445.6 116.5L445.8 116.1L445.9 115.7L446.1 117.4L446.3 116.0L446.4 116.8L446.6 116.6L446.8 116.4L447.0 115.3L447.1 115.1L447.3 113.5L447.5 115.4L447.6 116.5L447.8 116.7L448.0 115.7L448.2 114.0L448.3 115.4L448.5 116.6L448.7 116.1L448.8 115.9L449.0 116.1L449.2 116.9L449.3 117.8L449.5 117.3L449.7 115.5L449.9 115.9L450.0 117.9L450.2 116.8L450.4 117.9L450.5 114.6L450.7 115.8L450.9 117.3L451.1 115.8L451.2 117.0L451.4 116.0L451.6 116.3L451.7 117.4L451.9 116.0L452.1 117.4L452.2 115.3L452.4 116.1L452.6 117.3L452.8 117.9L452.9 115.3L453.1 114.4L453.3 117.2L453.4 114.8L453.6 115.9L453.8 116.5L454.0 116.4L454.1 116.6L454.3 114.6L454.5 115.7L454.6 117.6L454.8 114.0L455.0 101.7L455.1 116.8L455.3 116.5L455.5 116.9L455.7 116.1L455.8 115.5L456.0 115.4L456.2 116.3L456.3 116.7L456.5 114.9L456.7 100.1L456.8 112.6L457.0 115.8L457.2 114.6L457.4 115.2L457.5 116.2L457.7 113.7L457.9 114.8L458.0 116.2L458.2 115.9L458.4 112.5L458.6 114.2L458.7 107.9L458.9 106.4L459.1 113.2L459.2 106.1L459.4 103.2L459.6 101.5L459.7 106.9L459.9 107.1L460.1 94.1L460.3 94.6L460.4 101.7L460.6 103.9L460.8 68.4L460.9 48.0L461.1 5.9L461.3 76.8L461.5 16.8L461.6 33.5L461.8 91.5L462.0 96.8L462.1 26.8L462.3 39.7L462.5 89.8L462.6 82.9L462.8 39.5L463.0 43.8L463.2 98.9L463.3 85.1L463.5 48.9L463.7 39.0L463.8 103.4L464.0 102.9L464.2 45.1L464.4 47.7L464.5 100.7L464.7 94.0L464.9 56.3L465.0 46.5L465.2 97.2L465.4 90.7L465.5 51.7L465.7 52.5L465.9 93.2L466.1 98.5L466.2 62.6L466.4 58.4L466.6 105.3L466.7 101.8L466.9 71.5L467.1 86.1L467.3 109.8L467.4 106.6L467.6 110.2L467.8 108.9L467.9 106.1L468.1 99.5L468.3 96.2L468.4 106.0L468.6 107.0L468.8 92.7L469.0 90.8L469.1 101.8L469.3 111.3L469.5 103.2L469.6 92.2L469.8 96.2L470.0 100.8L470.2 108.4L470.3 104.7L470.5 103.5L470.7 105.0L470.8 108.0L471.0 109.3L471.2 106.5L471.3 104.8L471.5 107.3L471.7 109.8L471.9 100.9L472.0 86.3L472.2 72.9L472.4 94.4L472.5 105.6L472.7 100.5L472.9 94.8L473.1 94.9L473.2 98.3L473.4 102.9L473.6 105.8L473.7 109.5L473.9 110.9L474.1 112.3L474.2 111.0L474.4 112.8L474.6 112.9L474.8 111.5L474.9 110.1L475.1 114.0L475.3 114.2L475.4 109.8L475.6 109.3L475.8 113.3L476.0 110.4L476.1 110.4L476.3 104.1L476.5 112.0L476.6 105.6L476.8 105.9L477.0 112.2L477.1 103.6L477.3 101.0L477.5 112.2L477.7 93.9L477.8 110.3L478.0 111.4L478.2 108.9L478.3 79.1L478.5 99.2L478.7 103.6L478.8 90.8L479.0 97.0L479.2 86.4L479.4 79.7L479.5 92.1L479.7 112.1L479.9 108.6L480.0 110.1L480.2 104.6L480.4 103.0L480.6 110.2L480.7 111.3L480.9 107.9L481.1 106.7L481.2 87.8L481.4 103.2L481.6 104.9L481.7 105.7L481.9 95.5L482.1 111.0L482.3 108.3L482.4 100.6L482.6 98.0L482.8 102.9L482.9 108.4L483.1 111.8L483.3 101.5L483.5 104.1L483.6 110.0L483.8 115.2L484.0 114.2L484.1 115.3L484.3 106.8L484.5 108.7L484.6 112.6L484.8 112.1L485.0 101.2L485.2 102.4L485.3 104.8L485.5 112.6L485.7 114.9L485.8 115.9L486.0 113.1L486.2 105.9L486.4 106.5L486.5 111.6L486.7 113.7L486.9 113.2L487.0 111.3L487.2 115.7L487.4 116.6L487.5 111.8L487.7 113.7L487.9 111.5L488.1 113.7L488.2 112.0L488.4 115.3L488.6 114.4L488.7 112.3L488.9 112.9L489.1 115.5L489.3 114.2L489.4 116.0L489.6 117.1L489.8 115.5L489.9 113.7L490.1 114.2L490.3 116.9L490.4 115.2L490.6 115.1L490.8 116.4L491.0 117.8L491.1 115.9L491.3 115.3L491.5 115.7L491.6 117.8L491.8 118.1L492.0 116.2L492.2 115.9L492.3 116.3L492.5 117.1L492.7 116.8L492.8 117.5L493.0 117.5L493.2 117.9L493.3 117.2L493.5 117.5L493.7 116.4L493.9 116.4L494.0 117.7L494.2 115.5L494.4 117.8L494.5 117.0L494.7 116.2L494.9 115.8L495.1 118.4L495.2 116.9L495.4 116.1L495.6 115.6L495.7 118.5L495.9 118.1L496.1 117.7L496.2 117.8L496.4 116.4L496.6 117.7L496.8 116.5L496.9 116.8L497.1 118.3L497.3 118.3L497.4 118.0L497.6 105.4L497.8 116.7L498.0 117.5L498.1 116.8L498.3 118.4L498.5 118.6L498.6 118.3L498.8 117.5L499.0 117.9L499.1 118.3L499.3 117.6L499.5 116.0L499.7 117.4L499.8 118.1L500.0 118.3L500.2 116.3L500.3 117.4L500.5 117.2L500.7 116.5L500.8 116.5L501.0 118.0L501.2 117.1L501.4 116.8L501.5 117.1L501.7 116.7L501.9 117.8L502.0 117.7L502.2 118.0L502.4 117.2L502.6 117.9L502.7 117.4L502.9 118.2L503.1 117.8L503.2 117.9L503.4 117.7L503.6 117.5L503.7 117.7L503.9 117.7L504.1 118.6L504.3 117.1L504.4 117.9L504.6 117.8L504.8 118.1L504.9 116.9L505.1 118.0L505.3 117.2L505.5 116.4L505.6 115.7L505.8 104.8L506.0 116.6L506.1 118.1L506.3 116.5L506.5 116.1L506.6 116.4L506.8 82.2L507.0 82.2L507.2 117.7L507.3 116.6L507.5 116.0L507.7 117.8L507.8 89.3L508.0 117.0L508.2 116.5L508.4 116.9L508.5 116.2L508.7 116.1L508.9 116.2L509.0 118.0L509.2 116.8L509.4 117.1L509.5 118.0L509.7 116.9L509.9 118.1L510.1 116.8L510.2 115.4L510.4 117.3L510.6 116.4L510.7 116.6L510.9 116.5L511.1 118.0L511.3 116.9L511.4 117.0L511.6 116.5L511.8 117.0L511.9 116.1L512.1 116.7L512.3 116.4L512.4 115.5L512.6 116.6L512.8 116.0L513.0 116.7L513.1 116.5L513.3 117.4L513.5 116.5L513.6 115.7L513.8 116.9L514.0 116.2L514.2 116.2L514.3 117.4L514.5 116.3L514.7 114.5L514.8 116.2L515.0 117.5L515.2 115.9L515.3 116.3L515.5 112.3L515.7 114.5L515.9 114.7L516.0 115.5L516.2 114.3L516.4 115.1L516.5 115.5L516.7 114.4L516.9 115.1L517.1 111.2L517.2 114.8L517.4 113.9L517.6 114.7L517.7 115.8L517.9 110.9L518.1 116.1L518.2 111.7L518.4 115.5L518.6 114.2L518.8 109.9L518.9 116.1L519.1 116.4L519.3 112.5L519.4 113.5L519.6 114.9L519.8 114.5L520.0 115.7L520.1 114.6L520.3 111.8L520.5 114.6L520.6 114.4L520.8 112.6L521.0 111.3L521.1 114.8L521.3 114.5L521.5 115.6L521.7 116.0L521.8 115.8L522.0 116.1L522.2 117.2L522.3 117.3L522.5 116.8L522.7 115.7L522.8 113.8L523.0 115.8L523.2 115.9L523.4 114.9L523.5 114.5L523.7 115.7L523.9 115.9L524.0 113.2L524.2 115.9L524.4 116.5L524.6 117.6L524.7 116.1L524.9 116.4L525.1 113.6L525.2 116.0L525.4 115.1L525.6 114.7L525.7 113.5L525.9 116.9L526.1 114.4L526.3 115.7L526.4 116.1L526.6 116.5L526.8 116.6L526.9 116.6L527.1 117.8L527.3 116.2L527.5 116.1L527.6 117.0L527.8 116.4L528.0 113.5L528.1 115.0L528.3 116.3L528.5 113.8L528.6 116.5L528.8 116.4L529.0 116.7L529.2 116.5L529.3 115.4L529.5 115.2L529.7 116.7L529.8 116.4L530.0 116.1L530.2 116.5L530.4 116.3L530.5 116.9L530.7 117.0L530.9 116.3L531.0 117.1L531.2 116.0L531.4 116.3L531.5 117.0L531.7 116.9L531.9 116.8L532.1 116.5L532.2 116.1L532.4 116.3L532.6 117.0L532.7 114.6L532.9 114.6L533.1 115.6L533.3 114.8L533.4 115.4L533.6 116.2L533.8 116.0L533.9 113.5L534.1 113.9L534.3 114.2L534.4 116.1L534.6 115.4L534.8 113.5L535.0 114.8L535.1 114.4L535.3 114.0L535.5 114.8L535.6 113.6L535.8 115.3L536.0 115.3L536.2 116.6L536.3 113.5L536.5 115.0L536.7 115.7L536.8 114.2L537.0 116.2L537.2 116.1L537.3 116.9L537.5 116.3L537.7 116.5L537.9 115.6L538.0 116.1L538.2 116.7L538.4 116.6L538.5 116.3L538.7 116.7L538.9 115.1L539.1 115.0L539.2 115.7L539.4 117.1L539.6 115.8L539.7 117.2L539.9 116.2L540.1 116.1L540.2 116.7L540.4 117.0L540.6 117.0L540.8 113.6L540.9 115.9L541.1 116.3L541.3 115.0L541.4 115.3L541.6 114.5L541.8 117.0L542.0 117.3L542.1 113.5L542.3 115.3L542.5 116.2L542.6 115.9L542.8 114.8L543.0 117.0L543.1 116.0L543.3 116.1L543.5 115.3L543.7 115.7L543.8 116.5L544.0 117.0L544.2 117.7L544.3 115.7L544.5 117.3L544.7 116.8L544.8 114.1L545.0 116.1L545.2 115.4L545.4 116.1L545.5 115.3L545.7 115.9L545.9 116.5L546.0 114.5L546.2 116.0L546.4 117.3L546.6 116.7L546.7 115.7L546.9 117.0L547.1 115.5L547.2 115.0L547.4 113.4L547.6 116.1L547.7 115.3L547.9 117.4L548.1 116.8L548.3 116.2L548.4 115.6L548.6 116.0L548.8 116.2L548.9 116.7L549.1 116.7L549.3 115.9L549.5 115.4L549.6 115.1L549.8 114.6L550.0 114.1L550.1 117.4L550.3 116.9L550.5 116.5L550.6 116.8L550.8 115.0L551.0 114.9L551.2 115.9L551.3 115.9L551.5 114.4L551.7 116.1L551.8 116.4L552.0 115.1L552.2 115.3L552.4 113.9L552.5 115.1L552.7 114.9L552.9 116.4L553.0 117.0L553.2 116.3L553.4 117.7L553.5 116.3L553.7 115.0L553.9 115.7L554.1 116.2L554.2 114.8L554.4 115.8L554.6 114.8L554.7 113.4L554.9 114.3L555.1 114.4L555.3 115.1L555.4 115.5L555.6 115.6L555.8 115.9L555.9 114.6L556.1 117.3L556.3 116.6L556.4 115.5L556.6 116.8L556.8 116.3L557.0 116.8L557.1 115.8L557.3 114.9L557.5 113.8L557.6 114.9L557.8 116.5L558.0 115.9L558.2 115.3L558.3 114.0L558.5 117.6L558.7 116.1L558.8 117.6L559.0 115.8L559.2 115.5L559.3 115.3L559.5 114.7L559.7 115.3L559.9 116.5L560.0 115.8L560.2 114.4L560.4 115.8L560.5 116.0L560.7 117.1L560.9 115.0L561.1 116.3L561.2 116.8L561.4 107.2L561.6 117.0L561.7 116.5L561.9 114.6L562.1 114.7L562.2 113.7L562.4 113.4L562.6 116.5L562.8 115.6L562.9 113.9L563.1 113.4L563.3 116.8L563.4 117.4L563.6 116.0L563.8 116.4L564.0 117.0L564.1 115.9L564.3 106.9L564.5 117.7L564.6 116.7L564.8 116.1L565.0 115.3L565.1 114.7L565.3 115.5L565.5 116.2L565.7 116.7L565.8 117.6L566.0 116.9L566.2 115.1L566.3 115.0L566.5 113.3L566.7 115.5L566.8 117.5L567.0 115.6L567.2 110.9L567.4 116.9L567.5 117.6L567.7 116.3L567.9 115.3L568.0 116.9L568.2 116.6L568.4 116.9L568.6 117.3L568.7 117.5L568.9 116.3L569.1 116.5L569.2 116.8L569.4 117.7L569.6 114.7L569.7 116.7L569.9 116.3L570.1 117.1L570.3 115.9L570.4 117.4L570.6 116.3L570.8 116.3L570.9 115.0L571.1 116.9L571.3 116.9L571.5 116.5L571.6 113.3L571.8 117.0L572.0 116.0L572.1 116.7L572.3 115.9L572.5 115.2L572.6 115.7L572.8 115.6L573.0 115.6L573.2 116.5L573.3 116.4L573.5 117.5L573.7 116.8L573.8 116.9L574.0 116.5L574.2 115.3L574.4 115.4L574.5 115.3L574.7 114.4L574.9 117.7L575.0 116.1L575.2 116.1L575.4 116.1L575.5 117.2L575.7 115.8L575.9 114.5L576.1 114.3L576.2 115.7L576.4 115.2L576.6 114.6L576.7 113.3L576.9 113.6L577.1 115.3L577.3 115.7L577.4 115.8L577.6 115.7L577.8 116.5L577.9 115.2L578.1 116.5L578.3 116.9L578.4 115.9L578.6 116.6L578.8 116.4L579.0 117.7L579.1 115.7L579.3 115.9L579.5 116.1L579.6 115.5L579.8 115.7L580.0 116.6L580.2 113.4L580.3 116.0L580.5 114.8L580.7 113.3L580.8 116.1L581.0 115.9L581.2 116.8L581.3 115.0L581.5 116.1L581.7 117.1L581.9 114.7L582.0 114.5L582.2 116.6L582.4 114.7L582.5 115.5L582.7 113.3L582.9 113.3L583.1 115.9L583.2 116.3L583.4 116.9L583.6 116.1L583.7 116.0L583.9 115.1L584.1 115.7L584.2 117.3L584.4 117.1L584.6 114.6L584.8 114.1L584.9 115.8L585.1 116.1L585.3 116.2L585.4 116.0L585.6 108.8L585.8 115.4L586.0 116.5L586.1 116.0L586.3 117.7L586.5 116.4L586.6 114.4L586.8 117.6L587.0 114.7L587.1 115.1L587.3 116.6L587.5 117.5L587.7 115.1L587.8 115.5L588.0 115.1L588.2 116.1L588.3 116.8L588.5 115.2L588.7 116.8L588.8 115.1L589.0 117.3L589.2 117.2L589.4 117.5L589.5 114.9L589.7 117.4L589.9 117.4L590.0 115.7L590.2 115.6L590.4 113.2L590.6 113.2L590.7 114.4L590.9 114.7L591.1 117.4L591.2 117.2L591.4 116.6L591.6 116.3L591.7 117.3L591.9 117.2L592.1 117.1L592.3 115.0L592.4 115.2L592.6 116.2L592.8 116.3L592.9 115.7L593.1 116.6L593.3 116.4L593.5 117.6L593.6 115.7L593.8 110.3L594.0 115.2L594.1 115.2L594.3 115.4L594.5 113.2L594.6 115.1L594.8 117.1L595.0 117.2L595.2 115.5L595.3 114.5L595.5 114.6L595.7 114.6L595.8 115.4L596.0 117.2L596.2 117.0L596.4 117.6L596.5 116.9L596.7 117.4L596.9 98.3L597.0 116.2L597.2 117.6L597.4 115.7L597.5 115.0L597.7 117.1L597.9 116.1L598.1 115.1L598.2 116.1L598.4 115.0L598.6 115.5L598.7 114.5L598.9 115.4L599.1 116.0L599.3 115.4L599.4 114.8L599.6 115.4L599.8 116.3L599.9 116.8L600.1 116.6L600.3 116.7L600.4 115.9L600.6 115.8L600.8 116.0L601.0 116.0L601.1 115.8L601.3 113.8L601.5 113.8L601.6 116.2L601.8 115.5L602.0 116.2L602.2 116.1L602.3 116.3L602.5 116.7L602.7 117.4L602.8 117.6L603.0 116.5L603.2 114.6L603.3 116.6L603.5 115.6L603.7 116.3L603.9 115.7L604.0 116.7L604.2 116.4L604.4 116.2L604.5 117.6L604.7 116.4L604.9 116.2L605.1 117.6L605.2 116.0L605.4 116.0L605.6 115.7L605.7 115.5L605.9 116.3L606.1 117.1L606.2 116.7L606.4 116.6L606.6 113.1L606.8 113.1L606.9 115.9L607.1 116.4L607.3 115.7L607.4 115.2L607.6 116.5L607.8 117.1L607.9 113.7L608.1 114.0L608.3 117.1L608.5 117.6L608.6 117.2L608.8 116.1L609.0 115.4L609.1 116.2L609.3 117.5L609.5 116.2L609.7 115.3L609.8 115.8L610.0 116.5L610.2 115.4L610.3 115.9L610.5 117.0L610.7 116.2L610.8 117.2L611.0 115.2L611.2 115.2L611.4 116.8L611.5 116.0L611.7 114.3L611.9 117.6L612.0 116.6L612.2 113.9L612.4 117.1L612.6 116.4L612.7 90.2L612.9 116.4L613.1 117.6L613.2 117.6L613.4 117.0L613.6 116.1L613.7 115.6L613.9 115.3L614.1 114.3L614.3 114.6L614.4 114.7L614.6 116.7L614.8 116.3L614.9 113.1L615.1 113.1L615.3 113.7L615.5 114.5L615.6 114.3L615.8 116.0L616.0 113.1L616.1 115.8L616.3 116.0L616.5 113.1L616.6 117.4L616.8 116.0L617.0 117.5L617.2 117.0L617.3 116.3L617.5 116.4L617.7 115.9L617.8 116.7L618.0 116.3L618.2 117.2L618.4 116.7L618.5 117.4L618.7 115.6L618.9 117.1L619.0 115.5L619.2 116.3L619.4 116.4L619.5 114.5L619.7 115.5L619.9 117.6L620.1 115.9L620.2 117.6L620.4 116.4L620.6 116.5L620.7 117.4L620.9 116.3L621.1 116.4L621.3 113.1L621.4 115.9L621.6 113.1L621.8 113.2L621.9 116.1L622.1 116.8L622.3 114.5L622.4 115.8L622.6 115.7L622.8 116.2L623.0 117.2L623.1 116.7L623.3 117.0L623.5 117.6L623.6 111.5L623.8 113.6L624.0 113.1L624.2 115.4L624.3 115.6L624.5 115.2L624.7 113.8L624.8 115.0L625.0 116.3L625.2 116.4L625.3 114.6L625.5 113.0L625.7 110.9L625.9 117.6L626.0 115.6L626.2 115.9L626.4 115.8L626.5 114.2L626.7 115.5L626.9 110.3" fill="none" stroke="#E69F00" stroke-width="1.45" stroke-linejoin="round" stroke-linecap="butt"/>
</g>
<line x1="368.9" y1="0.0" x2="368.9" y2="126.2" stroke="#5c5c5c" stroke-width="1.15"/>
<line x1="368.3" y1="125.6" x2="639.5" y2="125.6" stroke="#5c5c5c" stroke-width="1.15"/>
<line x1="381.3" y1="125.6" x2="381.3" y2="122.4" stroke="#555" stroke-width="0.9"/>
<text x="381.3" y="137.0" font-size="10.0" text-anchor="middle" fill="#1c1c1c" textLength="29.2" lengthAdjust="spacingAndGlyphs" >01 May</text>
<line x1="414.0" y1="125.6" x2="414.0" y2="122.4" stroke="#555" stroke-width="0.9"/>
<text x="414.0" y="137.0" font-size="10.0" text-anchor="middle" fill="#1c1c1c" textLength="29.2" lengthAdjust="spacingAndGlyphs" >05 May</text>
<line x1="446.8" y1="125.6" x2="446.8" y2="122.4" stroke="#555" stroke-width="0.9"/>
<text x="446.8" y="137.0" font-size="10.0" text-anchor="middle" fill="#1c1c1c" textLength="29.2" lengthAdjust="spacingAndGlyphs" >09 May</text>
<line x1="479.5" y1="125.6" x2="479.5" y2="122.4" stroke="#555" stroke-width="0.9"/>
<text x="479.5" y="137.0" font-size="10.0" text-anchor="middle" fill="#1c1c1c" textLength="29.2" lengthAdjust="spacingAndGlyphs" >13 May</text>
<line x1="512.3" y1="125.6" x2="512.3" y2="122.4" stroke="#555" stroke-width="0.9"/>
<text x="512.3" y="137.0" font-size="10.0" text-anchor="middle" fill="#1c1c1c" textLength="29.2" lengthAdjust="spacingAndGlyphs" >17 May</text>
<line x1="545.0" y1="125.6" x2="545.0" y2="122.4" stroke="#555" stroke-width="0.9"/>
<text x="545.0" y="137.0" font-size="10.0" text-anchor="middle" fill="#1c1c1c" textLength="29.2" lengthAdjust="spacingAndGlyphs" >21 May</text>
<line x1="577.8" y1="125.6" x2="577.8" y2="122.4" stroke="#555" stroke-width="0.9"/>
<text x="577.8" y="137.0" font-size="10.0" text-anchor="middle" fill="#1c1c1c" textLength="29.2" lengthAdjust="spacingAndGlyphs" >25 May</text>
<line x1="610.5" y1="125.6" x2="610.5" y2="122.4" stroke="#555" stroke-width="0.9"/>
<text x="610.5" y="137.0" font-size="10.0" text-anchor="middle" fill="#1c1c1c" textLength="29.2" lengthAdjust="spacingAndGlyphs" >29 May</text>
<line x1="635.1" y1="125.6" x2="635.1" y2="122.4" stroke="#555" stroke-width="0.9"/>
<text x="635.1" y="137.0" font-size="10.0" text-anchor="middle" fill="#1c1c1c" textLength="25.1" lengthAdjust="spacingAndGlyphs" >01 Jun</text>
<line x1="368.9" y1="27.5" x2="372.1" y2="27.5" stroke="#555" stroke-width="0.9"/>
<text x="365.9" y="31.4" font-size="10.0" text-anchor="end" fill="#1c1c1c" textLength="10.1" lengthAdjust="spacingAndGlyphs" >30</text>
<line x1="368.9" y1="58.4" x2="372.1" y2="58.4" stroke="#555" stroke-width="0.9"/>
<text x="365.9" y="62.3" font-size="10.0" text-anchor="end" fill="#1c1c1c" textLength="10.1" lengthAdjust="spacingAndGlyphs" >20</text>
<line x1="368.9" y1="89.3" x2="372.1" y2="89.3" stroke="#555" stroke-width="0.9"/>
<text x="365.9" y="93.2" font-size="10.0" text-anchor="end" fill="#1c1c1c" textLength="10.1" lengthAdjust="spacingAndGlyphs" >10</text>
<line x1="368.9" y1="120.2" x2="372.1" y2="120.2" stroke="#555" stroke-width="0.9"/>
<text x="365.9" y="124.1" font-size="10.0" text-anchor="end" fill="#1c1c1c" textLength="5.0" lengthAdjust="spacingAndGlyphs" >0</text>
<text x="352.3" y="63.0" font-size="10.3" text-anchor="middle" fill="#1c1c1c" textLength="121.0" lengthAdjust="spacingAndGlyphs" transform="rotate(-90 352.3 63.0)" >Dynamic Pressure (nPa)</text>
<text x="371.5" y="10.9" font-size="10.0" text-anchor="start" fill="#2b2b2b" textLength="12.4" lengthAdjust="spacingAndGlyphs" font-weight="bold" >(b)</text>
<rect x="126.2" y="143.9" width="16.4" height="125.5" fill="#E69F00" fill-opacity="0.16"/>
<line x1="52.5" y1="143.9" x2="52.5" y2="269.4" stroke="#d4d4d4" stroke-width="0.7" stroke-dasharray="0.8 1.3" stroke-opacity="0.5"/>
<line x1="85.2" y1="143.9" x2="85.2" y2="269.4" stroke="#d4d4d4" stroke-width="0.7" stroke-dasharray="0.8 1.3" stroke-opacity="0.5"/>
<line x1="118.0" y1="143.9" x2="118.0" y2="269.4" stroke="#d4d4d4" stroke-width="0.7" stroke-dasharray="0.8 1.3" stroke-opacity="0.5"/>
<line x1="150.7" y1="143.9" x2="150.7" y2="269.4" stroke="#d4d4d4" stroke-width="0.7" stroke-dasharray="0.8 1.3" stroke-opacity="0.5"/>
<line x1="183.5" y1="143.9" x2="183.5" y2="269.4" stroke="#d4d4d4" stroke-width="0.7" stroke-dasharray="0.8 1.3" stroke-opacity="0.5"/>
<line x1="216.2" y1="143.9" x2="216.2" y2="269.4" stroke="#d4d4d4" stroke-width="0.7" stroke-dasharray="0.8 1.3" stroke-opacity="0.5"/>
<line x1="249.0" y1="143.9" x2="249.0" y2="269.4" stroke="#d4d4d4" stroke-width="0.7" stroke-dasharray="0.8 1.3" stroke-opacity="0.5"/>
<line x1="281.7" y1="143.9" x2="281.7" y2="269.4" stroke="#d4d4d4" stroke-width="0.7" stroke-dasharray="0.8 1.3" stroke-opacity="0.5"/>
<line x1="306.3" y1="143.9" x2="306.3" y2="269.4" stroke="#d4d4d4" stroke-width="0.7" stroke-dasharray="0.8 1.3" stroke-opacity="0.5"/>
<line x1="40.3" y1="175.5" x2="310.6" y2="175.5" stroke="#d4d4d4" stroke-width="0.7" stroke-dasharray="0.8 1.3" stroke-opacity="0.5"/>
<line x1="40.3" y1="208.7" x2="310.6" y2="208.7" stroke="#d4d4d4" stroke-width="0.7" stroke-dasharray="0.8 1.3" stroke-opacity="0.5"/>
<line x1="40.3" y1="241.9" x2="310.6" y2="241.9" stroke="#d4d4d4" stroke-width="0.7" stroke-dasharray="0.8 1.3" stroke-opacity="0.5"/>
<g clip-path="url(#clipc)">
<path d="M52.5 197.1L52.7 198.8L52.8 202.9L53.0 205.9L53.2 206.3L53.4 206.5L53.5 206.9L53.7 207.4L53.9 207.4L54.0 207.5L54.2 207.4L54.4 207.5L54.5 207.6L54.7 207.6L54.9 207.6L55.1 207.6L55.2 207.6L55.4 207.6L55.6 207.7L55.7 207.7L55.9 207.8L56.1 207.8L56.3 207.7L56.4 207.7L56.6 207.7L56.8 207.6L56.9 207.6L57.1 207.2L57.3 207.4L57.4 207.0L57.6 207.2L57.8 207.0L58.0 207.0L58.1 207.0L58.3 206.9L58.5 206.8L58.6 206.9L58.8 207.0L59.0 206.7L59.2 206.8L59.3 206.9L59.5 206.9L59.7 206.8L59.8 206.8L60.0 206.6L60.2 206.8L60.3 206.7L60.5 206.9L60.7 206.7L60.9 206.7L61.0 207.0L61.2 207.1L61.4 207.1L61.5 207.4L61.7 207.4L61.9 207.3L62.1 207.4L62.2 207.4L62.4 207.3L62.6 207.3L62.7 207.4L62.9 206.7L63.1 206.6L63.2 206.1L63.4 206.2L63.6 206.0L63.8 205.1L63.9 203.3L64.1 201.1L64.3 195.3L64.4 194.9L64.6 195.5L64.8 197.4L64.9 201.8L65.1 200.8L65.3 197.3L65.5 188.8L65.6 183.8L65.8 184.8L66.0 186.6L66.1 186.8L66.3 181.3L66.5 185.4L66.7 195.0L66.8 200.0L67.0 202.8L67.2 203.1L67.3 200.2L67.5 196.5L67.7 193.0L67.8 191.6L68.0 192.7L68.2 194.7L68.4 196.9L68.5 195.8L68.7 197.1L68.9 198.0L69.0 197.4L69.2 198.6L69.4 199.8L69.6 201.4L69.7 204.0L69.9 204.1L70.1 203.1L70.2 203.0L70.4 203.0L70.6 202.3L70.7 202.8L70.9 204.0L71.1 204.7L71.3 205.1L71.4 205.5L71.6 205.7L71.8 206.3L71.9 206.7L72.1 206.8L72.3 206.7L72.5 206.9L72.6 206.5L72.8 206.6L73.0 206.2L73.1 206.1L73.3 206.2L73.5 206.0L73.6 205.4L73.8 205.4L74.0 205.5L74.2 205.4L74.3 205.5L74.5 205.8L74.7 205.8L74.8 205.9L75.0 205.8L75.2 205.5L75.4 205.8L75.5 205.5L75.7 206.0L75.9 206.3L76.0 206.6L76.2 206.7L76.4 206.9L76.5 206.9L76.7 207.1L76.9 207.1L77.1 207.2L77.2 207.1L77.4 207.0L77.6 207.1L77.7 206.8L77.9 206.8L78.1 206.3L78.3 206.3L78.4 206.6L78.6 207.0L78.8 207.2L78.9 207.5L79.1 207.6L79.3 207.7L79.4 207.7L79.6 207.8L79.8 207.7L80.0 207.6L80.1 207.7L80.3 207.5L80.5 207.3L80.6 207.2L80.8 207.1L81.0 207.0L81.2 206.9L81.3 206.8L81.5 206.5L81.7 206.6L81.8 206.7L82.0 206.6L82.2 206.4L82.3 206.5L82.5 206.5L82.7 206.6L82.9 206.4L83.0 205.2L83.2 203.0L83.4 201.7L83.5 199.7L83.7 198.5L83.9 197.6L84.1 197.1L84.2 198.8L84.4 201.3L84.6 203.4L84.7 203.1L84.9 205.3L85.1 205.4L85.2 205.4L85.4 205.0L85.6 205.9L85.8 205.9L85.9 205.7L86.1 205.4L86.3 205.6L86.4 204.9L86.6 204.6L86.8 204.6L86.9 204.4L87.1 204.8L87.3 204.8L87.5 202.9L87.6 203.5L87.8 199.4L88.0 197.1L88.1 198.8L88.3 202.9L88.5 206.2L88.7 206.1L88.8 205.7L89.0 204.6L89.2 205.1L89.3 205.1L89.5 204.9L89.7 204.8L89.8 203.7L90.0 204.3L90.2 204.1L90.4 204.9L90.5 205.4L90.7 206.2L90.9 205.4L91.0 203.6L91.2 202.1L91.4 201.0L91.6 199.8L91.7 201.9L91.9 203.5L92.1 204.9L92.2 204.9L92.4 204.2L92.6 202.7L92.7 201.6L92.9 196.7L93.1 193.8L93.3 196.0L93.4 201.2L93.6 203.4L93.8 203.8L93.9 204.3L94.1 204.4L94.3 205.3L94.5 205.3L94.6 206.2L94.8 206.1L95.0 206.0L95.1 206.2L95.3 206.6L95.5 206.7L95.6 206.6L95.8 206.7L96.0 206.3L96.2 206.2L96.3 205.8L96.5 205.8L96.7 206.2L96.8 207.1L97.0 207.4L97.2 207.1L97.4 206.8L97.5 206.5L97.7 205.9L97.9 206.5L98.0 206.5L98.2 206.8L98.4 207.1L98.5 206.7L98.7 206.8L98.9 206.3L99.1 206.0L99.2 206.3L99.4 206.1L99.6 205.9L99.7 205.5L99.9 205.5L100.1 205.7L100.3 205.8L100.4 206.3L100.6 205.9L100.8 206.1L100.9 206.0L101.1 206.1L101.3 206.0L101.4 206.2L101.6 206.1L101.8 206.4L102.0 206.4L102.1 207.0L102.3 207.1L102.5 207.5L102.6 207.6L102.8 207.3L103.0 206.8L103.2 206.1L103.3 205.8L103.5 205.9L103.7 206.4L103.8 206.4L104.0 206.8L104.2 206.7L104.3 206.6L104.5 207.1L104.7 207.0L104.9 206.8L105.0 206.6L105.2 206.7L105.4 206.5L105.5 206.9L105.7 207.0L105.9 207.3L106.1 207.2L106.2 207.3L106.4 206.5L106.6 205.2L106.7 204.9L106.9 202.7L107.1 201.2L107.2 202.4L107.4 205.0L107.6 206.3L107.8 205.4L107.9 205.7L108.1 205.6L108.3 205.3L108.4 206.1L108.6 206.4L108.8 206.7L108.9 207.1L109.1 207.3L109.3 207.4L109.5 207.5L109.6 207.5L109.8 207.1L110.0 206.6L110.1 206.0L110.3 205.5L110.5 206.0L110.7 206.5L110.8 206.8L111.0 206.6L111.2 206.7L111.3 206.6L111.5 206.3L111.7 206.2L111.8 205.7L112.0 205.9L112.2 205.1L112.4 203.5L112.5 202.2L112.7 203.2L112.9 204.0L113.0 205.6L113.2 206.0L113.4 206.6L113.6 206.9L113.7 207.2L113.9 207.3L114.1 207.5L114.2 207.6L114.4 207.5L114.6 207.5L114.7 207.7L114.9 207.6L115.1 207.8L115.3 207.7L115.4 207.6L115.6 207.4L115.8 207.2L115.9 207.3L116.1 207.6L116.3 207.5L116.5 207.8L116.6 207.7L116.8 207.6L117.0 207.6L117.1 207.5L117.3 207.4L117.5 207.2L117.6 206.9L117.8 206.6L118.0 206.6L118.2 206.6L118.3 206.6L118.5 206.4L118.7 206.2L118.8 206.3L119.0 206.5L119.2 206.5L119.4 206.7L119.5 206.9L119.7 207.3L119.9 207.5L120.0 207.7L120.2 207.4L120.4 206.9L120.5 206.8L120.7 206.4L120.9 206.9L121.1 207.2L121.2 207.4L121.4 207.7L121.6 207.7L121.7 207.2L121.9 206.8L122.1 206.6L122.3 206.5L122.4 206.6L122.6 207.0L122.8 206.7L122.9 206.6L123.1 206.5L123.3 206.6L123.4 206.4L123.6 206.4L123.8 206.2L124.0 206.4L124.1 206.0L124.3 206.4L124.5 207.0L124.6 206.6L124.8 206.9L125.0 206.9L125.2 206.9L125.3 207.1L125.5 206.9L125.7 206.9L125.8 205.2L126.0 203.1L126.2 201.5L126.3 201.9L126.5 203.2L126.7 203.4L126.9 204.6L127.0 205.1L127.2 205.2L127.4 205.7L127.5 205.4L127.7 206.1L127.9 205.2L128.0 205.8L128.2 206.3L128.4 206.4L128.6 206.7L128.7 207.0L128.9 207.2L129.1 207.2L129.2 207.0L129.4 206.2L129.6 206.2L129.8 205.9L129.9 206.1L130.1 205.9L130.3 206.2L130.4 205.2L130.6 203.1L130.8 199.8L130.9 194.0L131.1 191.0L131.3 197.5L131.5 182.9L131.6 178.8L131.8 180.6L132.0 149.6L132.1 185.9L132.3 189.1L132.5 158.1L132.7 167.8L132.8 188.4L133.0 198.9L133.2 185.3L133.3 171.9L133.5 178.5L133.7 195.5L133.8 199.0L134.0 188.0L134.2 173.6L134.4 186.5L134.5 195.0L134.7 202.5L134.9 193.2L135.0 185.1L135.2 175.5L135.4 189.2L135.6 195.8L135.7 198.3L135.9 185.4L136.1 174.5L136.2 174.2L136.4 183.9L136.6 197.0L136.7 191.0L136.9 174.9L137.1 151.4L137.3 164.2L137.4 181.1L137.6 196.7L137.8 186.1L137.9 176.3L138.1 161.4L138.3 177.7L138.5 192.2L138.6 202.0L138.8 190.0L139.0 181.1L139.1 173.4L139.3 178.9L139.5 192.3L139.6 201.4L139.8 198.4L140.0 190.4L140.2 183.4L140.3 177.3L140.5 185.6L140.7 195.1L140.8 200.0L141.0 200.0L141.2 194.9L141.4 188.2L141.5 182.9L141.7 188.0L141.9 195.0L142.0 200.3L142.2 201.5L142.4 196.4L142.5 191.5L142.7 184.3L142.9 191.8L143.1 194.9L143.2 200.8L143.4 204.0L143.6 201.9L143.7 198.8L143.9 196.8L144.1 195.2L144.3 193.2L144.4 196.0L144.6 198.2L144.8 201.4L144.9 204.5L145.1 204.5L145.3 203.5L145.4 201.4L145.6 198.4L145.8 196.4L146.0 197.9L146.1 199.7L146.3 201.2L146.5 202.8L146.6 205.0L146.8 204.2L147.0 203.9L147.2 202.9L147.3 202.5L147.5 204.2L147.7 204.3L147.8 204.9L148.0 202.1L148.2 199.6L148.3 195.7L148.5 191.6L148.7 189.2L148.9 186.8L149.0 186.3L149.2 188.5L149.4 187.4L149.5 194.4L149.7 195.3L149.9 184.8L150.0 178.8L150.2 183.3L150.4 193.8L150.6 202.4L150.7 202.6L150.9 202.8L151.1 200.8L151.2 200.6L151.4 199.3L151.6 199.9L151.8 199.6L151.9 199.7L152.1 199.2L152.3 200.7L152.4 201.6L152.6 201.2L152.8 203.4L152.9 202.8L153.1 203.2L153.3 204.0L153.5 203.6L153.6 203.4L153.8 203.3L154.0 203.2L154.1 202.5L154.3 203.8L154.5 204.2L154.7 204.3L154.8 204.7L155.0 204.3L155.2 205.0L155.3 205.5L155.5 205.0L155.7 205.4L155.8 206.2L156.0 206.3L156.2 206.5L156.4 206.5L156.5 206.0L156.7 205.5L156.9 204.3L157.0 205.1L157.2 205.9L157.4 206.7L157.6 207.3L157.7 207.1L157.9 206.7L158.1 206.1L158.2 205.6L158.4 205.5L158.6 205.8L158.7 206.2L158.9 206.7L159.1 206.9L159.3 206.9L159.4 206.9L159.6 207.1L159.8 206.9L159.9 206.8L160.1 206.6L160.3 206.3L160.5 206.3L160.6 205.8L160.8 206.1L161.0 205.5L161.1 206.1L161.3 206.2L161.5 206.8L161.6 207.3L161.8 207.4L162.0 207.4L162.2 207.2L162.3 207.1L162.5 206.6L162.7 206.7L162.8 205.9L163.0 205.8L163.2 205.3L163.4 205.3L163.5 205.4L163.7 205.6L163.9 205.9L164.0 206.2L164.2 206.5L164.4 206.7L164.5 207.2L164.7 207.2L164.9 207.3L165.1 207.3L165.2 207.2L165.4 206.8L165.6 206.4L165.7 206.2L165.9 206.3L166.1 206.6L166.3 207.1L166.4 207.3L166.6 207.5L166.8 207.6L166.9 207.6L167.1 207.6L167.3 207.6L167.4 207.5L167.6 207.1L167.8 206.6L168.0 206.0L168.1 205.0L168.3 204.7L168.5 204.5L168.6 204.0L168.8 204.1L169.0 204.3L169.2 203.3L169.3 203.3L169.5 202.9L169.7 203.2L169.8 202.5L170.0 203.1L170.2 203.2L170.3 202.4L170.5 202.6L170.7 202.2L170.9 202.4L171.0 204.1L171.2 205.7L171.4 205.5L171.5 205.4L171.7 205.7L171.9 205.3L172.0 205.3L172.2 205.0L172.4 203.6L172.6 203.2L172.7 200.5L172.9 199.7L173.1 200.5L173.2 201.8L173.4 203.4L173.6 204.3L173.8 203.0L173.9 200.0L174.1 198.8L174.3 195.9L174.4 198.8L174.6 197.7L174.8 200.6L174.9 200.2L175.1 201.3L175.3 200.9L175.5 200.2L175.6 198.3L175.8 198.5L176.0 197.4L176.1 198.0L176.3 196.7L176.5 193.8L176.7 196.0L176.8 200.5L177.0 195.9L177.2 185.9L177.3 180.1L177.5 184.4L177.7 189.5L177.8 193.3L178.0 195.5L178.2 197.8L178.4 201.5L178.5 202.0L178.7 203.8L178.9 203.7L179.0 204.3L179.2 205.2L179.4 205.8L179.6 205.5L179.7 205.7L179.9 205.7L180.1 205.8L180.2 205.9L180.4 205.6L180.6 205.7L180.7 205.4L180.9 206.2L181.1 206.3L181.3 206.4L181.4 206.6L181.6 206.6L181.8 206.6L181.9 206.7L182.1 206.0L182.3 204.7L182.5 203.8L182.6 203.3L182.8 202.7L183.0 201.8L183.1 202.3L183.3 201.7L183.5 201.6L183.6 201.2L183.8 201.4L184.0 201.3L184.2 202.4L184.3 202.7L184.5 204.0L184.7 203.8L184.8 204.5L185.0 204.5L185.2 204.2L185.4 204.4L185.5 204.9L185.7 205.6L185.9 206.3L186.0 206.7L186.2 206.7L186.4 206.5L186.5 206.6L186.7 206.6L186.9 206.3L187.1 205.3L187.2 203.9L187.4 203.7L187.6 202.6L187.7 202.1L187.9 201.8L188.1 201.0L188.3 201.5L188.4 199.3L188.6 198.9L188.8 199.0L188.9 195.6L189.1 194.3L189.3 190.4L189.4 185.8L189.6 189.2L189.8 191.1L190.0 189.6L190.1 188.6L190.3 193.6L190.5 192.0L190.6 193.2L190.8 193.0L191.0 195.4L191.2 199.9L191.3 201.8L191.5 204.1L191.7 205.0L191.8 204.2L192.0 203.3L192.2 201.5L192.3 201.0L192.5 197.0L192.7 196.6L192.9 195.9L193.0 196.7L193.2 197.5L193.4 196.3L193.5 195.8L193.7 193.4L193.9 194.0L194.0 195.4L194.2 193.0L194.4 192.4L194.6 195.0L194.7 195.9L194.9 198.5L195.1 200.8L195.2 201.7L195.4 201.1L195.6 200.5L195.8 201.9L195.9 202.8L196.1 203.1L196.3 205.2L196.4 204.7L196.6 205.3L196.8 204.4L196.9 203.0L197.1 203.3L197.3 202.3L197.5 200.6L197.6 202.2L197.8 202.4L198.0 202.3L198.1 201.5L198.3 201.0L198.5 201.4L198.7 201.7L198.8 202.3L199.0 204.5L199.2 204.2L199.3 202.9L199.5 203.6L199.7 205.4L199.8 206.0L200.0 206.4L200.2 206.3L200.4 206.3L200.5 206.4L200.7 206.2L200.9 205.8L201.0 205.4L201.2 205.1L201.4 205.1L201.6 204.3L201.7 203.0L201.9 201.9L202.1 202.1L202.2 202.5L202.4 204.3L202.6 205.0L202.7 204.9L202.9 205.3L203.1 204.5L203.3 203.4L203.4 202.4L203.6 202.5L203.8 202.0L203.9 202.5L204.1 202.2L204.3 203.4L204.5 201.7L204.6 200.5L204.8 201.7L205.0 200.4L205.1 203.1L205.3 203.5L205.5 204.4L205.6 205.4L205.8 205.3L206.0 205.6L206.2 205.5L206.3 205.5L206.5 206.3L206.7 207.1L206.8 207.3L207.0 207.4L207.2 207.4L207.4 207.0L207.5 206.7L207.7 206.1L207.9 204.5L208.0 204.1L208.2 203.0L208.4 203.3L208.5 203.3L208.7 203.7L208.9 203.6L209.1 203.9L209.2 203.8L209.4 204.0L209.6 203.4L209.7 203.3L209.9 201.8L210.1 200.9L210.3 198.9L210.4 198.8L210.6 200.9L210.8 200.6L210.9 202.2L211.1 201.7L211.3 202.8L211.4 204.5L211.6 205.3L211.8 206.9L212.0 207.0L212.1 206.5L212.3 206.0L212.5 205.8L212.6 205.3L212.8 205.5L213.0 205.7L213.2 205.7L213.3 206.2L213.5 206.7L213.7 206.9L213.8 207.1L214.0 207.4L214.2 207.3L214.3 207.3L214.5 207.5L214.7 207.5L214.9 206.9L215.0 206.9L215.2 206.7L215.4 206.4L215.5 206.6L215.7 206.8L215.9 206.9L216.0 207.1L216.2 207.0L216.4 207.1L216.6 206.9L216.7 206.9L216.9 207.3L217.1 207.3L217.2 207.7L217.4 207.7L217.6 207.6L217.8 207.3L217.9 207.1L218.1 206.0L218.3 205.8L218.4 205.1L218.6 204.9L218.8 202.9L218.9 203.3L219.1 203.8L219.3 204.0L219.5 204.6L219.6 204.7L219.8 205.1L220.0 204.7L220.1 203.8L220.3 200.1L220.5 197.9L220.7 199.5L220.8 199.1L221.0 198.9L221.2 199.5L221.3 200.0L221.5 200.7L221.7 201.8L221.8 204.8L222.0 206.9L222.2 207.2L222.4 207.6L222.5 207.4L222.7 207.0L222.9 206.9L223.0 206.9L223.2 206.9L223.4 207.0L223.6 207.0L223.7 207.2L223.9 207.3L224.1 207.4L224.2 207.3L224.4 207.3L224.6 207.4L224.7 207.1L224.9 207.1L225.1 206.9L225.3 207.0L225.4 206.8L225.6 206.8L225.8 206.8L225.9 206.9L226.1 207.1L226.3 207.3L226.5 207.5L226.6 207.3L226.8 207.5L227.0 207.6L227.1 207.6L227.3 207.5L227.5 207.1L227.6 206.6L227.8 206.7L228.0 206.5L228.2 206.9L228.3 206.6L228.5 206.8L228.7 207.0L228.8 207.1L229.0 207.3L229.2 207.4L229.4 207.6L229.5 207.7L229.7 207.7L229.9 207.8L230.0 207.6L230.2 207.6L230.4 207.6L230.5 207.5L230.7 207.2L230.9 207.2L231.1 206.8L231.2 206.6L231.4 206.5L231.6 206.8L231.7 206.5L231.9 206.8L232.1 206.9L232.3 207.2L232.4 207.4L232.6 207.6L232.8 207.7L232.9 207.6L233.1 207.5L233.3 207.4L233.4 207.3L233.6 207.5L233.8 207.6L234.0 207.8L234.1 207.9L234.3 207.7L234.5 207.2L234.6 206.6L234.8 205.7L235.0 205.3L235.2 204.8L235.3 204.5L235.5 202.1L235.7 203.8L235.8 203.6L236.0 204.7L236.2 205.7L236.3 204.9L236.5 204.6L236.7 203.7L236.9 204.1L237.0 202.6L237.2 202.0L237.4 196.7L237.5 193.8L237.7 196.0L237.9 201.2L238.0 203.6L238.2 204.5L238.4 203.0L238.6 202.0L238.7 200.5L238.9 197.4L239.1 198.4L239.2 200.1L239.4 201.3L239.6 201.8L239.8 202.3L239.9 203.9L240.1 204.7L240.3 204.6L240.4 205.0L240.6 204.8L240.8 204.0L240.9 204.6L241.1 203.6L241.3 203.5L241.5 201.6L241.6 199.6L241.8 197.9L242.0 199.6L242.1 197.7L242.3 197.5L242.5 198.5L242.7 199.4L242.8 202.8L243.0 204.6L243.2 204.9L243.3 205.0L243.5 202.7L243.7 201.3L243.8 200.4L244.0 199.3L244.2 199.0L244.4 197.6L244.5 199.2L244.7 199.6L244.9 200.2L245.0 199.4L245.2 200.8L245.4 200.3L245.6 200.4L245.7 201.4L245.9 202.2L246.1 201.3L246.2 202.3L246.4 202.4L246.6 202.2L246.7 203.8L246.9 204.4L247.1 204.2L247.3 205.6L247.4 205.6L247.6 204.8L247.8 204.1L247.9 203.6L248.1 203.3L248.3 203.9L248.5 204.6L248.6 205.1L248.8 206.1L249.0 206.4L249.1 207.0L249.3 207.3L249.5 207.2L249.6 207.0L249.8 206.8L250.0 206.1L250.2 206.1L250.3 206.2L250.5 206.4L250.7 206.5L250.8 206.9L251.0 206.7L251.2 206.6L251.4 206.3L251.5 206.6L251.7 206.3L251.9 206.3L252.0 205.5L252.2 205.9L252.4 205.3L252.5 204.9L252.7 204.8L252.9 204.5L253.1 204.2L253.2 203.8L253.4 203.1L253.6 202.6L253.7 202.9L253.9 202.5L254.1 201.9L254.3 200.2L254.4 201.4L254.6 202.4L254.8 203.3L254.9 204.2L255.1 204.0L255.3 203.5L255.4 202.4L255.6 201.0L255.8 201.2L256.0 202.7L256.1 203.7L256.3 204.0L256.5 204.3L256.6 202.8L256.8 201.5L257.0 200.1L257.1 200.5L257.3 201.4L257.5 203.0L257.7 203.6L257.8 205.0L258.0 205.0L258.2 205.0L258.3 205.5L258.5 205.5L258.7 205.6L258.9 206.2L259.0 206.0L259.2 206.1L259.4 205.2L259.5 204.9L259.7 203.8L259.9 202.7L260.0 204.2L260.2 204.7L260.4 205.2L260.6 205.6L260.7 204.8L260.9 204.3L261.1 203.6L261.2 203.3L261.4 203.8L261.6 204.1L261.8 204.5L261.9 205.2L262.1 204.3L262.3 203.8L262.4 203.7L262.6 203.5L262.8 202.1L262.9 200.6L263.1 198.9L263.3 195.7L263.5 197.9L263.6 197.0L263.8 197.0L264.0 197.7L264.1 200.2L264.3 203.1L264.5 204.8L264.7 205.8L264.8 205.6L265.0 205.0L265.2 203.2L265.3 201.5L265.5 201.2L265.7 202.9L265.8 203.9L266.0 205.8L266.2 206.4L266.4 204.6L266.5 204.4L266.7 203.7L266.9 202.3L267.0 201.8L267.2 199.4L267.4 197.8L267.6 198.4L267.7 200.1L267.9 202.0L268.1 203.6L268.2 204.3L268.4 203.7L268.6 203.3L268.7 201.6L268.9 196.1L269.1 192.9L269.3 195.3L269.4 196.8L269.6 197.9L269.8 199.4L269.9 203.0L270.1 204.4L270.3 206.2L270.5 205.9L270.6 205.6L270.8 204.7L271.0 204.7L271.1 204.7L271.3 205.0L271.5 204.5L271.6 204.7L271.8 204.7L272.0 205.1L272.2 204.3L272.3 204.4L272.5 204.4L272.7 204.6L272.8 205.4L273.0 205.6L273.2 206.0L273.4 206.6L273.5 207.0L273.7 207.4L273.9 207.3L274.0 206.9L274.2 206.0L274.4 205.5L274.5 205.7L274.7 206.2L274.9 206.9L275.1 207.5L275.2 207.3L275.4 207.4L275.6 207.5L275.7 207.5L275.9 207.5L276.1 207.5L276.3 207.4L276.4 207.4L276.6 207.3L276.8 207.4L276.9 207.5L277.1 207.6L277.3 207.7L277.4 207.7L277.6 207.8L277.8 207.7L278.0 207.8L278.1 207.7L278.3 207.5L278.5 207.4L278.6 207.2L278.8 207.0L279.0 207.1L279.1 206.9L279.3 206.7L279.5 207.1L279.7 207.3L279.8 207.4L280.0 207.7L280.2 207.7L280.3 207.7L280.5 207.6L280.7 207.6L280.9 207.5L281.0 207.4L281.2 207.3L281.4 207.2L281.5 207.2L281.7 207.4L281.9 207.4L282.0 207.6L282.2 207.6L282.4 207.5L282.6 207.5L282.7 207.5L282.9 207.2L283.1 207.2L283.2 207.0L283.4 206.5L283.6 206.7L283.8 206.9L283.9 207.3L284.1 207.6L284.3 207.7L284.4 207.6L284.6 207.6L284.8 207.4L284.9 207.3L285.1 207.4L285.3 207.5L285.5 207.7L285.6 207.6L285.8 207.4L286.0 207.4L286.1 207.0L286.3 206.6L286.5 207.0L286.7 207.4L286.8 207.5L287.0 207.5L287.2 207.1L287.3 206.9L287.5 206.2L287.7 205.7L287.8 205.8L288.0 205.9L288.2 206.2L288.4 205.9L288.5 204.5L288.7 204.1L288.9 203.0L289.0 200.9L289.2 202.1L289.4 203.3L289.6 203.9L289.7 205.3L289.9 204.9L290.1 204.5L290.2 204.3L290.4 204.3L290.6 204.5L290.7 205.5L290.9 205.6L291.1 205.9L291.3 205.8L291.4 205.8L291.6 205.6L291.8 205.5L291.9 205.0L292.1 204.7L292.3 204.1L292.5 204.1L292.6 203.7L292.8 202.3L293.0 201.1L293.1 199.3L293.3 200.0L293.5 200.2L293.6 200.7L293.8 200.4L294.0 201.1L294.2 200.1L294.3 198.5L294.5 199.2L294.7 196.5L294.8 196.8L295.0 197.4L295.2 195.0L295.4 197.6L295.5 199.9L295.7 201.7L295.9 203.5L296.0 205.1L296.2 205.4L296.4 204.6L296.5 204.2L296.7 202.9L296.9 202.2L297.1 201.4L297.2 200.8L297.4 198.3L297.6 199.3L297.7 198.5L297.9 198.6L298.1 199.4" fill="none" stroke="#E69F00" stroke-width="1.45" stroke-linejoin="round" stroke-linecap="butt"/>
<path d="M52.5 205.5L52.7 205.0L52.8 206.2L53.0 207.5L53.2 207.8L53.4 207.9L53.5 208.0L53.7 208.2L53.9 208.2L54.0 208.1L54.2 208.1L54.4 208.1L54.5 208.0L54.7 208.0L54.9 208.1L55.1 208.1L55.2 208.2L55.4 208.1L55.6 208.1L55.7 208.1L55.9 208.1L56.1 208.0L56.3 208.1L56.4 208.2L56.6 208.0L56.8 208.0L56.9 207.9L57.1 208.0L57.3 208.0L57.4 208.0L57.6 207.9L57.8 208.0L58.0 208.0L58.1 207.8L58.3 207.8L58.5 208.1L58.6 208.0L58.8 208.1L59.0 208.1L59.2 208.1L59.3 208.0L59.5 208.0L59.7 208.0L59.8 208.2L60.0 208.1L60.2 207.8L60.3 208.1L60.5 207.9L60.7 207.8L60.9 207.9L61.0 207.9L61.2 208.0L61.4 208.1L61.5 208.2L61.7 208.1L61.9 207.9L62.1 208.0L62.2 207.9L62.4 208.2L62.6 208.2L62.7 208.2L62.9 207.7L63.1 207.9L63.2 207.6L63.4 208.1L63.6 207.8L63.8 207.4L63.9 207.0L64.1 207.6L64.3 205.9L64.4 204.5L64.6 203.6L64.8 204.7L64.9 207.3L65.1 206.8L65.3 205.0L65.5 204.2L65.6 201.5L65.8 203.0L66.0 202.9L66.1 201.7L66.3 202.3L66.5 198.0L66.7 203.7L66.8 205.6L67.0 207.1L67.2 207.0L67.3 206.4L67.5 206.7L67.7 206.8L67.8 204.8L68.0 204.7L68.2 207.0L68.4 207.2L68.5 206.7L68.7 206.1L68.9 205.4L69.0 206.5L69.2 205.7L69.4 206.3L69.6 206.9L69.7 207.3L69.9 206.9L70.1 206.6L70.2 206.4L70.4 207.0L70.6 206.9L70.7 207.5L70.9 207.6L71.1 207.6L71.3 207.7L71.4 207.5L71.6 207.5L71.8 207.6L71.9 207.8L72.1 207.7L72.3 207.8L72.5 207.7L72.6 207.7L72.8 207.7L73.0 207.7L73.1 207.9L73.3 208.1L73.5 207.5L73.6 207.3L73.8 207.4L74.0 207.5L74.2 207.6L74.3 206.9L74.5 207.6L74.7 207.7L74.8 207.7L75.0 207.9L75.2 208.0L75.4 207.9L75.5 207.8L75.7 207.9L75.9 207.7L76.0 208.0L76.2 207.9L76.4 207.7L76.5 207.7L76.7 208.0L76.9 208.2L77.1 208.0L77.2 207.9L77.4 208.0L77.6 207.8L77.7 207.9L77.9 207.9L78.1 207.9L78.3 207.8L78.4 207.9L78.6 208.0L78.8 207.9L78.9 208.0L79.1 208.2L79.3 208.1L79.4 208.1L79.6 208.2L79.8 208.2L80.0 208.1L80.1 208.1L80.3 208.1L80.5 208.0L80.6 208.0L80.8 207.7L81.0 207.9L81.2 208.0L81.3 207.6L81.5 207.3L81.7 207.6L81.8 207.8L82.0 208.0L82.2 207.7L82.3 207.7L82.5 207.9L82.7 207.8L82.9 207.5L83.0 207.2L83.2 205.8L83.4 205.5L83.5 205.2L83.7 205.4L83.9 205.0L84.1 204.2L84.2 204.8L84.4 205.6L84.6 206.7L84.7 206.5L84.9 207.1L85.1 207.4L85.2 207.8L85.4 207.1L85.6 207.4L85.8 207.7L85.9 207.6L86.1 207.6L86.3 208.0L86.4 207.7L86.6 207.9L86.8 207.5L86.9 207.4L87.1 207.1L87.3 207.3L87.5 206.7L87.6 207.1L87.8 206.3L88.0 206.8L88.1 205.6L88.3 206.8L88.5 207.8L88.7 207.7L88.8 207.7L89.0 207.6L89.2 207.5L89.3 207.1L89.5 207.4L89.7 207.8L89.8 207.5L90.0 206.8L90.2 207.3L90.4 207.1L90.5 207.5L90.7 207.6L90.9 207.5L91.0 207.6L91.2 207.2L91.4 205.5L91.6 205.8L91.7 206.3L91.9 207.1L92.1 207.5L92.2 207.3L92.4 207.1L92.6 205.8L92.7 206.1L92.9 205.2L93.1 205.3L93.3 206.6L93.4 207.6L93.6 207.1L93.8 207.8L93.9 207.1L94.1 206.9L94.3 207.5L94.5 207.8L94.6 207.8L94.8 207.7L95.0 207.5L95.1 207.8L95.3 207.9L95.5 207.9L95.6 207.9L95.8 208.0L96.0 208.1L96.2 208.1L96.3 208.0L96.5 207.8L96.7 207.6L96.8 207.6L97.0 207.8L97.2 207.8L97.4 207.6L97.5 207.7L97.7 207.7L97.9 207.5L98.0 207.8L98.2 208.0L98.4 208.0L98.5 207.7L98.7 207.9L98.9 207.6L99.1 207.7L99.2 208.0L99.4 207.8L99.6 207.7L99.7 207.8L99.9 207.9L100.1 207.9L100.3 207.5L100.4 207.6L100.6 207.6L100.8 207.6L100.9 207.7L101.1 207.6L101.3 207.8L101.4 208.0L101.6 208.0L101.8 207.8L102.0 207.8L102.1 207.8L102.3 208.1L102.5 208.1L102.6 208.1L102.8 208.1L103.0 207.9L103.2 207.8L103.3 207.9L103.5 207.6L103.7 208.0L103.8 207.7L104.0 207.9L104.2 208.0L104.3 208.0L104.5 208.1L104.7 208.1L104.9 207.9L105.0 208.1L105.2 207.8L105.4 207.6L105.5 207.7L105.7 208.0L105.9 208.2L106.1 208.2L106.2 208.1L106.4 207.8L106.6 207.6L106.7 207.5L106.9 206.9L107.1 207.3L107.2 206.2L107.4 207.6L107.6 207.8L107.8 207.3L107.9 207.7L108.1 207.6L108.3 207.1L108.4 207.7L108.6 207.6L108.8 207.8L108.9 207.9L109.1 207.9L109.3 208.0L109.5 208.1L109.6 208.0L109.8 207.9L110.0 207.7L110.1 207.9L110.3 207.6L110.5 207.5L110.7 207.6L110.8 207.8L111.0 207.9L111.2 208.0L111.3 207.8L111.5 207.5L111.7 207.6L111.8 207.3L112.0 207.6L112.2 207.1L112.4 207.2L112.5 206.7L112.7 207.4L112.9 207.1L113.0 207.4L113.2 207.8L113.4 208.0L113.6 208.0L113.7 208.2L113.9 208.2L114.1 208.2L114.2 208.1L114.4 208.0L114.6 208.1L114.7 208.1L114.9 208.1L115.1 208.2L115.3 208.1L115.4 208.0L115.6 208.0L115.8 208.0L115.9 208.1L116.1 208.0L116.3 208.1L116.5 208.1L116.6 208.2L116.8 208.2L117.0 208.1L117.1 208.1L117.3 208.0L117.5 208.0L117.6 208.1L117.8 208.2L118.0 207.9L118.2 207.9L118.3 207.6L118.5 207.7L118.7 207.9L118.8 207.7L119.0 207.8L119.2 207.8L119.4 208.0L119.5 207.9L119.7 207.9L119.9 208.1L120.0 208.0L120.2 208.0L120.4 207.9L120.5 208.1L120.7 208.1L120.9 207.8L121.1 207.8L121.2 207.9L121.4 208.2L121.6 208.1L121.7 207.9L121.9 207.8L122.1 207.8L122.3 207.9L122.4 207.9L122.6 208.1L122.8 208.0L122.9 207.8L123.1 207.9L123.3 207.9L123.4 207.9L123.6 207.8L123.8 207.6L124.0 207.7L124.1 207.6L124.3 208.0L124.5 208.0L124.6 207.8L124.8 208.0L125.0 208.0L125.2 208.1L125.3 207.9L125.5 207.9L125.7 208.0L125.8 207.4L126.0 206.5L126.2 206.0L126.3 206.0L126.5 206.7L126.7 207.0L126.9 207.5L127.0 207.6L127.2 207.7L127.4 207.6L127.5 207.6L127.7 207.7L127.9 207.3L128.0 207.6L128.2 208.0L128.4 208.0L128.6 208.1L128.7 208.2L128.9 208.1L129.1 208.2L129.2 208.2L129.4 208.1L129.6 207.7L129.8 207.7L129.9 207.6L130.1 207.6L130.3 207.8L130.4 207.4L130.6 206.6L130.8 205.9L130.9 205.6L131.1 205.0L131.3 206.8L131.5 203.5L131.6 201.4L131.8 198.5L132.0 193.4L132.1 200.2L132.3 201.2L132.5 193.4L132.7 193.4L132.8 199.1L133.0 203.5L133.2 199.3L133.3 196.0L133.5 197.5L133.7 204.3L133.8 205.5L134.0 204.3L134.2 197.9L134.4 202.2L134.5 204.0L134.7 206.7L134.9 206.4L135.0 202.8L135.2 197.4L135.4 204.7L135.6 206.4L135.7 206.4L135.9 203.5L136.1 204.7L136.2 197.2L136.4 199.6L136.6 205.5L136.7 206.3L136.9 200.8L137.1 193.4L137.3 193.4L137.4 197.9L137.6 205.6L137.8 202.5L137.9 203.7L138.1 193.4L138.3 198.0L138.5 206.2L138.6 207.7L138.8 204.4L139.0 201.6L139.1 200.4L139.3 199.9L139.5 201.6L139.6 205.9L139.8 206.8L140.0 204.7L140.2 205.0L140.3 203.8L140.5 203.0L140.7 205.2L140.8 207.0L141.0 206.5L141.2 205.9L141.4 203.1L141.5 202.3L141.7 202.7L141.9 205.1L142.0 205.9L142.2 206.5L142.4 205.3L142.5 204.8L142.7 202.4L142.9 206.4L143.1 203.0L143.2 206.3L143.4 207.2L143.6 206.9L143.7 206.4L143.9 205.3L144.1 205.5L144.3 205.2L144.4 206.7L144.6 207.0L144.8 207.5L144.9 207.0L145.1 207.6L145.3 207.6L145.4 206.8L145.6 204.9L145.8 206.4L146.0 207.3L146.1 206.6L146.3 206.5L146.5 207.5L146.6 208.0L146.8 207.9L147.0 207.2L147.2 206.9L147.3 206.5L147.5 207.2L147.7 207.3L147.8 207.2L148.0 206.7L148.2 205.9L148.3 205.9L148.5 205.3L148.7 203.4L148.9 203.3L149.0 204.2L149.2 202.9L149.4 202.0L149.5 204.5L149.7 205.7L149.9 201.3L150.0 194.9L150.2 201.6L150.4 206.2L150.6 207.4L150.7 207.5L150.9 207.7L151.1 207.5L151.2 206.3L151.4 205.4L151.6 205.0L151.8 205.1L151.9 206.1L152.1 205.2L152.3 206.5L152.4 206.8L152.6 207.3L152.8 206.8L152.9 206.4L153.1 207.0L153.3 207.3L153.5 207.1L153.6 207.0L153.8 206.7L154.0 206.8L154.1 206.6L154.3 207.6L154.5 207.5L154.7 207.9L154.8 207.1L155.0 206.7L155.2 207.1L155.3 207.2L155.5 206.7L155.7 207.1L155.8 207.9L156.0 207.9L156.2 208.1L156.4 208.1L156.5 208.1L156.7 207.8L156.9 207.3L157.0 207.7L157.2 207.8L157.4 207.9L157.6 208.0L157.7 208.0L157.9 208.2L158.1 208.0L158.2 207.6L158.4 207.5L158.6 207.9L158.7 207.9L158.9 207.9L159.1 208.1L159.3 207.9L159.4 208.0L159.6 208.0L159.8 208.0L159.9 207.6L160.1 207.8L160.3 207.8L160.5 207.7L160.6 207.7L160.8 207.7L161.0 208.0L161.1 207.8L161.3 207.8L161.5 208.1L161.6 208.0L161.8 208.0L162.0 208.1L162.2 208.2L162.3 208.2L162.5 208.1L162.7 208.2L162.8 207.8L163.0 207.5L163.2 207.6L163.4 208.0L163.5 207.8L163.7 207.9L163.9 207.8L164.0 207.8L164.2 207.9L164.4 207.9L164.5 207.9L164.7 207.8L164.9 208.0L165.1 207.9L165.2 208.0L165.4 208.0L165.6 207.7L165.7 207.6L165.9 207.7L166.1 207.8L166.3 208.0L166.4 208.1L166.6 208.0L166.8 208.0L166.9 208.0L167.1 208.0L167.3 208.0L167.4 208.0L167.6 207.9L167.8 207.9L168.0 207.6L168.1 207.5L168.3 206.7L168.5 207.1L168.6 206.9L168.8 207.0L169.0 207.3L169.2 206.7L169.3 206.9L169.5 207.1L169.7 207.1L169.8 207.2L170.0 206.6L170.2 206.6L170.3 206.2L170.5 207.2L170.7 206.8L170.9 207.2L171.0 207.3L171.2 207.4L171.4 207.4L171.5 207.5L171.7 207.4L171.9 207.2L172.0 206.9L172.2 207.7L172.4 207.1L172.6 207.2L172.7 207.0L172.9 206.4L173.1 207.1L173.2 207.7L173.4 207.8L173.6 207.6L173.8 206.4L173.9 206.3L174.1 206.8L174.3 207.1L174.4 206.9L174.6 206.3L174.8 206.5L174.9 207.2L175.1 207.3L175.3 207.6L175.5 206.9L175.6 207.3L175.8 207.3L176.0 205.8L176.1 205.4L176.3 205.0L176.5 204.1L176.7 206.0L176.8 205.9L177.0 205.9L177.2 200.1L177.3 199.6L177.5 205.1L177.7 203.3L177.8 202.2L178.0 204.6L178.2 204.7L178.4 206.4L178.5 207.0L178.7 207.9L178.9 207.1L179.0 207.4L179.2 207.5L179.4 207.9L179.6 207.9L179.7 207.5L179.9 207.7L180.1 207.8L180.2 208.0L180.4 207.7L180.6 207.5L180.7 207.6L180.9 207.8L181.1 208.0L181.3 207.7L181.4 207.9L181.6 207.9L181.8 207.6L181.9 207.8L182.1 208.0L182.3 207.8L182.5 207.5L182.6 206.5L182.8 206.5L183.0 206.6L183.1 206.4L183.3 205.8L183.5 206.7L183.6 205.7L183.8 205.8L184.0 206.0L184.2 207.7L184.3 207.2L184.5 206.8L184.7 207.1L184.8 206.6L185.0 207.0L185.2 207.5L185.4 207.2L185.5 207.3L185.7 207.4L185.9 207.7L186.0 207.7L186.2 207.9L186.4 207.8L186.5 208.0L186.7 208.0L186.9 207.8L187.1 207.7L187.2 207.5L187.4 207.3L187.6 206.8L187.7 206.4L187.9 206.1L188.1 205.6L188.3 206.2L188.4 206.2L188.6 207.2L188.8 206.7L188.9 206.3L189.1 206.9L189.3 202.9L189.4 205.3L189.6 203.9L189.8 203.4L190.0 203.7L190.1 199.6L190.3 203.5L190.5 204.7L190.6 202.7L190.8 204.7L191.0 206.6L191.2 207.2L191.3 207.3L191.5 207.4L191.7 207.4L191.8 207.7L192.0 207.1L192.2 205.5L192.3 206.4L192.5 205.5L192.7 204.8L192.9 203.8L193.0 205.5L193.2 206.4L193.4 206.6L193.5 204.7L193.7 203.3L193.9 206.6L194.0 207.0L194.2 206.8L194.4 206.7L194.6 205.6L194.7 205.2L194.9 204.4L195.1 205.5L195.2 206.2L195.4 205.7L195.6 206.5L195.8 207.5L195.9 207.2L196.1 206.7L196.3 207.9L196.4 207.3L196.6 207.3L196.8 207.3L196.9 206.9L197.1 207.1L197.3 206.8L197.5 205.9L197.6 207.0L197.8 206.4L198.0 206.2L198.1 205.8L198.3 207.3L198.5 207.6L198.7 206.8L198.8 207.1L199.0 207.6L199.2 207.6L199.3 207.7L199.5 207.5L199.7 207.8L199.8 207.9L200.0 207.8L200.2 208.0L200.4 207.7L200.5 208.1L200.7 207.4L200.9 207.8L201.0 207.5L201.2 207.2L201.4 207.4L201.6 207.0L201.7 206.9L201.9 207.5L202.1 206.9L202.2 206.4L202.4 207.3L202.6 207.9L202.7 207.8L202.9 207.6L203.1 207.3L203.3 206.6L203.4 206.3L203.6 206.4L203.8 207.5L203.9 206.1L204.1 206.4L204.3 206.6L204.5 206.6L204.6 206.4L204.8 206.6L205.0 205.3L205.1 206.1L205.3 206.5L205.5 206.5L205.6 207.4L205.8 207.3L206.0 207.6L206.2 207.3L206.3 207.5L206.5 207.5L206.7 207.7L206.8 208.1L207.0 207.9L207.2 208.0L207.4 207.9L207.5 208.2L207.7 207.9L207.9 207.9L208.0 207.6L208.2 207.2L208.4 206.4L208.5 206.9L208.7 206.7L208.9 206.5L209.1 206.2L209.2 206.8L209.4 206.8L209.6 207.5L209.7 207.7L209.9 207.1L210.1 206.7L210.3 206.9L210.4 206.6L210.6 206.3L210.8 206.6L210.9 206.9L211.1 207.2L211.3 206.5L211.4 206.6L211.6 207.2L211.8 207.9L212.0 207.7L212.1 207.6L212.3 207.7L212.5 208.0L212.6 207.8L212.8 207.2L213.0 207.6L213.2 207.0L213.3 207.5L213.5 207.8L213.7 207.7L213.8 207.9L214.0 208.0L214.2 208.1L214.3 208.2L214.5 208.2L214.7 208.1L214.9 208.0L215.0 208.2L215.2 207.9L215.4 207.8L215.5 207.9L215.7 208.0L215.9 208.2L216.0 207.9L216.2 208.0L216.4 207.9L216.6 207.7L216.7 207.7L216.9 207.9L217.1 208.0L217.2 208.1L217.4 208.0L217.6 208.0L217.8 208.0L217.9 207.9L218.1 207.6L218.3 207.4L218.4 207.3L218.6 207.0L218.8 206.5L218.9 206.5L219.1 207.0L219.3 207.3L219.5 207.7L219.6 207.6L219.8 207.4L220.0 207.0L220.1 207.0L220.3 206.4L220.5 206.2L220.7 205.4L220.8 205.6L221.0 206.1L221.2 205.6L221.3 206.9L221.5 206.6L221.7 206.7L221.8 207.4L222.0 208.1L222.2 208.0L222.4 207.9L222.5 208.1L222.7 208.0L222.9 207.8L223.0 207.6L223.2 207.8L223.4 208.0L223.6 208.0L223.7 207.8L223.9 207.9L224.1 208.0L224.2 207.8L224.4 208.2L224.6 208.2L224.7 208.0L224.9 207.9L225.1 208.1L225.3 207.9L225.4 207.9L225.6 207.9L225.8 208.0L225.9 208.0L226.1 208.1L226.3 208.1L226.5 208.1L226.6 207.9L226.8 207.9L227.0 208.2L227.1 208.1L227.3 207.9L227.5 207.9L227.6 207.6L227.8 207.8L228.0 207.7L228.2 208.0L228.3 207.8L228.5 208.1L228.7 207.8L228.8 208.1L229.0 208.2L229.2 208.1L229.4 208.1L229.5 208.1L229.7 208.1L229.9 208.1L230.0 208.2L230.2 208.1L230.4 208.1L230.5 208.0L230.7 207.8L230.9 208.0L231.1 207.9L231.2 207.7L231.4 207.9L231.6 208.1L231.7 208.0L231.9 207.8L232.1 207.9L232.3 207.9L232.4 208.1L232.6 208.1L232.8 208.2L232.9 208.2L233.1 208.1L233.3 208.0L233.4 207.9L233.6 208.2L233.8 208.1L234.0 208.0L234.1 208.1L234.3 208.1L234.5 208.0L234.6 208.0L234.8 207.6L235.0 207.5L235.2 207.3L235.3 207.1L235.5 207.1L235.7 207.7L235.8 207.8L236.0 208.0L236.2 207.8L236.3 207.4L236.5 206.6L236.7 206.6L236.9 207.0L237.0 206.1L237.2 206.7L237.4 205.1L237.5 203.4L237.7 204.0L237.9 206.0L238.0 207.1L238.2 207.7L238.4 207.2L238.6 207.1L238.7 206.1L238.9 205.5L239.1 205.4L239.2 207.1L239.4 206.3L239.6 207.0L239.8 207.6L239.9 207.9L240.1 207.8L240.3 207.2L240.4 207.2L240.6 207.6L240.8 207.3L240.9 207.4L241.1 207.7L241.3 207.7L241.5 207.7L241.6 207.4L241.8 207.3L242.0 207.5L242.1 207.1L242.3 206.9L242.5 206.9L242.7 205.6L242.8 207.0L243.0 207.3L243.2 207.2L243.3 207.1L243.5 206.3L243.7 206.6L243.8 207.0L244.0 206.9L244.2 206.6L244.4 205.9L244.5 206.2L244.7 205.4L244.9 206.1L245.0 204.7L245.2 205.3L245.4 206.1L245.6 205.7L245.7 207.6L245.9 206.5L246.1 206.2L246.2 206.5L246.4 207.5L246.6 205.8L246.7 206.9L246.9 207.3L247.1 206.9L247.3 207.5L247.4 207.8L247.6 207.3L247.8 207.5L247.9 206.9L248.1 206.9L248.3 206.7L248.5 207.6L248.6 207.2L248.8 207.6L249.0 207.4L249.1 207.9L249.3 207.8L249.5 207.8L249.6 207.8L249.8 207.9L250.0 207.6L250.2 207.6L250.3 207.8L250.5 208.0L250.7 208.0L250.8 207.8L251.0 207.8L251.2 207.6L251.4 207.6L251.5 207.8L251.7 207.7L251.9 207.8L252.0 207.3L252.2 207.5L252.4 207.4L252.5 207.8L252.7 207.4L252.9 207.5L253.1 207.5L253.2 206.9L253.4 207.3L253.6 207.1L253.7 206.7L253.9 206.2L254.1 206.7L254.3 206.0L254.4 206.3L254.6 207.2L254.8 207.8L254.9 207.9L255.1 207.4L255.3 207.1L255.4 207.5L255.6 207.1L255.8 207.0L256.0 207.2L256.1 207.2L256.3 206.4L256.5 207.2L256.6 206.8L256.8 206.9L257.0 206.8L257.1 207.1L257.3 206.9L257.5 207.3L257.7 207.1L257.8 207.4L258.0 207.7L258.2 207.0L258.3 207.7L258.5 207.5L258.7 207.1L258.9 207.7L259.0 207.4L259.2 207.4L259.4 207.2L259.5 207.8L259.7 206.8L259.9 206.7L260.0 207.4L260.2 207.0L260.4 207.6L260.6 207.4L260.7 207.4L260.9 207.1L261.1 207.4L261.2 207.3L261.4 207.6L261.6 207.6L261.8 207.4L261.9 207.6L262.1 207.3L262.3 206.7L262.4 207.0L262.6 207.7L262.8 207.2L262.9 206.5L263.1 205.3L263.3 203.8L263.5 204.5L263.6 205.1L263.8 204.7L264.0 206.5L264.1 205.7L264.3 206.7L264.5 207.2L264.7 207.7L264.8 207.6L265.0 207.6L265.2 206.9L265.3 207.2L265.5 206.2L265.7 206.6L265.8 206.4L266.0 207.5L266.2 207.7L266.4 207.3L266.5 207.3L266.7 207.1L266.9 207.3L267.0 207.4L267.2 206.9L267.4 206.3L267.6 206.9L267.7 207.4L267.9 207.2L268.1 206.9L268.2 207.3L268.4 206.9L268.6 206.5L268.7 205.9L268.9 205.1L269.1 204.9L269.3 207.0L269.4 206.7L269.6 205.8L269.8 206.8L269.9 206.5L270.1 206.7L270.3 207.7L270.5 207.4L270.6 207.8L270.8 207.8L271.0 207.7L271.1 207.5L271.3 207.5L271.5 207.6L271.6 206.9L271.8 207.1L272.0 207.3L272.2 207.0L272.3 207.1L272.5 207.3L272.7 207.5L272.8 208.0L273.0 207.4L273.2 207.8L273.4 208.1L273.5 208.1L273.7 208.2L273.9 207.9L274.0 207.8L274.2 207.4L274.4 207.0L274.5 207.3L274.7 207.5L274.9 208.0L275.1 208.1L275.2 208.1L275.4 208.1L275.6 208.1L275.7 208.0L275.9 208.0L276.1 208.0L276.3 208.2L276.4 208.0L276.6 207.9L276.8 208.0L276.9 208.2L277.1 208.1L277.3 208.0L277.4 208.2L277.6 208.1L277.8 208.3L278.0 208.2L278.1 208.0L278.3 208.0L278.5 208.0L278.6 208.0L278.8 208.0L279.0 207.7L279.1 207.6L279.3 207.8L279.5 208.0L279.7 208.0L279.8 207.8L280.0 208.0L280.2 208.0L280.3 208.1L280.5 208.2L280.7 208.0L280.9 208.0L281.0 208.1L281.2 208.1L281.4 208.1L281.5 208.1L281.7 208.2L281.9 208.0L282.0 208.1L282.2 208.0L282.4 208.1L282.6 208.0L282.7 208.0L282.9 207.8L283.1 207.8L283.2 207.8L283.4 207.9L283.6 208.1L283.8 208.1L283.9 208.1L284.1 208.2L284.3 208.2L284.4 208.0L284.6 208.0L284.8 208.2L284.9 208.2L285.1 208.2L285.3 208.1L285.5 208.0L285.6 208.1L285.8 208.0L286.0 208.0L286.1 207.8L286.3 207.6L286.5 207.8L286.7 207.9L286.8 208.0L287.0 208.1L287.2 208.1L287.3 207.9L287.5 207.8L287.7 207.7L287.8 207.7L288.0 207.7L288.2 208.0L288.4 207.9L288.5 207.1L288.7 207.2L288.9 206.3L289.0 206.8L289.2 207.5L289.4 207.2L289.6 207.0L289.7 207.6L289.9 207.3L290.1 207.0L290.2 206.8L290.4 207.1L290.6 207.3L290.7 207.9L290.9 207.7L291.1 207.7L291.3 207.4L291.4 207.8L291.6 207.9L291.8 207.9L291.9 207.4L292.1 208.0L292.3 207.9L292.5 206.8L292.6 206.7L292.8 207.2L293.0 206.7L293.1 205.6L293.3 205.6L293.5 206.2L293.6 206.8L293.8 206.0L294.0 206.4L294.2 205.7L294.3 205.3L294.5 206.1L294.7 204.1L294.8 205.3L295.0 205.2L295.2 205.4L295.4 205.9L295.5 206.4L295.7 207.0L295.9 207.1L296.0 207.1L296.2 207.0L296.4 206.6L296.5 207.0L296.7 206.2L296.9 206.2L297.1 205.3L297.2 206.6L297.4 204.7L297.6 206.1L297.7 205.0L297.9 205.8L298.1 205.4" fill="none" stroke="#56B4E9" stroke-width="1.45" stroke-linejoin="round" stroke-linecap="butt"/>
<path d="M52.5 217.1L52.7 214.9L52.8 212.0L53.0 210.3L53.2 210.2L53.4 210.1L53.5 209.8L53.7 209.4L53.9 209.6L54.0 209.4L54.2 209.4L54.4 209.3L54.5 209.1L54.7 209.1L54.9 209.2L55.1 209.1L55.2 209.3L55.4 209.1L55.6 209.1L55.7 209.1L55.9 209.0L56.1 209.0L56.3 209.1L56.4 209.2L56.6 209.0L56.8 209.1L56.9 209.1L57.1 209.5L57.3 209.3L57.4 209.7L57.6 209.5L57.8 209.6L58.0 209.7L58.1 209.5L58.3 209.6L58.5 210.0L58.6 209.8L58.8 209.8L59.0 210.1L59.2 210.0L59.3 209.9L59.5 209.7L59.7 209.9L59.8 210.1L60.0 210.2L60.2 209.8L60.3 210.0L60.5 209.7L60.7 209.8L60.9 209.9L61.0 209.6L61.2 209.6L61.4 209.6L61.5 209.5L61.7 209.3L61.9 209.3L62.1 209.4L62.2 209.2L62.4 209.6L62.6 209.6L62.7 209.5L62.9 209.7L63.1 210.0L63.2 210.2L63.4 210.6L63.6 210.5L63.8 210.9L63.9 212.4L64.1 215.3L64.3 219.3L64.4 218.2L64.6 216.8L64.8 216.0L64.9 214.2L65.1 214.7L65.3 216.4L65.5 224.1L65.6 226.4L65.8 226.9L66.0 225.0L66.1 223.6L66.3 229.7L66.5 221.2L66.7 217.4L66.8 214.4L67.0 213.0L67.2 212.6L67.3 215.0L67.5 219.0L67.7 222.5L67.8 221.9L68.0 220.7L68.2 221.0L68.4 219.0L68.5 219.6L68.7 217.6L68.9 216.2L69.0 217.8L69.2 215.8L69.4 215.2L69.6 214.2L69.7 212.0L69.9 211.5L70.1 212.2L70.2 212.1L70.4 212.7L70.6 213.4L70.7 213.4L70.9 212.3L71.1 211.6L71.3 211.3L71.4 210.7L71.6 210.5L71.8 210.0L71.9 209.8L72.1 209.6L72.3 209.7L72.5 209.6L72.6 209.9L72.8 209.7L73.0 210.2L73.1 210.5L73.3 210.6L73.5 210.1L73.6 210.6L73.8 210.6L74.0 210.7L74.2 211.0L74.3 210.1L74.5 210.6L74.7 210.6L74.8 210.5L75.0 210.8L75.2 211.1L75.4 210.9L75.5 210.9L75.7 210.5L75.9 210.1L76.0 210.1L76.2 209.8L76.4 209.5L76.5 209.5L76.7 209.6L76.9 209.8L77.1 209.6L77.2 209.5L77.4 209.7L77.6 209.5L77.7 209.8L77.9 209.8L78.1 210.4L78.3 210.1L78.4 210.0L78.6 209.8L78.8 209.4L78.9 209.2L79.1 209.3L79.3 209.1L79.4 209.0L79.6 209.1L79.8 209.1L80.0 209.2L80.1 209.2L80.3 209.2L80.5 209.3L80.6 209.5L80.8 209.3L81.0 209.6L81.2 209.8L81.3 209.6L81.5 209.5L81.7 209.8L81.8 209.8L82.0 210.1L82.2 210.0L82.3 210.0L82.5 210.2L82.7 209.9L82.9 209.9L83.0 210.6L83.2 211.5L83.4 212.5L83.5 214.3L83.7 215.6L83.9 216.1L84.1 215.8L84.2 214.7L84.4 213.0L84.6 212.0L84.7 212.1L84.9 210.5L85.1 210.7L85.2 211.1L85.4 210.8L85.6 210.2L85.8 210.5L85.9 210.6L86.1 210.9L86.3 211.1L86.4 211.5L86.6 212.0L86.8 211.6L86.9 211.7L87.1 211.0L87.3 211.2L87.5 212.5L87.6 212.3L87.8 215.6L88.0 218.4L88.1 215.5L88.3 212.6L88.5 210.3L88.7 210.3L88.8 210.7L89.0 211.7L89.2 211.1L89.3 210.8L89.5 211.1L89.7 211.6L89.8 212.6L90.0 211.2L90.2 211.9L90.4 210.9L90.5 210.8L90.7 210.1L90.9 210.8L91.0 212.8L91.2 213.8L91.4 213.2L91.6 214.7L91.7 213.1L91.9 212.3L92.1 211.3L92.2 211.1L92.4 211.5L92.6 211.8L92.7 213.2L92.9 217.2L93.1 220.2L93.3 219.3L93.4 215.1L93.6 212.4L93.8 212.8L93.9 211.5L94.1 211.3L94.3 210.8L94.5 211.2L94.6 210.4L94.8 210.4L95.0 210.2L95.1 210.3L95.3 210.0L95.5 209.9L95.6 210.0L95.8 210.0L96.0 210.6L96.2 210.6L96.3 210.9L96.5 210.8L96.7 210.1L96.8 209.3L97.0 209.1L97.2 209.4L97.4 209.4L97.5 209.9L97.7 210.5L97.9 209.6L98.0 210.1L98.2 209.9L98.4 209.6L98.5 209.7L98.7 209.8L98.9 210.0L99.1 210.4L99.2 210.4L99.4 210.4L99.6 210.4L99.7 211.0L99.9 211.1L100.1 210.9L100.3 210.5L100.4 210.1L100.6 210.4L100.8 210.2L100.9 210.5L101.1 210.3L101.3 210.5L101.4 210.5L101.6 210.5L101.8 210.1L102.0 210.1L102.1 209.5L102.3 209.7L102.5 209.3L102.6 209.2L102.8 209.5L103.0 209.8L103.2 210.4L103.3 210.8L103.5 210.3L103.7 210.3L103.8 210.0L104.0 209.8L104.2 210.0L104.3 210.2L104.5 209.7L104.7 209.8L104.9 209.8L105.0 210.3L105.2 209.8L105.4 209.9L105.5 209.5L105.7 209.7L105.9 209.7L106.1 209.7L106.2 209.5L106.4 210.1L106.6 211.1L106.7 211.3L106.9 212.8L107.1 214.8L107.2 212.6L107.4 211.3L107.6 210.2L107.8 210.6L107.9 210.7L108.1 210.7L108.3 210.5L108.4 210.2L108.6 209.9L108.8 209.8L108.9 209.5L109.1 209.3L109.3 209.3L109.5 209.3L109.6 209.2L109.8 209.5L110.0 209.9L110.1 210.6L110.3 210.8L110.5 210.2L110.7 209.8L110.8 209.7L111.0 209.9L111.2 210.0L111.3 209.9L111.5 209.9L111.7 210.1L111.8 210.3L112.0 210.4L112.2 210.7L112.4 212.4L112.5 213.2L112.7 212.9L112.9 211.8L113.0 210.6L113.2 210.6L113.4 210.1L113.6 209.8L113.7 209.7L113.9 209.6L114.1 209.4L114.2 209.1L114.4 209.1L114.6 209.2L114.7 209.1L114.9 209.2L115.1 209.1L115.3 209.2L115.4 209.1L115.6 209.3L115.8 209.5L115.9 209.5L116.1 209.1L116.3 209.3L116.5 209.1L116.6 209.2L116.8 209.2L117.0 209.2L117.1 209.3L117.3 209.3L117.5 209.5L117.6 209.9L117.8 210.2L118.0 210.0L118.2 210.0L118.3 209.8L118.5 210.0L118.7 210.3L118.8 210.1L119.0 210.0L119.2 210.0L119.4 210.0L119.5 209.6L119.7 209.3L119.9 209.2L120.0 209.0L120.2 209.3L120.4 209.7L120.5 210.0L120.7 210.4L120.9 209.6L121.1 209.3L121.2 209.1L121.4 209.2L121.6 209.2L121.7 209.5L121.9 209.8L122.1 209.8L122.3 210.1L122.4 210.0L122.6 209.8L122.8 210.0L122.9 209.9L123.1 210.1L123.3 210.0L123.4 210.2L123.6 210.2L123.8 210.1L124.0 210.0L124.1 210.3L124.3 210.3L124.5 209.8L124.6 209.8L124.8 209.8L125.0 209.8L125.2 209.9L125.3 209.5L125.5 209.8L125.7 209.8L125.8 210.9L126.0 212.0L126.2 213.3L126.3 212.7L126.5 212.2L126.7 212.3L126.9 211.5L127.0 211.2L127.2 211.2L127.4 210.6L127.5 210.9L127.7 210.3L127.9 210.9L128.0 210.5L128.2 210.4L128.4 210.3L128.6 210.1L128.7 209.9L128.9 209.6L129.1 209.6L129.2 209.9L129.4 210.6L129.6 210.2L129.8 210.5L129.9 210.1L130.1 210.4L130.3 210.3L130.4 210.9L130.6 212.3L130.8 214.7L130.9 220.3L131.1 222.7L131.3 218.0L131.5 229.3L131.6 231.3L131.8 226.6L132.0 253.5L132.1 223.0L132.3 220.9L132.5 244.1L132.7 263.5L132.8 219.5L133.0 213.3L133.2 222.7L133.3 232.8L133.5 227.6L133.7 217.5L133.8 215.2L134.0 225.0L134.2 233.0L134.4 224.3L134.5 217.7L134.7 213.0L134.9 222.0L135.0 226.4L135.2 230.6L135.4 224.2L135.6 219.2L135.7 216.8L135.9 226.8L136.1 238.8L136.2 246.9L136.4 224.4L136.6 217.2L136.7 224.0L136.9 234.7L137.1 250.7L137.3 260.2L137.4 225.5L137.6 217.6L137.8 225.1L137.9 236.1L138.1 255.2L138.3 229.1L138.5 222.8L138.6 214.4L138.8 223.1L139.0 229.2L139.1 235.7L139.3 229.6L139.5 218.0L139.6 213.2L139.8 217.1L140.0 223.0L140.2 230.3L140.3 235.2L140.5 226.2L140.7 218.8L140.8 215.6L141.0 215.2L141.2 219.8L141.4 223.6L141.5 228.1L141.7 223.4L141.9 218.8L142.0 214.2L142.2 213.7L142.4 217.6L142.5 222.0L142.7 226.8L142.9 223.3L143.1 216.8L143.2 214.2L143.4 211.9L143.6 213.7L143.7 216.2L143.9 217.2L144.1 219.0L144.3 220.7L144.4 219.4L144.6 217.4L144.8 214.8L144.9 211.2L145.1 211.8L145.3 212.8L145.4 214.1L145.6 215.1L145.8 218.7L146.0 218.1L146.1 215.6L146.3 214.0L146.5 213.4L146.6 211.7L146.8 212.4L147.0 212.0L147.2 212.8L147.3 212.7L147.5 211.7L147.7 211.7L147.8 211.1L148.0 213.2L148.2 215.0L148.3 218.9L148.5 222.4L148.7 222.9L148.9 225.2L149.0 226.6L149.2 223.1L149.4 223.4L149.5 218.9L149.7 219.1L149.9 225.2L150.0 224.8L150.2 227.0L150.4 221.2L150.6 213.7L150.7 213.6L150.9 213.6L151.1 215.4L151.2 214.4L151.4 214.8L151.6 213.8L151.8 214.2L151.9 215.1L152.1 214.8L152.3 214.5L152.4 213.9L152.6 214.7L152.8 212.1L152.9 212.2L153.1 212.5L153.3 212.0L153.5 212.3L153.6 212.3L153.8 212.1L154.0 212.3L154.1 212.8L154.3 212.5L154.5 212.1L154.7 212.4L154.8 211.1L155.0 211.1L155.2 210.8L155.3 210.4L155.5 210.4L155.7 210.3L155.8 210.4L156.0 210.3L156.2 210.4L156.4 210.3L156.5 210.8L156.7 210.9L156.9 211.6L157.0 211.3L157.2 210.6L157.4 209.9L157.6 209.4L157.7 209.6L157.9 210.1L158.1 210.6L158.2 210.7L158.4 210.7L158.6 210.8L158.7 210.4L158.9 209.9L159.1 209.9L159.3 209.7L159.4 209.8L159.6 209.7L159.8 209.8L159.9 209.5L160.1 209.9L160.3 210.2L160.5 210.1L160.6 210.6L160.8 210.3L161.0 211.3L161.1 210.5L161.3 210.3L161.5 210.0L161.6 209.3L161.8 209.3L162.0 209.4L162.2 209.6L162.3 209.8L162.5 210.1L162.7 210.1L162.8 210.5L163.0 210.4L163.2 211.0L163.4 211.4L163.5 211.1L163.7 211.1L163.9 210.6L164.0 210.2L164.2 210.1L164.4 209.9L164.5 209.4L164.7 209.3L164.9 209.4L165.1 209.4L165.2 209.5L165.4 209.9L165.6 209.9L165.7 210.1L165.9 210.1L166.1 209.9L166.3 209.6L166.4 209.5L166.6 209.1L166.8 209.1L166.9 209.2L167.1 209.1L167.3 209.0L167.4 209.2L167.6 209.5L167.8 210.0L168.0 210.3L168.1 211.1L168.3 210.7L168.5 211.4L168.6 211.7L168.8 211.6L169.0 211.7L169.2 212.1L169.3 212.3L169.5 212.9L169.7 212.5L169.8 213.4L170.0 212.2L170.2 212.1L170.3 212.5L170.5 213.4L170.7 213.3L170.9 213.5L171.0 211.9L171.2 210.4L171.4 210.6L171.5 210.8L171.7 210.3L171.9 210.6L172.0 210.3L172.2 211.4L172.4 212.3L172.6 212.7L172.7 215.2L172.9 215.4L173.1 215.4L173.2 214.6L173.4 213.1L173.6 212.1L173.8 212.0L173.9 215.0L174.1 216.7L174.3 219.9L174.4 216.8L174.6 217.3L174.8 214.6L174.9 215.7L175.1 214.7L175.3 215.4L175.5 215.4L175.6 217.7L175.8 217.6L176.0 217.1L176.1 216.1L176.3 216.9L176.5 219.0L176.7 218.7L176.8 214.1L177.0 218.8L177.2 222.9L177.3 228.1L177.5 229.4L177.7 222.5L177.8 217.7L178.0 217.8L178.2 215.5L178.4 213.7L178.5 213.7L178.7 212.8L178.9 212.1L179.0 211.8L179.2 211.0L179.4 210.8L179.6 211.1L179.7 210.5L179.9 210.7L180.1 210.7L180.2 210.8L180.4 210.8L180.6 210.5L180.7 210.9L180.9 210.3L181.1 210.4L181.3 210.0L181.4 210.0L181.6 210.0L181.8 209.7L181.9 209.9L182.1 210.7L182.3 211.8L182.5 212.4L182.6 211.9L182.8 212.6L183.0 213.5L183.1 212.8L183.3 212.8L183.5 213.8L183.6 213.3L183.8 213.1L184.0 213.4L184.2 214.0L184.3 213.2L184.5 211.5L184.7 212.0L184.8 210.8L185.0 211.2L185.2 212.0L185.4 211.5L185.5 211.1L185.7 210.4L185.9 210.1L186.0 209.7L186.2 209.9L186.4 210.0L186.5 210.1L186.7 210.2L186.9 210.2L187.1 211.1L187.2 212.2L187.4 212.3L187.6 212.9L187.7 212.9L187.9 213.0L188.1 213.4L188.3 213.4L188.4 215.6L188.6 217.0L188.8 216.4L188.9 219.4L189.1 221.3L189.3 221.2L189.4 228.2L189.6 223.4L189.8 221.0L190.0 222.8L190.1 219.7L190.3 218.6L190.5 221.4L190.6 218.1L190.8 220.4L191.0 219.9L191.2 216.1L191.3 214.2L191.5 212.0L191.7 211.1L191.8 212.3L192.0 212.5L192.2 212.6L192.3 214.1L192.5 217.2L192.7 216.9L192.9 216.6L193.0 217.5L193.2 217.6L193.4 219.0L193.5 217.6L193.7 218.6L193.9 221.3L194.0 220.3L194.2 222.5L194.4 223.1L194.6 219.2L194.7 218.0L194.9 214.6L195.1 213.4L195.2 213.3L195.4 213.3L195.6 214.7L195.8 214.2L195.9 213.1L196.1 212.3L196.3 211.3L196.4 211.3L196.6 210.7L196.8 211.6L196.9 212.6L197.1 212.5L197.3 213.2L197.5 213.9L197.6 213.5L197.8 212.7L198.0 212.6L198.1 213.0L198.3 215.0L198.5 214.9L198.7 213.8L198.8 213.5L199.0 211.8L199.2 212.2L199.3 213.5L199.5 212.6L199.7 211.1L199.8 210.6L200.0 210.1L200.2 210.4L200.4 210.0L200.5 210.4L200.7 209.9L200.9 210.7L201.0 210.8L201.2 210.8L201.4 211.0L201.6 211.4L201.7 212.5L201.9 214.3L202.1 213.5L202.2 212.5L202.4 211.7L202.6 211.7L202.7 211.6L202.9 211.0L203.1 211.5L203.3 211.9L203.4 212.6L203.6 212.6L203.8 214.2L203.9 212.3L204.1 213.0L204.3 211.9L204.5 213.6L204.6 214.6L204.8 213.6L205.0 213.6L205.1 211.7L205.3 211.7L205.5 210.8L205.6 210.7L205.8 210.7L206.0 210.7L206.2 210.5L206.3 210.6L206.5 210.0L206.7 209.3L206.8 209.6L207.0 209.2L207.2 209.2L207.4 209.6L207.5 210.1L207.7 210.5L207.9 212.1L208.0 212.2L208.2 212.9L208.4 211.8L208.5 212.3L208.7 211.6L208.9 211.6L209.1 211.0L209.2 211.7L209.4 211.5L209.6 212.8L209.7 213.0L209.9 214.0L210.1 214.4L210.3 216.8L210.4 216.5L210.6 214.0L210.8 214.6L210.9 213.4L211.1 214.2L211.3 212.4L211.4 210.9L211.6 210.7L211.8 209.7L212.0 209.4L212.1 209.8L212.3 210.4L212.5 210.9L212.6 211.2L212.8 210.4L213.0 210.6L213.2 209.9L213.3 210.0L213.5 209.9L213.7 209.5L213.8 209.5L214.0 209.3L214.2 209.5L214.3 209.6L214.5 209.4L214.7 209.3L214.9 209.8L215.0 210.0L215.2 210.0L215.4 210.2L215.5 210.0L215.7 209.9L215.9 210.0L216.0 209.5L216.2 209.7L216.4 209.5L216.6 209.5L216.7 209.5L216.9 209.3L217.1 209.4L217.2 209.1L217.4 209.1L217.6 209.1L217.8 209.4L217.9 209.5L218.1 210.3L218.3 210.4L218.4 210.9L218.6 210.8L218.8 212.4L218.9 211.9L219.1 211.8L219.3 212.0L219.5 211.8L219.6 211.5L219.8 211.0L220.0 210.9L220.1 211.8L220.3 215.1L220.5 217.0L220.7 214.5L220.8 215.2L221.0 215.9L221.2 214.8L221.3 215.6L221.5 214.5L221.7 213.6L221.8 211.4L222.0 209.9L222.2 209.4L222.4 209.1L222.5 209.4L222.7 209.6L222.9 209.6L223.0 209.4L223.2 209.6L223.4 209.7L223.6 209.7L223.7 209.3L223.9 209.3L224.1 209.3L224.2 209.2L224.4 209.5L224.6 209.6L224.7 209.6L224.9 209.5L225.1 209.9L225.3 209.6L225.4 209.8L225.6 209.7L225.8 209.9L225.9 209.8L226.1 209.7L226.3 209.5L226.5 209.3L226.6 209.3L226.8 209.2L227.0 209.3L227.1 209.2L227.3 209.1L227.5 209.5L227.6 209.7L227.8 209.8L228.0 209.8L228.2 209.8L228.3 209.8L228.5 209.9L228.7 209.5L228.8 209.7L229.0 209.7L229.2 209.4L229.4 209.2L229.5 209.1L229.7 209.1L229.9 209.1L230.0 209.2L230.2 209.2L230.4 209.2L230.5 209.2L230.7 209.2L230.9 209.5L231.1 209.8L231.2 209.8L231.4 210.0L231.6 209.9L231.7 210.2L231.9 209.7L232.1 209.7L232.3 209.5L232.4 209.4L232.6 209.2L232.8 209.1L232.9 209.3L233.1 209.3L233.3 209.4L233.4 209.3L233.6 209.3L233.8 209.1L234.0 208.9L234.1 208.8L234.3 209.1L234.5 209.6L234.6 210.0L234.8 210.6L235.0 210.9L235.2 211.2L235.3 211.3L235.5 213.7L235.7 212.5L235.8 212.9L236.0 212.0L236.2 210.8L236.3 211.2L236.5 210.7L236.7 211.5L236.9 211.6L237.0 212.1L237.2 213.4L237.4 217.1L237.5 218.3L237.7 216.7L237.9 213.5L238.0 212.2L238.2 211.9L238.4 212.9L238.6 213.8L238.7 214.3L238.9 216.8L239.1 215.7L239.2 215.7L239.4 213.7L239.6 213.9L239.8 214.1L239.9 212.7L240.1 211.8L240.3 211.3L240.4 210.9L240.6 211.5L240.8 212.0L240.9 211.5L241.1 212.8L241.3 212.9L241.5 214.8L241.6 216.5L241.8 218.1L242.0 216.6L242.1 218.1L242.3 218.0L242.5 217.1L242.7 215.0L242.8 212.8L243.0 211.4L243.2 211.0L243.3 210.8L243.5 212.4L243.7 213.9L243.8 215.3L244.0 216.3L244.2 216.3L244.4 217.0L244.5 215.7L244.7 214.5L244.9 214.5L245.0 214.0L245.2 213.2L245.4 214.5L245.6 214.0L245.7 214.9L245.9 213.1L246.1 213.6L246.2 212.9L246.4 213.8L246.6 212.3L246.7 211.9L246.9 211.6L247.1 211.4L247.3 210.7L247.4 210.8L247.6 211.2L247.8 212.1L247.9 212.0L248.1 212.3L248.3 211.5L248.5 211.7L248.6 210.8L248.8 210.2L249.0 209.7L249.1 209.6L249.3 209.2L249.5 209.3L249.6 209.5L249.8 209.8L250.0 210.2L250.2 210.1L250.3 210.3L250.5 210.4L250.7 210.2L250.8 209.6L251.0 209.8L251.2 209.8L251.4 210.0L251.5 209.9L251.7 210.1L251.9 210.2L252.0 210.5L252.2 210.3L252.4 210.8L252.5 211.6L252.7 211.4L252.9 211.8L253.1 212.0L253.2 211.8L253.4 212.9L253.6 213.2L253.7 212.6L253.9 212.4L254.1 213.5L254.3 214.6L254.4 213.6L254.6 213.6L254.8 213.3L254.9 212.5L255.1 212.1L255.3 212.3L255.4 213.7L255.6 214.9L255.8 214.5L256.0 213.2L256.1 212.2L256.3 211.2L256.5 211.7L256.6 212.7L256.8 214.2L257.0 215.4L257.1 215.3L257.3 214.2L257.5 213.0L257.7 212.2L257.8 211.1L258.0 211.4L258.2 210.7L258.3 210.9L258.5 210.7L258.7 210.2L258.9 210.2L259.0 210.1L259.2 209.9L259.4 210.7L259.5 211.6L259.7 211.7L259.9 212.7L260.0 211.9L260.2 211.0L260.4 211.1L260.6 210.5L260.7 211.4L260.9 211.5L261.1 212.5L261.2 212.8L261.4 212.5L261.6 212.2L261.8 211.6L261.9 211.1L262.1 211.6L262.3 211.6L262.4 212.0L262.6 213.0L262.8 213.8L262.9 214.6L263.1 215.1L263.3 216.7L263.5 215.2L263.6 216.8L263.8 216.5L264.0 217.5L264.1 214.2L264.3 212.2L264.5 211.0L264.7 210.5L264.8 210.7L265.0 211.3L265.2 212.4L265.3 214.4L265.5 213.7L265.7 212.4L265.8 211.1L266.0 210.3L266.2 210.1L266.4 211.4L266.5 211.5L266.7 212.1L266.9 213.7L267.0 214.4L267.2 216.2L267.4 217.2L267.6 217.2L267.7 215.9L267.9 213.9L268.1 212.1L268.2 211.7L268.4 211.9L268.6 211.9L268.7 213.0L268.9 217.8L269.1 220.6L269.3 220.4L269.4 218.6L269.6 216.6L269.8 216.2L269.9 212.3L270.1 211.0L270.3 210.2L270.5 210.3L270.6 210.9L270.8 211.8L271.0 211.6L271.1 211.5L271.3 211.3L271.5 211.9L271.6 210.9L271.8 211.1L272.0 210.9L272.2 211.3L272.3 211.4L272.5 211.6L272.7 211.6L272.8 211.3L273.0 210.5L273.2 210.6L273.4 210.3L273.5 209.8L273.7 209.6L273.9 209.3L274.0 209.6L274.2 210.0L274.4 210.3L274.5 210.3L274.7 210.1L274.9 209.8L275.1 209.3L275.2 209.5L275.4 209.4L275.6 209.3L275.7 209.2L275.9 209.2L276.1 209.3L276.3 209.5L276.4 209.4L276.6 209.3L276.8 209.3L276.9 209.4L277.1 209.2L277.3 209.1L277.4 209.3L277.6 209.1L277.8 209.3L278.0 209.1L278.1 209.0L278.3 209.2L278.5 209.3L278.6 209.5L278.8 209.6L279.0 209.3L279.1 209.4L279.3 209.8L279.5 209.6L279.7 209.4L279.8 209.1L280.0 209.0L280.2 209.0L280.3 209.1L280.5 209.3L280.7 209.1L280.9 209.2L281.0 209.4L281.2 209.5L281.4 209.6L281.5 209.6L281.7 209.5L281.9 209.3L282.0 209.1L282.2 209.1L282.4 209.2L282.6 209.2L282.7 209.2L282.9 209.4L283.1 209.4L283.2 209.5L283.4 210.0L283.6 210.0L283.8 209.9L283.9 209.5L284.1 209.2L284.3 209.2L284.4 209.1L284.6 209.1L284.8 209.5L284.9 209.6L285.1 209.5L285.3 209.3L285.5 209.1L285.6 209.2L285.8 209.3L286.0 209.4L286.1 209.5L286.3 209.7L286.5 209.5L286.7 209.3L286.8 209.2L287.0 209.3L287.2 209.7L287.3 209.7L287.5 210.2L287.7 210.7L287.8 210.6L288.0 210.5L288.2 210.4L288.4 210.7L288.5 211.3L288.7 211.8L288.9 212.1L289.0 214.5L289.2 214.1L289.4 212.6L289.6 211.8L289.7 211.0L289.9 211.1L290.1 211.1L290.2 211.1L290.4 211.5L290.6 211.4L290.7 211.1L290.9 210.8L291.1 210.5L291.3 210.2L291.4 210.7L291.6 210.9L291.8 211.1L291.9 211.0L292.1 211.9L292.3 212.5L292.5 211.4L292.6 211.7L292.8 213.6L293.0 214.3L293.1 214.9L293.3 214.4L293.5 214.7L293.6 214.8L293.8 214.3L294.0 213.9L294.2 214.2L294.3 215.4L294.5 215.6L294.7 216.3L294.8 217.3L295.0 216.5L295.2 219.1L295.4 217.0L295.5 215.3L295.7 214.0L295.9 212.3L296.0 210.7L296.2 210.3L296.4 210.7L296.5 211.5L296.7 211.9L296.9 212.7L297.1 212.6L297.2 214.5L297.4 215.2L297.6 215.4L297.7 215.2L297.9 216.0L298.1 214.7" fill="none" stroke="#009E73" stroke-width="1.45" stroke-linejoin="round" stroke-linecap="butt"/>
</g>
<line x1="40.3" y1="143.9" x2="40.3" y2="270.0" stroke="#5c5c5c" stroke-width="1.15"/>
<line x1="39.7" y1="269.4" x2="310.6" y2="269.4" stroke="#5c5c5c" stroke-width="1.15"/>
<line x1="52.5" y1="269.4" x2="52.5" y2="266.2" stroke="#555" stroke-width="0.9"/>
<text x="52.5" y="280.8" font-size="10.0" text-anchor="middle" fill="#1c1c1c" textLength="29.2" lengthAdjust="spacingAndGlyphs" >01 May</text>
<line x1="85.2" y1="269.4" x2="85.2" y2="266.2" stroke="#555" stroke-width="0.9"/>
<text x="85.2" y="280.8" font-size="10.0" text-anchor="middle" fill="#1c1c1c" textLength="29.2" lengthAdjust="spacingAndGlyphs" >05 May</text>
<line x1="118.0" y1="269.4" x2="118.0" y2="266.2" stroke="#555" stroke-width="0.9"/>
<text x="118.0" y="280.8" font-size="10.0" text-anchor="middle" fill="#1c1c1c" textLength="29.2" lengthAdjust="spacingAndGlyphs" >09 May</text>
<line x1="150.7" y1="269.4" x2="150.7" y2="266.2" stroke="#555" stroke-width="0.9"/>
<text x="150.7" y="280.8" font-size="10.0" text-anchor="middle" fill="#1c1c1c" textLength="29.2" lengthAdjust="spacingAndGlyphs" >13 May</text>
<line x1="183.5" y1="269.4" x2="183.5" y2="266.2" stroke="#555" stroke-width="0.9"/>
<text x="183.5" y="280.8" font-size="10.0" text-anchor="middle" fill="#1c1c1c" textLength="29.2" lengthAdjust="spacingAndGlyphs" >17 May</text>
<line x1="216.2" y1="269.4" x2="216.2" y2="266.2" stroke="#555" stroke-width="0.9"/>
<text x="216.2" y="280.8" font-size="10.0" text-anchor="middle" fill="#1c1c1c" textLength="29.2" lengthAdjust="spacingAndGlyphs" >21 May</text>
<line x1="249.0" y1="269.4" x2="249.0" y2="266.2" stroke="#555" stroke-width="0.9"/>
<text x="249.0" y="280.8" font-size="10.0" text-anchor="middle" fill="#1c1c1c" textLength="29.2" lengthAdjust="spacingAndGlyphs" >25 May</text>
<line x1="281.7" y1="269.4" x2="281.7" y2="266.2" stroke="#555" stroke-width="0.9"/>
<text x="281.7" y="280.8" font-size="10.0" text-anchor="middle" fill="#1c1c1c" textLength="29.2" lengthAdjust="spacingAndGlyphs" >29 May</text>
<line x1="306.3" y1="269.4" x2="306.3" y2="266.2" stroke="#555" stroke-width="0.9"/>
<text x="306.3" y="280.8" font-size="10.0" text-anchor="middle" fill="#1c1c1c" textLength="25.1" lengthAdjust="spacingAndGlyphs" >01 Jun</text>
<line x1="40.3" y1="175.5" x2="43.5" y2="175.5" stroke="#555" stroke-width="0.9"/>
<text x="37.3" y="179.4" font-size="10.0" text-anchor="end" fill="#1c1c1c" textLength="20.2" lengthAdjust="spacingAndGlyphs" >2000</text>
<line x1="40.3" y1="208.7" x2="43.5" y2="208.7" stroke="#555" stroke-width="0.9"/>
<text x="37.3" y="212.6" font-size="10.0" text-anchor="end" fill="#1c1c1c" textLength="5.0" lengthAdjust="spacingAndGlyphs" >0</text>
<line x1="40.3" y1="241.9" x2="43.5" y2="241.9" stroke="#555" stroke-width="0.9"/>
<text x="37.3" y="245.8" font-size="10.0" text-anchor="end" fill="#1c1c1c" textLength="26.8" lengthAdjust="spacingAndGlyphs" >−2000</text>
<text x="6.2" y="208.0" font-size="10.3" text-anchor="middle" fill="#1c1c1c" textLength="12.2" lengthAdjust="spacingAndGlyphs" transform="rotate(-90 6.2 208.0)" >nT</text>
<text x="42.9" y="154.8" font-size="10.0" text-anchor="start" fill="#2b2b2b" textLength="12.4" lengthAdjust="spacingAndGlyphs" font-weight="bold" >(c)</text>
<rect x="272.5" y="148.1" width="35.1" height="42.1" rx="1.6" fill="#fff" fill-opacity="0.85" stroke="#d0d0d0" stroke-width="0.8"/>
<line x1="274.8" y1="156.0" x2="289.6" y2="156.0" stroke="#E69F00" stroke-width="1.35"/>
<text x="294.8" y="159.5" font-size="9.4" text-anchor="start" fill="#3c3c3c" textLength="8.3" lengthAdjust="spacingAndGlyphs" >AE</text>
<line x1="274.8" y1="169.0" x2="289.6" y2="169.0" stroke="#56B4E9" stroke-width="1.35"/>
<text x="294.8" y="172.5" font-size="9.4" text-anchor="start" fill="#3c3c3c" textLength="9.0" lengthAdjust="spacingAndGlyphs" >AU</text>
<line x1="274.8" y1="182.2" x2="289.6" y2="182.2" stroke="#009E73" stroke-width="1.35"/>
<text x="294.8" y="185.7" font-size="9.4" text-anchor="start" fill="#3c3c3c" textLength="7.7" lengthAdjust="spacingAndGlyphs" >AL</text>
<rect x="455.0" y="143.9" width="16.4" height="125.5" fill="#E69F00" fill-opacity="0.16"/>
<line x1="381.3" y1="143.9" x2="381.3" y2="269.4" stroke="#d4d4d4" stroke-width="0.7" stroke-dasharray="0.8 1.3" stroke-opacity="0.5"/>
<line x1="414.0" y1="143.9" x2="414.0" y2="269.4" stroke="#d4d4d4" stroke-width="0.7" stroke-dasharray="0.8 1.3" stroke-opacity="0.5"/>
<line x1="446.8" y1="143.9" x2="446.8" y2="269.4" stroke="#d4d4d4" stroke-width="0.7" stroke-dasharray="0.8 1.3" stroke-opacity="0.5"/>
<line x1="479.5" y1="143.9" x2="479.5" y2="269.4" stroke="#d4d4d4" stroke-width="0.7" stroke-dasharray="0.8 1.3" stroke-opacity="0.5"/>
<line x1="512.3" y1="143.9" x2="512.3" y2="269.4" stroke="#d4d4d4" stroke-width="0.7" stroke-dasharray="0.8 1.3" stroke-opacity="0.5"/>
<line x1="545.0" y1="143.9" x2="545.0" y2="269.4" stroke="#d4d4d4" stroke-width="0.7" stroke-dasharray="0.8 1.3" stroke-opacity="0.5"/>
<line x1="577.8" y1="143.9" x2="577.8" y2="269.4" stroke="#d4d4d4" stroke-width="0.7" stroke-dasharray="0.8 1.3" stroke-opacity="0.5"/>
<line x1="610.5" y1="143.9" x2="610.5" y2="269.4" stroke="#d4d4d4" stroke-width="0.7" stroke-dasharray="0.8 1.3" stroke-opacity="0.5"/>
<line x1="635.1" y1="143.9" x2="635.1" y2="269.4" stroke="#d4d4d4" stroke-width="0.7" stroke-dasharray="0.8 1.3" stroke-opacity="0.5"/>
<line x1="368.9" y1="165.8" x2="639.5" y2="165.8" stroke="#d4d4d4" stroke-width="0.7" stroke-dasharray="0.8 1.3" stroke-opacity="0.5"/>
<line x1="368.9" y1="205.3" x2="639.5" y2="205.3" stroke="#d4d4d4" stroke-width="0.7" stroke-dasharray="0.8 1.3" stroke-opacity="0.5"/>
<line x1="368.9" y1="244.8" x2="639.5" y2="244.8" stroke="#d4d4d4" stroke-width="0.7" stroke-dasharray="0.8 1.3" stroke-opacity="0.5"/>
<g clip-path="url(#clipd)">
<path d="M381.3 174.1L381.5 175.1L381.6 174.8L381.8 173.8L382.0 172.8L382.2 173.9L382.3 173.6L382.5 172.9L382.7 171.9L382.8 170.8L383.0 170.8L383.2 171.3L383.3 169.9L383.5 169.5L383.7 168.1L383.9 168.3L384.0 167.6L384.2 168.2L384.4 167.7L384.5 167.4L384.7 166.9L384.9 167.6L385.1 167.3L385.2 167.7L385.4 167.3L385.6 166.3L385.7 163.8L385.9 164.6L386.1 164.5L386.2 164.8L386.4 164.2L386.6 164.4L386.8 164.0L386.9 164.2L387.1 162.7L387.3 162.6L387.4 164.9L387.6 164.7L387.8 164.7L388.0 166.5L388.1 166.5L388.3 166.1L388.5 166.1L388.6 165.4L388.8 166.4L389.0 165.0L389.1 164.1L389.3 163.8L389.5 164.2L389.7 164.1L389.8 164.4L390.0 163.2L390.2 163.0L390.3 161.7L390.5 162.7L390.7 161.8L390.9 162.9L391.0 163.1L391.2 164.0L391.4 163.2L391.5 163.1L391.7 162.5L391.9 161.4L392.0 162.1L392.2 162.4L392.4 162.2L392.6 162.9L392.7 163.8L392.9 163.7L393.1 163.6L393.2 163.4L393.4 163.4L393.6 164.6L393.7 164.0L393.9 162.9L394.1 163.9L394.3 167.9L394.4 172.7L394.6 176.0L394.8 176.0L394.9 177.9L395.1 180.5L395.3 181.5L395.5 182.9L395.6 183.5L395.8 184.6L396.0 184.7L396.1 184.0L396.3 184.5L396.5 182.6L396.6 183.7L396.8 183.3L397.0 183.6L397.2 183.0L397.3 181.5L397.5 180.6L397.7 179.7L397.8 179.4L398.0 181.2L398.2 180.4L398.4 181.5L398.5 181.0L398.7 180.5L398.9 180.3L399.0 179.2L399.2 179.6L399.4 177.7L399.5 177.3L399.7 176.6L399.9 176.4L400.1 176.1L400.2 176.6L400.4 175.3L400.6 176.9L400.7 176.6L400.9 176.7L401.1 176.9L401.3 176.6L401.4 177.2L401.6 176.2L401.8 175.6L401.9 175.8L402.1 175.3L402.3 176.4L402.4 177.6L402.6 177.3L402.8 176.8L403.0 174.3L403.1 174.9L403.3 174.3L403.5 173.9L403.6 172.7L403.8 173.5L404.0 173.5L404.2 174.1L404.3 175.0L404.5 175.6L404.7 175.7L404.8 174.0L405.0 173.8L405.2 174.0L405.3 173.9L405.5 174.3L405.7 174.1L405.9 173.9L406.0 173.2L406.2 172.6L406.4 174.2L406.5 173.6L406.7 172.4L406.9 173.5L407.1 173.5L407.2 173.2L407.4 172.2L407.6 172.0L407.7 172.5L407.9 172.2L408.1 171.5L408.2 171.6L408.4 170.5L408.6 170.9L408.8 172.3L408.9 172.9L409.1 172.7L409.3 172.6L409.4 171.9L409.6 171.6L409.8 170.4L410.0 170.3L410.1 169.7L410.3 171.1L410.5 171.6L410.6 171.0L410.8 171.1L411.0 170.7L411.1 170.7L411.3 171.4L411.5 169.9L411.7 169.5L411.8 171.3L412.0 171.6L412.2 171.3L412.3 170.5L412.5 170.6L412.7 171.7L412.9 170.6L413.0 170.7L413.2 169.6L413.4 169.6L413.5 169.1L413.7 168.9L413.9 168.6L414.0 169.6L414.2 168.9L414.4 169.0L414.6 170.2L414.7 170.2L414.9 170.1L415.1 169.3L415.2 168.7L415.4 169.6L415.6 168.7L415.7 168.7L415.9 169.5L416.1 168.4L416.3 168.9L416.4 169.5L416.6 168.3L416.8 167.4L416.9 168.1L417.1 167.1L417.3 166.4L417.5 167.2L417.6 165.6L417.8 166.2L418.0 166.0L418.1 167.8L418.3 166.4L418.5 166.3L418.6 165.3L418.8 166.2L419.0 164.4L419.2 163.0L419.3 161.9L419.5 165.0L419.7 164.1L419.8 163.7L420.0 166.1L420.2 165.7L420.4 164.9L420.5 163.2L420.7 163.9L420.9 163.5L421.0 163.7L421.2 164.7L421.4 166.4L421.5 166.9L421.7 168.2L421.9 171.7L422.1 172.6L422.2 175.4L422.4 177.5L422.6 177.1L422.7 176.8L422.9 176.2L423.1 175.4L423.3 175.0L423.4 175.4L423.6 175.9L423.8 174.7L423.9 173.7L424.1 173.3L424.3 173.3L424.4 172.7L424.6 172.9L424.8 174.1L425.0 173.5L425.1 172.9L425.3 172.3L425.5 173.2L425.6 173.6L425.8 172.9L426.0 173.1L426.2 172.8L426.3 171.9L426.5 171.7L426.7 170.4L426.8 170.8L427.0 169.9L427.2 169.8L427.3 168.5L427.5 169.7L427.7 170.5L427.9 169.8L428.0 170.8L428.2 171.3L428.4 171.0L428.5 170.7L428.7 171.8L428.9 171.2L429.1 171.2L429.2 171.0L429.4 170.6L429.6 170.7L429.7 169.6L429.9 169.5L430.1 169.8L430.2 169.8L430.4 169.0L430.6 168.7L430.8 168.1L430.9 168.8L431.1 169.0L431.3 167.6L431.4 168.3L431.6 167.4L431.8 167.4L432.0 168.4L432.1 169.8L432.3 168.9L432.5 169.4L432.6 169.7L432.8 170.7L433.0 168.9L433.1 168.7L433.3 168.5L433.5 168.2L433.7 168.0L433.8 168.0L434.0 167.6L434.2 168.0L434.3 170.0L434.5 168.6L434.7 168.0L434.9 167.9L435.0 166.7L435.2 168.2L435.4 170.4L435.5 168.2L435.7 167.7L435.9 169.0L436.0 168.9L436.2 167.9L436.4 168.8L436.6 168.0L436.7 166.2L436.9 165.7L437.1 166.5L437.2 166.7L437.4 167.8L437.6 167.7L437.7 167.9L437.9 168.6L438.1 169.2L438.3 167.1L438.4 167.2L438.6 168.1L438.8 168.2L438.9 166.8L439.1 165.8L439.3 166.9L439.5 167.0L439.6 166.5L439.8 167.1L440.0 168.2L440.1 168.6L440.3 168.1L440.5 168.4L440.6 169.0L440.8 168.5L441.0 167.3L441.2 166.8L441.3 167.2L441.5 165.7L441.7 166.9L441.8 167.1L442.0 168.2L442.2 167.2L442.4 167.3L442.5 168.6L442.7 168.7L442.9 166.6L443.0 166.2L443.2 166.4L443.4 166.0L443.5 167.6L443.7 168.0L443.9 168.5L444.1 168.5L444.2 168.1L444.4 167.1L444.6 166.2L444.7 165.6L444.9 163.9L445.1 165.3L445.3 165.8L445.4 165.7L445.6 166.6L445.8 166.8L445.9 166.3L446.1 167.0L446.3 166.3L446.4 165.3L446.6 166.5L446.8 168.2L447.0 167.3L447.1 167.6L447.3 166.8L447.5 166.9L447.6 166.2L447.8 165.2L448.0 164.8L448.2 165.5L448.3 166.5L448.5 168.2L448.7 168.9L448.8 168.2L449.0 167.1L449.2 167.0L449.3 166.9L449.5 167.6L449.7 168.1L449.9 168.4L450.0 166.7L450.2 167.7L450.4 166.2L450.5 166.6L450.7 165.6L450.9 165.3L451.1 164.7L451.2 163.9L451.4 165.0L451.6 165.8L451.7 165.9L451.9 166.1L452.1 165.2L452.2 165.2L452.4 165.1L452.6 164.7L452.8 165.1L452.9 164.1L453.1 165.8L453.3 165.2L453.4 164.6L453.6 165.2L453.8 165.5L454.0 164.4L454.1 164.7L454.3 166.2L454.5 166.5L454.6 164.9L454.8 165.4L455.0 163.9L455.1 163.0L455.3 163.7L455.5 163.5L455.7 164.4L455.8 164.6L456.0 165.0L456.2 164.1L456.3 165.1L456.5 164.8L456.7 164.4L456.8 163.8L457.0 165.5L457.2 166.2L457.4 165.9L457.5 165.3L457.7 164.7L457.9 164.3L458.0 162.7L458.2 162.9L458.4 163.0L458.6 164.0L458.7 163.6L458.9 163.5L459.1 163.5L459.2 164.1L459.4 163.8L459.6 163.3L459.7 165.7L459.9 169.0L460.1 166.8L460.3 160.4L460.4 155.4L460.6 149.4L460.8 156.5L460.9 170.0L461.1 182.0L461.3 192.2L461.5 198.8L461.6 205.5L461.8 211.5L462.0 216.0L462.1 219.5L462.3 222.0L462.5 224.9L462.6 228.8L462.8 230.6L463.0 236.6L463.2 241.7L463.3 250.5L463.5 256.7L463.7 264.2L463.8 263.0L464.0 257.4L464.2 248.1L464.4 245.9L464.5 242.5L464.7 239.8L464.9 234.4L465.0 228.9L465.2 228.6L465.4 223.7L465.5 228.0L465.7 231.0L465.9 230.1L466.1 228.2L466.2 224.3L466.4 224.2L466.6 221.6L466.7 217.6L466.9 216.7L467.1 216.0L467.3 216.1L467.4 214.8L467.6 212.2L467.8 211.4L467.9 212.8L468.1 208.6L468.3 205.8L468.4 201.8L468.6 201.9L468.8 199.5L469.0 204.3L469.1 206.9L469.3 205.5L469.5 205.5L469.6 201.9L469.8 199.7L470.0 201.4L470.2 196.6L470.3 193.0L470.5 193.0L470.7 196.0L470.8 193.4L471.0 195.1L471.2 194.3L471.3 192.6L471.5 193.1L471.7 194.7L471.9 192.4L472.0 190.4L472.2 190.3L472.4 189.8L472.5 186.3L472.7 186.7L472.9 188.2L473.1 189.7L473.2 189.5L473.4 189.9L473.6 189.1L473.7 190.2L473.9 188.7L474.1 187.9L474.2 185.9L474.4 183.4L474.6 182.1L474.8 181.8L474.9 182.4L475.1 183.4L475.3 182.9L475.4 183.8L475.6 184.0L475.8 184.9L476.0 184.1L476.1 183.6L476.3 180.4L476.5 180.4L476.6 181.7L476.8 180.7L477.0 182.0L477.1 180.5L477.3 179.9L477.5 176.4L477.7 180.1L477.8 180.7L478.0 181.1L478.2 180.8L478.3 179.9L478.5 181.7L478.7 182.4L478.8 181.3L479.0 179.7L479.2 181.6L479.4 183.3L479.5 180.5L479.7 179.2L479.9 178.1L480.0 180.1L480.2 180.3L480.4 179.8L480.6 179.1L480.7 179.4L480.9 179.5L481.1 178.0L481.2 179.1L481.4 179.8L481.6 180.1L481.7 180.3L481.9 179.6L482.1 179.6L482.3 179.8L482.4 177.6L482.6 177.7L482.8 178.5L482.9 176.9L483.1 178.2L483.3 178.3L483.5 178.4L483.6 179.1L483.8 179.2L484.0 178.7L484.1 180.1L484.3 179.7L484.5 178.7L484.6 178.1L484.8 177.6L485.0 174.9L485.2 175.3L485.3 176.4L485.5 177.0L485.7 177.2L485.8 176.8L486.0 177.3L486.2 175.6L486.4 177.5L486.5 176.6L486.7 176.3L486.9 177.8L487.0 176.8L487.2 176.2L487.4 177.1L487.5 174.5L487.7 174.6L487.9 175.8L488.1 176.6L488.2 177.4L488.4 176.7L488.6 176.5L488.7 178.0L488.9 178.4L489.1 178.3L489.3 177.9L489.4 177.6L489.6 177.7L489.8 176.3L489.9 175.2L490.1 175.4L490.3 177.9L490.4 177.2L490.6 176.1L490.8 176.0L491.0 175.6L491.1 175.5L491.3 177.1L491.5 179.1L491.6 177.0L491.8 176.9L492.0 175.8L492.2 175.9L492.3 175.8L492.5 174.1L492.7 175.8L492.8 175.5L493.0 176.5L493.2 175.8L493.3 174.9L493.5 174.2L493.7 174.3L493.9 175.9L494.0 175.2L494.2 174.0L494.4 173.2L494.5 171.5L494.7 172.1L494.9 174.1L495.1 174.8L495.2 174.5L495.4 173.3L495.6 174.9L495.7 173.6L495.9 173.2L496.1 174.4L496.2 173.7L496.4 174.6L496.6 174.3L496.8 174.5L496.9 174.0L497.1 175.2L497.3 174.1L497.4 176.2L497.6 175.6L497.8 175.4L498.0 173.1L498.1 172.7L498.3 173.6L498.5 174.5L498.6 174.0L498.8 174.5L499.0 171.7L499.1 175.2L499.3 174.4L499.5 176.5L499.7 174.1L499.8 174.6L500.0 172.3L500.2 173.2L500.3 172.0L500.5 172.2L500.7 171.3L500.8 171.9L501.0 175.4L501.2 175.1L501.4 175.8L501.5 173.6L501.7 172.7L501.9 172.7L502.0 172.2L502.2 172.2L502.4 172.9L502.6 170.7L502.7 171.2L502.9 171.9L503.1 173.6L503.2 173.8L503.4 173.2L503.6 173.0L503.7 173.2L503.9 172.8L504.1 173.7L504.3 173.1L504.4 174.3L504.6 174.3L504.8 174.2L504.9 172.4L505.1 171.7L505.3 171.7L505.5 173.0L505.6 173.0L505.8 171.7L506.0 170.4L506.1 172.5L506.3 176.3L506.5 179.4L506.6 182.5L506.8 185.5L507.0 184.1L507.2 185.2L507.3 182.5L507.5 183.4L507.7 182.4L507.8 181.1L508.0 179.4L508.2 178.3L508.4 178.0L508.5 177.3L508.7 178.2L508.9 177.8L509.0 176.7L509.2 178.3L509.4 179.9L509.5 180.3L509.7 178.1L509.9 176.8L510.1 177.6L510.2 177.4L510.4 177.0L510.6 176.1L510.7 178.5L510.9 178.5L511.1 178.1L511.3 177.2L511.4 176.8L511.6 177.0L511.8 176.4L511.9 178.9L512.1 174.6L512.3 174.3L512.4 173.9L512.6 175.3L512.8 174.9L513.0 173.0L513.1 172.0L513.3 173.1L513.5 175.1L513.6 174.8L513.8 175.0L514.0 173.9L514.2 175.4L514.3 175.1L514.5 174.4L514.7 174.7L514.8 173.3L515.0 174.6L515.2 175.4L515.3 175.0L515.5 173.4L515.7 173.6L515.9 174.0L516.0 172.7L516.2 172.5L516.4 173.0L516.5 172.6L516.7 172.7L516.9 171.8L517.1 171.7L517.2 172.5L517.4 172.6L517.6 172.5L517.7 171.6L517.9 171.0L518.1 171.8L518.2 171.6L518.4 170.8L518.6 171.7L518.8 174.0L518.9 174.4L519.1 177.1L519.3 178.3L519.4 180.8L519.6 183.5L519.8 184.6L520.0 185.4L520.1 185.9L520.3 185.7L520.5 185.9L520.6 186.3L520.8 186.0L521.0 184.8L521.1 183.5L521.3 186.9L521.5 184.9L521.7 183.0L521.8 181.6L522.0 181.5L522.2 181.1L522.3 182.0L522.5 182.1L522.7 181.4L522.8 182.6L523.0 183.0L523.2 182.1L523.4 183.1L523.5 182.2L523.7 183.1L523.9 181.9L524.0 181.3L524.2 181.4L524.4 181.9L524.6 181.6L524.7 183.1L524.9 182.1L525.1 180.9L525.2 179.0L525.4 179.5L525.6 179.5L525.7 177.7L525.9 176.3L526.1 177.6L526.3 176.8L526.4 176.1L526.6 176.3L526.8 177.8L526.9 178.7L527.1 177.5L527.3 175.0L527.5 176.0L527.6 174.7L527.8 173.6L528.0 176.0L528.1 176.7L528.3 175.0L528.5 174.4L528.6 174.4L528.8 174.9L529.0 174.5L529.2 175.4L529.3 172.8L529.5 174.8L529.7 176.6L529.8 175.7L530.0 173.7L530.2 174.4L530.4 174.3L530.5 175.2L530.7 174.7L530.9 175.3L531.0 175.5L531.2 176.1L531.4 175.4L531.5 172.5L531.7 172.7L531.9 172.4L532.1 170.2L532.2 171.7L532.4 173.0L532.6 172.2L532.7 173.4L532.9 172.6L533.1 171.2L533.3 172.6L533.4 172.8L533.6 170.7L533.8 172.1L533.9 172.6L534.1 171.9L534.3 172.0L534.4 172.6L534.6 170.4L534.8 171.3L535.0 170.9L535.1 171.3L535.3 171.4L535.5 172.5L535.6 170.8L535.8 171.2L536.0 169.6L536.2 171.1L536.3 171.3L536.5 170.4L536.7 170.2L536.8 170.8L537.0 170.7L537.2 171.8L537.3 171.1L537.5 173.4L537.7 171.9L537.9 169.8L538.0 169.0L538.2 168.6L538.4 169.6L538.5 169.3L538.7 170.0L538.9 170.2L539.1 170.2L539.2 173.6L539.4 171.2L539.6 170.3L539.7 169.3L539.9 170.6L540.1 169.7L540.2 169.3L540.4 171.8L540.6 172.9L540.8 171.7L540.9 171.7L541.1 171.0L541.3 171.2L541.4 169.2L541.6 171.4L541.8 172.2L542.0 172.3L542.1 172.7L542.3 172.2L542.5 171.3L542.6 172.1L542.8 170.8L543.0 169.1L543.1 168.3L543.3 166.9L543.5 167.0L543.7 168.2L543.8 167.0L544.0 167.4L544.2 166.5L544.3 168.0L544.5 170.8L544.7 171.6L544.8 170.7L545.0 169.8L545.2 170.0L545.4 168.9L545.5 170.3L545.7 170.8L545.9 169.3L546.0 169.4L546.2 169.4L546.4 168.1L546.6 167.6L546.7 169.1L546.9 169.1L547.1 171.0L547.2 170.4L547.4 169.6L547.6 171.3L547.7 169.0L547.9 167.1L548.1 167.5L548.3 167.3L548.4 166.6L548.6 167.9L548.8 167.4L548.9 167.8L549.1 169.9L549.3 170.5L549.5 170.5L549.6 168.9L549.8 168.9L550.0 168.0L550.1 168.9L550.3 170.3L550.5 167.7L550.6 165.5L550.8 166.5L551.0 167.7L551.2 167.0L551.3 168.9L551.5 169.1L551.7 170.5L551.8 169.4L552.0 168.9L552.2 169.3L552.4 169.8L552.5 170.9L552.7 170.9L552.9 168.8L553.0 169.1L553.2 167.7L553.4 168.9L553.5 168.8L553.7 169.1L553.9 169.1L554.1 168.0L554.2 170.1L554.4 168.6L554.6 167.7L554.7 167.8L554.9 167.7L555.1 168.0L555.3 167.2L555.4 167.3L555.6 168.2L555.8 167.8L555.9 166.7L556.1 166.6L556.3 166.8L556.4 166.8L556.6 167.4L556.8 167.7L557.0 169.3L557.1 168.5L557.3 166.8L557.5 167.2L557.6 167.8L557.8 166.4L558.0 166.3L558.2 166.2L558.3 165.8L558.5 165.3L558.7 165.7L558.8 166.7L559.0 164.7L559.2 165.1L559.3 166.2L559.5 165.8L559.7 164.6L559.9 166.5L560.0 165.0L560.2 165.5L560.4 163.7L560.5 164.0L560.7 164.9L560.9 164.2L561.1 163.7L561.2 165.1L561.4 165.3L561.6 166.2L561.7 165.4L561.9 167.1L562.1 167.0L562.2 168.9L562.4 167.3L562.6 169.2L562.8 169.2L562.9 167.9L563.1 167.7L563.3 167.8L563.4 168.3L563.6 168.1L563.8 169.3L564.0 168.2L564.1 167.4L564.3 167.1L564.5 167.8L564.6 167.2L564.8 167.8L565.0 167.8L565.1 168.5L565.3 169.4L565.5 170.9L565.7 173.5L565.8 171.9L566.0 171.7L566.2 169.6L566.3 172.2L566.5 171.0L566.7 172.1L566.8 171.9L567.0 172.6L567.2 171.9L567.4 171.9L567.5 171.0L567.7 171.2L567.9 171.1L568.0 170.2L568.2 170.5L568.4 171.3L568.6 170.5L568.7 171.4L568.9 171.4L569.1 172.2L569.2 173.0L569.4 175.8L569.6 173.9L569.7 174.8L569.9 173.5L570.1 171.8L570.3 173.9L570.4 173.1L570.6 173.6L570.8 173.5L570.9 175.1L571.1 174.9L571.3 174.8L571.5 173.6L571.6 172.2L571.8 173.3L572.0 174.6L572.1 173.0L572.3 174.4L572.5 175.1L572.6 175.0L572.8 174.4L573.0 173.7L573.2 174.4L573.3 174.2L573.5 172.0L573.7 170.8L573.8 171.1L574.0 171.3L574.2 171.7L574.4 170.6L574.5 171.4L574.7 171.3L574.9 171.8L575.0 172.3L575.2 171.9L575.4 171.7L575.5 172.1L575.7 171.8L575.9 171.5L576.1 171.9L576.2 172.2L576.4 171.9L576.6 170.9L576.7 169.9L576.9 170.1L577.1 170.7L577.3 170.8L577.4 169.0L577.6 168.8L577.8 170.5L577.9 170.6L578.1 171.1L578.3 171.3L578.4 172.6L578.6 171.7L578.8 172.5L579.0 172.2L579.1 170.0L579.3 169.2L579.5 170.5L579.6 171.4L579.8 171.8L580.0 172.9L580.2 172.7L580.3 171.9L580.5 172.1L580.7 170.5L580.8 170.3L581.0 170.7L581.2 168.7L581.3 168.4L581.5 168.9L581.7 167.4L581.9 167.1L582.0 168.8L582.2 168.9L582.4 169.7L582.5 171.1L582.7 168.8L582.9 167.8L583.1 169.8L583.2 169.4L583.4 171.2L583.6 169.7L583.7 169.8L583.9 170.2L584.1 168.9L584.2 169.3L584.4 169.9L584.6 169.1L584.8 169.8L584.9 169.1L585.1 169.5L585.3 169.0L585.4 168.9L585.6 168.6L585.8 170.2L586.0 168.4L586.1 169.3L586.3 168.0L586.5 169.5L586.6 170.1L586.8 170.4L587.0 169.3L587.1 170.1L587.3 169.8L587.5 171.6L587.7 171.6L587.8 170.9L588.0 170.8L588.2 172.5L588.3 171.2L588.5 171.9L588.7 169.5L588.8 170.1L589.0 168.2L589.2 168.5L589.4 168.9L589.5 170.1L589.7 170.4L589.9 170.1L590.0 172.2L590.2 170.6L590.4 171.7L590.6 171.5L590.7 173.7L590.9 172.0L591.1 170.7L591.2 170.4L591.4 170.1L591.6 170.6L591.7 170.4L591.9 169.3L592.1 170.1L592.3 169.8L592.4 169.3L592.6 170.0L592.8 169.9L592.9 169.8L593.1 170.5L593.3 168.1L593.5 169.4L593.6 168.1L593.8 167.9L594.0 170.8L594.1 170.3L594.3 169.2L594.5 168.8L594.6 170.2L594.8 169.9L595.0 171.1L595.2 171.7L595.3 171.2L595.5 170.6L595.7 168.8L595.8 168.9L596.0 168.3L596.2 170.1L596.4 171.1L596.5 171.1L596.7 168.9L596.9 170.6L597.0 171.8L597.2 171.1L597.4 169.4L597.5 171.1L597.7 170.8L597.9 171.7L598.1 169.5L598.2 168.9L598.4 168.9L598.6 169.2L598.7 169.5L598.9 169.4L599.1 170.0L599.3 170.6L599.4 171.1L599.6 170.4L599.8 170.6L599.9 169.2L600.1 171.2L600.3 169.8L600.4 169.0L600.6 167.8L600.8 168.5L601.0 170.1L601.1 170.4L601.3 168.7L601.5 169.0L601.6 169.2L601.8 169.5L602.0 169.2L602.2 169.1L602.3 170.4L602.5 170.1L602.7 168.5L602.8 167.0L603.0 167.6L603.2 168.4L603.3 167.0L603.5 167.6L603.7 168.9L603.9 168.7L604.0 167.7L604.2 166.3L604.4 167.4L604.5 167.1L604.7 167.7L604.9 166.6L605.1 166.8L605.2 166.9L605.4 168.1L605.6 168.2L605.7 168.2L605.9 171.3L606.1 168.9L606.2 168.3L606.4 168.1L606.6 168.1L606.8 167.6L606.9 167.2L607.1 168.3L607.3 167.6L607.4 167.2L607.6 167.0L607.8 168.2L607.9 167.7L608.1 168.4L608.3 167.3L608.5 165.7L608.6 165.1L608.8 165.8L609.0 166.5L609.1 166.8L609.3 166.1L609.5 166.7L609.7 166.8L609.8 168.7L610.0 168.3L610.2 167.9L610.3 167.5L610.5 165.5L610.7 166.7L610.8 167.4L611.0 165.9L611.2 166.5L611.4 166.1L611.5 165.5L611.7 165.2L611.9 165.8L612.0 164.5L612.2 163.1L612.4 164.6L612.6 164.8L612.7 163.7L612.9 164.0L613.1 165.0L613.2 164.9L613.4 163.7L613.6 164.6L613.7 163.9L613.9 163.4L614.1 163.9L614.3 163.1L614.4 162.5L614.6 161.7L614.8 161.3L614.9 163.2L615.1 161.9L615.3 161.2L615.5 160.2L615.6 161.1L615.8 159.8L616.0 159.3L616.1 160.3L616.3 159.1L616.5 161.5L616.6 163.7L616.8 164.2L617.0 166.0L617.2 166.1L617.3 166.6L617.5 166.5L617.7 166.1L617.8 166.7L618.0 166.4L618.2 166.4L618.4 168.0L618.5 167.6L618.7 167.7L618.9 167.8L619.0 167.0L619.2 165.9L619.4 166.1L619.5 168.2L619.7 167.6L619.9 167.8L620.1 167.9L620.2 167.4L620.4 167.7L620.6 166.0L620.7 166.2L620.9 166.5L621.1 165.9L621.3 165.5L621.4 164.8L621.6 164.9L621.8 165.5L621.9 165.6L622.1 167.8L622.3 168.4L622.4 166.4L622.6 166.4L622.8 164.4L623.0 163.5L623.1 165.8L623.3 165.8L623.5 163.5L623.6 165.5L623.8 165.8L624.0 166.5L624.2 167.1L624.3 167.5L624.5 167.6L624.7 167.0L624.8 168.1L625.0 167.7L625.2 168.6L625.3 168.1L625.5 168.0L625.7 169.0L625.9 168.9L626.0 169.7L626.2 170.3L626.4 168.9L626.5 170.9L626.7 169.9L626.9 169.3" fill="none" stroke="#E69F00" stroke-width="1.45" stroke-linejoin="round" stroke-linecap="butt"/>
</g>
<line x1="368.9" y1="143.9" x2="368.9" y2="270.0" stroke="#5c5c5c" stroke-width="1.15"/>
<line x1="368.3" y1="269.4" x2="639.5" y2="269.4" stroke="#5c5c5c" stroke-width="1.15"/>
<line x1="381.3" y1="269.4" x2="381.3" y2="266.2" stroke="#555" stroke-width="0.9"/>
<text x="381.3" y="280.8" font-size="10.0" text-anchor="middle" fill="#1c1c1c" textLength="29.2" lengthAdjust="spacingAndGlyphs" >01 May</text>
<line x1="414.0" y1="269.4" x2="414.0" y2="266.2" stroke="#555" stroke-width="0.9"/>
<text x="414.0" y="280.8" font-size="10.0" text-anchor="middle" fill="#1c1c1c" textLength="29.2" lengthAdjust="spacingAndGlyphs" >05 May</text>
<line x1="446.8" y1="269.4" x2="446.8" y2="266.2" stroke="#555" stroke-width="0.9"/>
<text x="446.8" y="280.8" font-size="10.0" text-anchor="middle" fill="#1c1c1c" textLength="29.2" lengthAdjust="spacingAndGlyphs" >09 May</text>
<line x1="479.5" y1="269.4" x2="479.5" y2="266.2" stroke="#555" stroke-width="0.9"/>
<text x="479.5" y="280.8" font-size="10.0" text-anchor="middle" fill="#1c1c1c" textLength="29.2" lengthAdjust="spacingAndGlyphs" >13 May</text>
<line x1="512.3" y1="269.4" x2="512.3" y2="266.2" stroke="#555" stroke-width="0.9"/>
<text x="512.3" y="280.8" font-size="10.0" text-anchor="middle" fill="#1c1c1c" textLength="29.2" lengthAdjust="spacingAndGlyphs" >17 May</text>
<line x1="545.0" y1="269.4" x2="545.0" y2="266.2" stroke="#555" stroke-width="0.9"/>
<text x="545.0" y="280.8" font-size="10.0" text-anchor="middle" fill="#1c1c1c" textLength="29.2" lengthAdjust="spacingAndGlyphs" >21 May</text>
<line x1="577.8" y1="269.4" x2="577.8" y2="266.2" stroke="#555" stroke-width="0.9"/>
<text x="577.8" y="280.8" font-size="10.0" text-anchor="middle" fill="#1c1c1c" textLength="29.2" lengthAdjust="spacingAndGlyphs" >25 May</text>
<line x1="610.5" y1="269.4" x2="610.5" y2="266.2" stroke="#555" stroke-width="0.9"/>
<text x="610.5" y="280.8" font-size="10.0" text-anchor="middle" fill="#1c1c1c" textLength="29.2" lengthAdjust="spacingAndGlyphs" >29 May</text>
<line x1="635.1" y1="269.4" x2="635.1" y2="266.2" stroke="#555" stroke-width="0.9"/>
<text x="635.1" y="280.8" font-size="10.0" text-anchor="middle" fill="#1c1c1c" textLength="25.1" lengthAdjust="spacingAndGlyphs" >01 Jun</text>
<line x1="368.9" y1="165.8" x2="372.1" y2="165.8" stroke="#555" stroke-width="0.9"/>
<text x="365.9" y="169.7" font-size="10.0" text-anchor="end" fill="#1c1c1c" textLength="5.0" lengthAdjust="spacingAndGlyphs" >0</text>
<line x1="368.9" y1="205.3" x2="372.1" y2="205.3" stroke="#555" stroke-width="0.9"/>
<text x="365.9" y="209.2" font-size="10.0" text-anchor="end" fill="#1c1c1c" textLength="21.8" lengthAdjust="spacingAndGlyphs" >−200</text>
<line x1="368.9" y1="244.8" x2="372.1" y2="244.8" stroke="#555" stroke-width="0.9"/>
<text x="365.9" y="248.7" font-size="10.0" text-anchor="end" fill="#1c1c1c" textLength="21.8" lengthAdjust="spacingAndGlyphs" >−400</text>
<text x="339.9" y="207.4" font-size="10.3" text-anchor="middle" fill="#1c1c1c" textLength="57.6" lengthAdjust="spacingAndGlyphs" transform="rotate(-90 339.9 207.4)" >SYM-H (nT)</text>
<text x="371.5" y="154.8" font-size="10.0" text-anchor="start" fill="#2b2b2b" textLength="12.4" lengthAdjust="spacingAndGlyphs" font-weight="bold" >(d)</text>
<rect x="219.6" y="292.3" width="40.0" height="174.9" fill="#E69F00" fill-opacity="0.16"/>
<line x1="47.5" y1="292.3" x2="47.5" y2="467.2" stroke="#fff" stroke-opacity="0.7" stroke-width="0.9"/>
<line x1="54.5" y1="292.3" x2="54.5" y2="467.2" stroke="#fff" stroke-opacity="0.28" stroke-width="0.9"/>
<line x1="173.5" y1="292.3" x2="173.5" y2="467.2" stroke="#fff" stroke-opacity="0.5" stroke-width="0.9"/>
<line x1="453.5" y1="292.3" x2="453.5" y2="467.2" stroke="#fff" stroke-opacity="0.68" stroke-width="0.9"/>
<line x1="59.6" y1="292.3" x2="59.6" y2="467.2" stroke="#fff" stroke-opacity="0.42" stroke-width="0.5" stroke-dasharray="1.3 1.0"/>
<line x1="159.6" y1="292.3" x2="159.6" y2="467.2" stroke="#fff" stroke-opacity="0.42" stroke-width="0.5" stroke-dasharray="1.3 1.0"/>
<line x1="259.6" y1="292.3" x2="259.6" y2="467.2" stroke="#fff" stroke-opacity="0.42" stroke-width="0.5" stroke-dasharray="1.3 1.0"/>
<line x1="359.6" y1="292.3" x2="359.6" y2="467.2" stroke="#fff" stroke-opacity="0.42" stroke-width="0.5" stroke-dasharray="1.3 1.0"/>
<line x1="459.6" y1="292.3" x2="459.6" y2="467.2" stroke="#fff" stroke-opacity="0.42" stroke-width="0.5" stroke-dasharray="1.3 1.0"/>
<line x1="559.6" y1="292.3" x2="559.6" y2="467.2" stroke="#fff" stroke-opacity="0.42" stroke-width="0.5" stroke-dasharray="1.3 1.0"/>
<line x1="39.6" y1="292.3" x2="639.6" y2="292.3" stroke="#fff" stroke-opacity="0.42" stroke-width="0.5" stroke-dasharray="1.3 1.0"/>
<line x1="39.6" y1="327.5" x2="639.6" y2="327.5" stroke="#fff" stroke-opacity="0.42" stroke-width="0.5" stroke-dasharray="1.3 1.0"/>
<line x1="39.6" y1="363.1" x2="639.6" y2="363.1" stroke="#fff" stroke-opacity="0.42" stroke-width="0.5" stroke-dasharray="1.3 1.0"/>
<line x1="39.6" y1="398.8" x2="639.6" y2="398.8" stroke="#fff" stroke-opacity="0.42" stroke-width="0.5" stroke-dasharray="1.3 1.0"/>
<line x1="39.6" y1="434.4" x2="639.6" y2="434.4" stroke="#fff" stroke-opacity="0.42" stroke-width="0.5" stroke-dasharray="1.3 1.0"/>
<line x1="39.6" y1="292.3" x2="39.6" y2="467.7" stroke="#2a2a2a" stroke-width="1.0"/>
<line x1="39.1" y1="467.2" x2="639.6" y2="467.2" stroke="#2a2a2a" stroke-width="1.0"/>
<line x1="59.6" y1="467.2" x2="59.6" y2="464.2" stroke="#222" stroke-width="0.9"/>
<text x="59.6" y="478.7" font-size="10.0" text-anchor="middle" fill="#1c1c1c" textLength="29.2" lengthAdjust="spacingAndGlyphs" >02 May</text>
<line x1="159.6" y1="467.2" x2="159.6" y2="464.2" stroke="#222" stroke-width="0.9"/>
<text x="159.6" y="478.7" font-size="10.0" text-anchor="middle" fill="#1c1c1c" textLength="29.2" lengthAdjust="spacingAndGlyphs" >07 May</text>
<line x1="259.6" y1="467.2" x2="259.6" y2="464.2" stroke="#222" stroke-width="0.9"/>
<text x="259.6" y="478.7" font-size="10.0" text-anchor="middle" fill="#1c1c1c" textLength="29.2" lengthAdjust="spacingAndGlyphs" >12 May</text>
<line x1="359.6" y1="467.2" x2="359.6" y2="464.2" stroke="#222" stroke-width="0.9"/>
<text x="359.6" y="478.7" font-size="10.0" text-anchor="middle" fill="#1c1c1c" textLength="29.2" lengthAdjust="spacingAndGlyphs" >17 May</text>
<line x1="459.6" y1="467.2" x2="459.6" y2="464.2" stroke="#222" stroke-width="0.9"/>
<text x="459.6" y="478.7" font-size="10.0" text-anchor="middle" fill="#1c1c1c" textLength="29.2" lengthAdjust="spacingAndGlyphs" >22 May</text>
<line x1="559.6" y1="467.2" x2="559.6" y2="464.2" stroke="#222" stroke-width="0.9"/>
<text x="559.6" y="478.7" font-size="10.0" text-anchor="middle" fill="#1c1c1c" textLength="29.2" lengthAdjust="spacingAndGlyphs" >27 May</text>
<line x1="39.6" y1="292.3" x2="42.6" y2="292.3" stroke="#222" stroke-width="0.9"/>
<text x="36.4" y="296.2" font-size="10.0" text-anchor="end" fill="#1c1c1c" textLength="15.1" lengthAdjust="spacingAndGlyphs" >100</text>
<line x1="39.6" y1="327.5" x2="42.6" y2="327.5" stroke="#222" stroke-width="0.9"/>
<text x="36.4" y="331.4" font-size="10.0" text-anchor="end" fill="#1c1c1c" textLength="10.1" lengthAdjust="spacingAndGlyphs" >80</text>
<line x1="39.6" y1="363.1" x2="42.6" y2="363.1" stroke="#222" stroke-width="0.9"/>
<text x="36.4" y="367.0" font-size="10.0" text-anchor="end" fill="#1c1c1c" textLength="10.1" lengthAdjust="spacingAndGlyphs" >60</text>
<line x1="39.6" y1="398.8" x2="42.6" y2="398.8" stroke="#222" stroke-width="0.9"/>
<text x="36.4" y="402.7" font-size="10.0" text-anchor="end" fill="#1c1c1c" textLength="10.1" lengthAdjust="spacingAndGlyphs" >40</text>
<line x1="39.6" y1="434.4" x2="42.6" y2="434.4" stroke="#222" stroke-width="0.9"/>
<text x="36.4" y="438.3" font-size="10.0" text-anchor="end" fill="#1c1c1c" textLength="10.1" lengthAdjust="spacingAndGlyphs" >20</text>
<text x="18.9" y="380.1" font-size="10.3" text-anchor="middle" fill="#1c1c1c" textLength="71.0" lengthAdjust="spacingAndGlyphs" transform="rotate(-90 18.9 380.1)" >Protons (MeV)</text>
<text x="339.5" y="492.0" font-size="9.6" text-anchor="middle" fill="#1c1c1c" textLength="44.0" lengthAdjust="spacingAndGlyphs" >Time (UTC)</text>
<text x="46.8" y="305.9" font-size="10.4" text-anchor="start" fill="#333" textLength="11.6" lengthAdjust="spacingAndGlyphs" font-weight="bold" >(e)</text>
<rect x="659.9" y="292.0" width="7.1" height="175.2" fill="url(#vir)" stroke="#333" stroke-width="0.7"/>
<line x1="667.0" y1="319.0" x2="664.2" y2="319.0" stroke="#222" stroke-width="0.9"/>
<text x="670.0" y="322.9" font-size="10.0" text-anchor="start" fill="#1c1c1c" textLength="5.0" lengthAdjust="spacingAndGlyphs" >4</text>
<line x1="667.0" y1="349.1" x2="664.2" y2="349.1" stroke="#222" stroke-width="0.9"/>
<text x="670.0" y="353.0" font-size="10.0" text-anchor="start" fill="#1c1c1c" textLength="5.0" lengthAdjust="spacingAndGlyphs" >3</text>
<line x1="667.0" y1="379.1" x2="664.2" y2="379.1" stroke="#222" stroke-width="0.9"/>
<text x="670.0" y="383.0" font-size="10.0" text-anchor="start" fill="#1c1c1c" textLength="5.0" lengthAdjust="spacingAndGlyphs" >2</text>
<line x1="667.0" y1="409.2" x2="664.2" y2="409.2" stroke="#222" stroke-width="0.9"/>
<text x="670.0" y="413.1" font-size="10.0" text-anchor="start" fill="#1c1c1c" textLength="5.0" lengthAdjust="spacingAndGlyphs" >1</text>
<line x1="667.0" y1="439.3" x2="664.2" y2="439.3" stroke="#222" stroke-width="0.9"/>
<text x="670.0" y="443.2" font-size="10.0" text-anchor="start" fill="#1c1c1c" textLength="5.0" lengthAdjust="spacingAndGlyphs" >0</text>
<text x="683.9" y="379.8" font-size="10.3" text-anchor="middle" fill="#1c1c1c" textLength="51.0" lengthAdjust="spacingAndGlyphs" transform="rotate(-90 683.9 379.8)" >log10 flux</text>
</svg>
</body></html>
